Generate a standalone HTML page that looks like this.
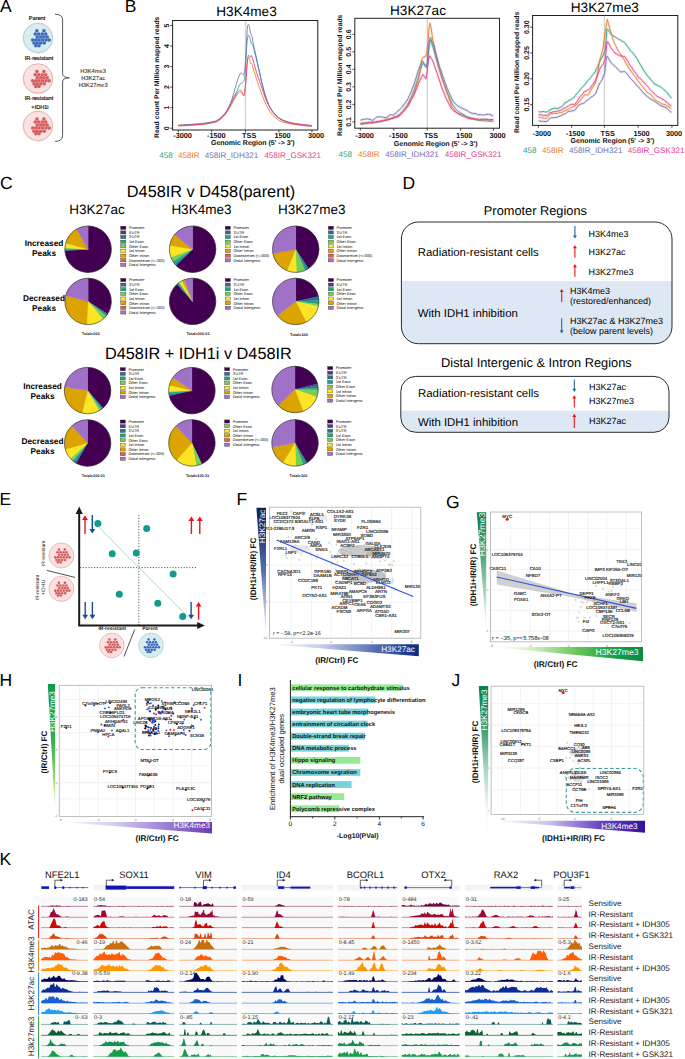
<!DOCTYPE html>
<html><head><meta charset="utf-8"><title>Figure</title>
<style>
html,body{margin:0;padding:0;background:#fff;}
body{width:685px;height:1059px;overflow:hidden;}
svg{display:block;font-family:"Liberation Sans", sans-serif;text-rendering:geometricPrecision;}
</style></head><body>
<svg width="685" height="1059" viewBox="0 0 685 1059">
<rect width="685" height="1059" fill="#fff"/>
<text x="37.00" y="20.00" font-size="5.60" text-anchor="middle" stroke="#000" stroke-width="0.15">Parent</text>
<circle cx="38.00" cy="38.40" r="14.90" fill="none" stroke="#e8e8e8" stroke-width="1" />
<circle cx="38.00" cy="37.80" r="14.70" fill="#d9edf1" stroke="#a9c5cb" stroke-width="0.8" />
<circle cx="36.90" cy="30.80" r="1.75" fill="#3b69bd" />
<circle cx="43.90" cy="30.80" r="1.75" fill="#3b69bd" />
<circle cx="35.20" cy="34.00" r="1.75" fill="#3b69bd" />
<circle cx="38.70" cy="34.00" r="1.75" fill="#3b69bd" />
<circle cx="42.20" cy="34.00" r="1.75" fill="#3b69bd" />
<circle cx="45.70" cy="34.00" r="1.75" fill="#3b69bd" />
<circle cx="37.20" cy="37.00" r="1.75" fill="#3b69bd" />
<circle cx="40.70" cy="37.00" r="1.75" fill="#3b69bd" />
<circle cx="43.90" cy="37.00" r="1.75" fill="#3b69bd" />
<circle cx="47.20" cy="37.00" r="1.75" fill="#3b69bd" />
<circle cx="32.60" cy="40.00" r="1.75" fill="#3b69bd" />
<circle cx="35.80" cy="40.00" r="1.75" fill="#3b69bd" />
<circle cx="39.00" cy="40.00" r="1.75" fill="#3b69bd" />
<circle cx="42.50" cy="40.00" r="1.75" fill="#3b69bd" />
<circle cx="46.00" cy="40.00" r="1.75" fill="#3b69bd" />
<circle cx="49.20" cy="40.00" r="1.75" fill="#3b69bd" />
<circle cx="34.00" cy="43.10" r="1.75" fill="#3b69bd" />
<circle cx="37.20" cy="43.10" r="1.75" fill="#3b69bd" />
<circle cx="40.70" cy="43.10" r="1.75" fill="#3b69bd" />
<circle cx="44.20" cy="43.10" r="1.75" fill="#3b69bd" />
<circle cx="35.80" cy="45.70" r="1.75" fill="#3b69bd" />
<circle cx="39.00" cy="45.70" r="1.75" fill="#3b69bd" />
<text x="39.00" y="59.90" font-size="5.60" text-anchor="middle" stroke="#000" stroke-width="0.15">IR-resistant</text>
<circle cx="38.00" cy="79.10" r="14.90" fill="none" stroke="#e8e8e8" stroke-width="1" />
<circle cx="38.00" cy="78.50" r="14.70" fill="#fbe1e1" stroke="#e5a3a3" stroke-width="0.8" />
<circle cx="36.90" cy="71.50" r="1.75" fill="#d55b5d" />
<circle cx="43.90" cy="71.50" r="1.75" fill="#d55b5d" />
<circle cx="35.20" cy="74.70" r="1.75" fill="#d55b5d" />
<circle cx="38.70" cy="74.70" r="1.75" fill="#d55b5d" />
<circle cx="42.20" cy="74.70" r="1.75" fill="#d55b5d" />
<circle cx="45.70" cy="74.70" r="1.75" fill="#d55b5d" />
<circle cx="37.20" cy="77.70" r="1.75" fill="#d55b5d" />
<circle cx="40.70" cy="77.70" r="1.75" fill="#d55b5d" />
<circle cx="43.90" cy="77.70" r="1.75" fill="#d55b5d" />
<circle cx="47.20" cy="77.70" r="1.75" fill="#d55b5d" />
<circle cx="32.60" cy="80.70" r="1.75" fill="#d55b5d" />
<circle cx="35.80" cy="80.70" r="1.75" fill="#d55b5d" />
<circle cx="39.00" cy="80.70" r="1.75" fill="#d55b5d" />
<circle cx="42.50" cy="80.70" r="1.75" fill="#d55b5d" />
<circle cx="46.00" cy="80.70" r="1.75" fill="#d55b5d" />
<circle cx="49.20" cy="80.70" r="1.75" fill="#d55b5d" />
<circle cx="34.00" cy="83.80" r="1.75" fill="#d55b5d" />
<circle cx="37.20" cy="83.80" r="1.75" fill="#d55b5d" />
<circle cx="40.70" cy="83.80" r="1.75" fill="#d55b5d" />
<circle cx="44.20" cy="83.80" r="1.75" fill="#d55b5d" />
<circle cx="35.80" cy="86.40" r="1.75" fill="#d55b5d" />
<circle cx="39.00" cy="86.40" r="1.75" fill="#d55b5d" />
<text x="39.00" y="100.30" font-size="5.60" text-anchor="middle" stroke="#000" stroke-width="0.15">IR-resistant</text>
<text x="40.00" y="108.60" font-size="5.60" text-anchor="middle" stroke="#000" stroke-width="0.15">+IDH1i</text>
<circle cx="38.00" cy="126.50" r="14.90" fill="none" stroke="#e8e8e8" stroke-width="1" />
<circle cx="38.00" cy="125.90" r="14.70" fill="#fbe1e1" stroke="#e5a3a3" stroke-width="0.8" />
<circle cx="36.90" cy="118.90" r="1.75" fill="#d55b5d" />
<circle cx="43.90" cy="118.90" r="1.75" fill="#d55b5d" />
<circle cx="35.20" cy="122.10" r="1.75" fill="#d55b5d" />
<circle cx="38.70" cy="122.10" r="1.75" fill="#d55b5d" />
<circle cx="42.20" cy="122.10" r="1.75" fill="#d55b5d" />
<circle cx="45.70" cy="122.10" r="1.75" fill="#d55b5d" />
<circle cx="37.20" cy="125.10" r="1.75" fill="#d55b5d" />
<circle cx="40.70" cy="125.10" r="1.75" fill="#d55b5d" />
<circle cx="43.90" cy="125.10" r="1.75" fill="#d55b5d" />
<circle cx="47.20" cy="125.10" r="1.75" fill="#d55b5d" />
<circle cx="32.60" cy="128.10" r="1.75" fill="#d55b5d" />
<circle cx="35.80" cy="128.10" r="1.75" fill="#d55b5d" />
<circle cx="39.00" cy="128.10" r="1.75" fill="#d55b5d" />
<circle cx="42.50" cy="128.10" r="1.75" fill="#d55b5d" />
<circle cx="46.00" cy="128.10" r="1.75" fill="#d55b5d" />
<circle cx="49.20" cy="128.10" r="1.75" fill="#d55b5d" />
<circle cx="34.00" cy="131.20" r="1.75" fill="#d55b5d" />
<circle cx="37.20" cy="131.20" r="1.75" fill="#d55b5d" />
<circle cx="40.70" cy="131.20" r="1.75" fill="#d55b5d" />
<circle cx="44.20" cy="131.20" r="1.75" fill="#d55b5d" />
<circle cx="35.80" cy="133.80" r="1.75" fill="#d55b5d" />
<circle cx="39.00" cy="133.80" r="1.75" fill="#d55b5d" />
<path d="M55,14.2 Q62.6,14.2 62.6,20 L62.6,73.5 Q62.6,77.8 69.3,77.8 Q62.6,77.8 62.6,82 L62.6,135.5 Q62.6,141.4 55,141.4" fill="none" stroke="#444" stroke-width="0.9" />
<text x="93.20" y="73.28" font-size="5.80" text-anchor="middle" >H3K4me3</text>
<text x="93.20" y="80.08" font-size="5.80" text-anchor="middle" >H3K27ac</text>
<text x="93.20" y="86.88" font-size="5.80" text-anchor="middle" >H3K27me3</text>
<text x="246.50" y="16.07" font-size="13.60" text-anchor="middle" >H3K4me3</text>
<line x1="245.50" y1="20.50" x2="245.50" y2="130.00" stroke="#d2d2d2" stroke-width="1.3" />
<path d="M178.32,125.58C180.6,125.4 187.6,125.0 191.9,124.7C196.2,124.4 200.8,124.0 204.4,123.6C207.9,123.2 210.9,122.6 213.1,122.1C215.3,121.6 215.6,121.9 217.5,120.5C219.4,119.2 222.5,116.5 224.5,114.0C226.6,111.5 228.3,108.0 229.8,105.4C231.2,102.8 232.1,100.8 233.3,98.4C234.4,96.1 235.7,93.8 236.8,91.4C237.9,89.1 238.8,85.9 239.8,84.4C240.9,82.9 242.1,83.4 242.9,82.2C243.7,81.1 244.2,81.3 244.7,77.4C245.2,73.5 245.6,64.8 246.0,58.8C246.4,52.8 246.7,45.1 247.1,41.3C247.5,37.4 248.0,36.4 248.4,35.6C248.8,34.8 249.2,35.7 249.5,36.5C249.8,37.2 250.1,39.0 250.4,40.2C250.7,41.3 250.9,42.5 251.2,43.2C251.5,44.0 251.8,44.2 252.1,44.6C252.4,45.0 252.5,44.0 253.0,45.7C253.5,47.3 254.4,51.4 255.2,54.4C255.9,57.4 256.6,60.5 257.4,63.6C258.1,66.7 258.8,69.9 259.6,73.0C260.3,76.2 261.0,79.4 261.7,82.4C262.5,85.4 263.2,88.4 263.9,91.0C264.7,93.6 265.3,95.8 266.1,98.2C266.9,100.6 267.8,103.2 268.8,105.2C269.7,107.2 270.6,108.8 271.6,110.2C272.5,111.7 273.5,112.8 274.4,114.0C275.4,115.1 275.9,115.9 277.3,117.0C278.7,118.1 280.9,119.6 282.8,120.5C284.6,121.5 286.6,122.0 288.5,122.5C290.3,123.1 292.1,123.5 293.9,123.8C295.8,124.2 297.4,124.4 299.4,124.7C301.4,125.0 303.7,125.3 305.8,125.6C307.8,125.8 310.7,126.1 311.7,126.2" fill="none" stroke="#2ea586" stroke-width="0.9" stroke-linejoin="round"/>
<path d="M178.32,126.01C180.6,125.9 187.6,125.6 191.9,125.4C196.2,125.1 200.8,124.7 204.4,124.3C207.9,123.8 210.9,123.2 213.1,122.7C215.3,122.3 215.6,122.6 217.5,121.4C219.4,120.2 222.5,118.0 224.5,115.7C226.6,113.4 228.3,110.0 229.8,107.6C231.2,105.2 232.1,103.4 233.3,101.3C234.4,99.2 235.7,96.7 236.8,95.1C237.9,93.6 239.0,92.4 239.8,92.1C240.7,91.7 241.0,92.6 241.6,93.2C242.2,93.8 242.8,95.4 243.4,95.6C243.9,95.8 244.2,97.1 244.7,94.3C245.1,91.4 245.6,83.7 246.0,78.5C246.4,73.3 246.8,66.5 247.1,63.2C247.4,59.9 247.4,59.7 247.7,58.8C248.0,57.9 248.5,57.5 248.8,57.9C249.2,58.4 249.6,60.4 249.9,61.4C250.2,62.4 250.5,63.5 250.8,63.8C251.1,64.2 251.5,62.8 251.9,63.6C252.3,64.4 252.7,66.8 253.2,68.6C253.8,70.5 254.4,72.2 255.2,74.6C255.9,76.9 256.9,80.1 257.8,82.9C258.7,85.7 259.7,88.6 260.7,91.2C261.6,93.8 262.4,95.9 263.3,98.2C264.2,100.5 265.1,102.7 266.1,104.8C267.1,106.9 268.3,108.9 269.4,110.7C270.5,112.4 271.4,113.9 272.7,115.3C274.0,116.7 275.6,118.1 277.3,119.2C279.0,120.4 280.2,121.2 282.8,122.1C285.3,122.9 289.5,123.7 292.6,124.3C295.7,124.8 298.2,125.0 301.4,125.4C304.6,125.7 310.0,126.1 311.7,126.2" fill="none" stroke="#e8802c" stroke-width="0.9" stroke-linejoin="round"/>
<path d="M178.32,125.14C180.6,125.0 187.6,124.6 191.9,124.3C196.2,123.9 200.8,123.6 204.4,123.2C207.9,122.7 210.9,122.2 213.1,121.6C215.3,121.1 216.1,120.7 217.5,119.9C219.0,119.1 220.4,118.2 221.9,116.8C223.4,115.5 224.8,114.1 226.3,111.8C227.7,109.4 229.5,105.6 230.7,102.8C231.8,100.0 232.4,97.8 233.3,94.9C234.2,92.0 235.0,88.4 235.9,85.5C236.8,82.6 237.7,79.5 238.5,77.4C239.3,75.3 240.1,73.6 240.7,73.0C241.3,72.4 241.8,73.4 242.3,73.7C242.7,74.0 243.1,75.5 243.6,74.8C244.0,74.0 244.4,73.4 244.9,69.3C245.3,65.2 245.8,56.9 246.2,50.0C246.6,43.2 246.9,32.4 247.3,28.1C247.7,23.9 248.0,24.6 248.4,24.4C248.8,24.2 249.2,25.7 249.5,27.0C249.8,28.4 250.1,31.3 250.4,32.5C250.7,33.8 250.9,33.8 251.2,34.5C251.5,35.2 251.8,35.6 252.1,36.9C252.4,38.2 252.5,39.6 253.0,42.2C253.5,44.7 254.4,48.9 255.2,52.2C255.9,55.6 256.6,58.9 257.4,62.3C258.1,65.7 258.8,69.1 259.6,72.4C260.3,75.7 261.0,79.0 261.7,82.0C262.5,85.0 263.2,87.9 263.9,90.5C264.7,93.2 265.3,95.4 266.1,97.8C266.9,100.1 267.8,102.8 268.8,104.8C269.7,106.8 270.6,108.4 271.6,109.8C272.5,111.3 273.5,112.4 274.4,113.5C275.4,114.7 275.9,115.5 277.3,116.6C278.7,117.7 280.9,119.2 282.8,120.1C284.6,121.0 286.6,121.5 288.5,122.1C290.3,122.6 292.1,123.0 293.9,123.4C295.8,123.8 297.4,124.0 299.4,124.3C301.4,124.6 303.7,124.8 305.8,125.1C307.8,125.4 310.7,125.9 311.7,126.0" fill="none" stroke="#7571b5" stroke-width="0.9" stroke-linejoin="round"/>
<path d="M178.32,125.58C180.6,125.5 187.6,125.2 191.9,124.9C196.2,124.6 200.8,124.3 204.4,123.8C207.9,123.4 210.9,122.8 213.1,122.3C215.3,121.8 215.6,122.0 217.5,120.8C219.4,119.5 222.5,117.0 224.5,114.6C226.6,112.2 228.3,108.9 229.8,106.3C231.2,103.8 232.1,101.5 233.3,99.3C234.4,97.1 235.7,94.9 236.8,93.4C237.9,91.9 239.0,90.4 239.8,90.1C240.7,89.8 241.1,90.9 241.6,91.6C242.1,92.4 242.5,94.3 242.9,94.7C243.4,95.1 243.8,95.4 244.2,93.8C244.7,92.2 245.1,89.4 245.5,85.1C246.0,80.7 246.5,72.3 246.9,67.6C247.3,62.8 247.6,58.6 248.0,56.6C248.3,54.6 248.7,55.4 249.0,55.5C249.4,55.6 249.8,57.3 250.1,57.3C250.5,57.3 250.9,55.4 251.2,55.5C251.6,55.6 251.7,55.7 252.3,57.7C253.0,59.7 254.3,64.7 255.2,67.8C256.1,70.9 256.9,73.5 257.8,76.3C258.7,79.1 259.7,81.7 260.7,84.4C261.6,87.1 262.4,89.7 263.3,92.3C264.2,94.9 265.1,97.6 266.1,100.0C267.1,102.3 268.3,104.5 269.4,106.5C270.5,108.5 271.4,110.3 272.7,112.0C274.0,113.7 275.6,115.4 277.3,116.8C279.0,118.2 280.2,119.3 282.8,120.3C285.3,121.4 289.5,122.5 292.6,123.2C295.7,123.9 298.2,124.1 301.4,124.5C304.6,124.8 310.0,125.2 311.7,125.4" fill="none" stroke="#e83e96" stroke-width="0.9" stroke-linejoin="round"/>
<rect x="172.60" y="20.50" width="145.20" height="109.50" fill="none" stroke="#222" stroke-width="1.0" />
<line x1="170.20" y1="128.20" x2="172.60" y2="128.20" stroke="#222" stroke-width="0.8" />
<text x="0" y="2.51" font-size="7.00" text-anchor="middle" font-weight="bold" fill="#111" transform="translate(166.30 128.20) rotate(-90)">0</text>
<line x1="170.20" y1="107.66" x2="172.60" y2="107.66" stroke="#222" stroke-width="0.8" />
<text x="0" y="2.51" font-size="7.00" text-anchor="middle" font-weight="bold" fill="#111" transform="translate(166.30 107.66) rotate(-90)">1</text>
<line x1="170.20" y1="87.12" x2="172.60" y2="87.12" stroke="#222" stroke-width="0.8" />
<text x="0" y="2.51" font-size="7.00" text-anchor="middle" font-weight="bold" fill="#111" transform="translate(166.30 87.12) rotate(-90)">2</text>
<line x1="170.20" y1="66.58" x2="172.60" y2="66.58" stroke="#222" stroke-width="0.8" />
<text x="0" y="2.51" font-size="7.00" text-anchor="middle" font-weight="bold" fill="#111" transform="translate(166.30 66.58) rotate(-90)">3</text>
<line x1="170.20" y1="46.04" x2="172.60" y2="46.04" stroke="#222" stroke-width="0.8" />
<text x="0" y="2.51" font-size="7.00" text-anchor="middle" font-weight="bold" fill="#111" transform="translate(166.30 46.04) rotate(-90)">4</text>
<line x1="170.20" y1="25.50" x2="172.60" y2="25.50" stroke="#222" stroke-width="0.8" />
<text x="0" y="2.51" font-size="7.00" text-anchor="middle" font-weight="bold" fill="#111" transform="translate(166.30 25.50) rotate(-90)">5</text>
<line x1="178.30" y1="130.00" x2="178.30" y2="132.40" stroke="#222" stroke-width="0.8" />
<text x="182.60" y="138.11" font-size="7.30" text-anchor="middle" font-weight="bold" fill="#111" >-3000</text>
<line x1="211.70" y1="130.00" x2="211.70" y2="132.40" stroke="#222" stroke-width="0.8" />
<text x="216.30" y="138.11" font-size="7.30" text-anchor="middle" font-weight="bold" fill="#111" >-1500</text>
<line x1="245.50" y1="130.00" x2="245.50" y2="132.40" stroke="#222" stroke-width="0.8" />
<text x="249.20" y="138.11" font-size="7.30" text-anchor="middle" font-weight="bold" fill="#111" >TSS</text>
<line x1="278.90" y1="130.00" x2="278.90" y2="132.40" stroke="#222" stroke-width="0.8" />
<text x="282.50" y="138.11" font-size="7.30" text-anchor="middle" font-weight="bold" fill="#111" >1500</text>
<line x1="311.90" y1="130.00" x2="311.90" y2="132.40" stroke="#222" stroke-width="0.8" />
<text x="316.00" y="138.11" font-size="7.30" text-anchor="middle" font-weight="bold" fill="#111" >3000</text>
<text x="252.80" y="144.51" font-size="7.00" text-anchor="middle" font-weight="bold" fill="#111" >Genomic Region (5' -&gt; 3')</text>
<text x="0" y="2.43" font-size="6.80" text-anchor="middle" font-weight="bold" fill="#111" transform="translate(156.60 77.25) rotate(-90)">Read count Per Million mapped reads</text>
<text x="159.20" y="157.60" font-size="8.10" fill="#2ea586" >458</text>
<text x="178.10" y="157.60" font-size="8.10" fill="#e8802c" >458IR</text>
<text x="204.70" y="157.60" font-size="8.10" fill="#7571b5" >458IR_IDH321</text>
<text x="264.30" y="157.60" font-size="8.10" fill="#e83e96" >458IR_GSK321</text>
<text x="418.00" y="15.37" font-size="13.60" text-anchor="middle" >H3K27ac</text>
<line x1="427.30" y1="18.30" x2="427.30" y2="128.20" stroke="#d2d2d2" stroke-width="1.3" />
<path d="M360.5,124.3L361.9,124.3L363.2,124.0L364.6,123.2L366.0,122.9L367.2,123.2L368.4,123.1L369.6,122.9L370.9,122.6L372.1,122.6L373.3,122.5L374.5,122.4L375.7,122.0L376.9,122.0L378.1,121.8L379.4,121.7L380.6,121.6L381.8,121.4L383.0,120.9L384.2,120.6L385.4,120.2L386.7,119.8L387.9,119.6L389.1,119.4L390.4,118.8L391.6,118.4L392.9,118.2L394.1,117.6L395.4,117.1L396.6,116.4L398.0,115.2L399.4,114.3L400.7,113.1L402.1,112.2L403.5,110.6L404.9,108.5L406.2,106.3L407.6,104.8L409.0,101.8L410.5,98.9L412.0,96.0L413.4,91.9L414.9,87.9L416.3,83.7L418.0,78.6L419.6,73.1L420.9,68.2L422.3,64.2L423.4,63.5L424.9,65.8L426.2,67.4L427.3,64.3L428.4,52.5L429.5,42.4L430.4,40.2L431.7,43.4L433.9,50.0L435.2,55.2L436.6,60.0L438.0,65.2L439.5,70.1L440.9,74.8L442.4,79.4L443.9,83.6L445.5,88.0L447.0,92.6L448.4,95.3L449.7,98.8L451.1,101.4L452.5,104.8L453.8,106.1L455.1,108.1L456.4,109.6L457.7,111.1L459.0,111.9L460.3,112.8L461.6,113.5L462.9,114.1L464.1,114.9L465.4,115.8L466.7,116.9L467.9,117.1L469.1,117.2L470.4,118.0L471.6,118.4L472.8,118.9L474.0,118.9L475.2,119.6L476.4,119.6L477.7,120.4L478.9,120.3L480.1,120.3L481.3,120.8L482.5,120.4L483.7,120.8L484.9,121.0L486.1,120.8L487.4,120.8L488.6,121.3L489.8,121.1L491.0,121.4L492.2,121.1L493.4,121.4" fill="none" stroke="#2ea586" stroke-width="2.6" stroke-opacity="0.18" stroke-linejoin="round"/>
<path d="M360.5,124.3L361.9,124.3L363.2,124.0L364.6,123.2L366.0,122.9L367.2,123.2L368.4,123.1L369.6,122.9L370.9,122.6L372.1,122.6L373.3,122.5L374.5,122.4L375.7,122.0L376.9,122.0L378.1,121.8L379.4,121.7L380.6,121.6L381.8,121.4L383.0,120.9L384.2,120.6L385.4,120.2L386.7,119.8L387.9,119.6L389.1,119.4L390.4,118.8L391.6,118.4L392.9,118.2L394.1,117.6L395.4,117.1L396.6,116.4L398.0,115.2L399.4,114.3L400.7,113.1L402.1,112.2L403.5,110.6L404.9,108.5L406.2,106.3L407.6,104.8L409.0,101.8L410.5,98.9L412.0,96.0L413.4,91.9L414.9,87.9L416.3,83.7L418.0,78.6L419.6,73.1L420.9,68.2L422.3,64.2L423.4,63.5L424.9,65.8L426.2,67.4L427.3,64.3L428.4,52.5L429.5,42.4L430.4,40.2L431.7,43.4L433.9,50.0L435.2,55.2L436.6,60.0L438.0,65.2L439.5,70.1L440.9,74.8L442.4,79.4L443.9,83.6L445.5,88.0L447.0,92.6L448.4,95.3L449.7,98.8L451.1,101.4L452.5,104.8L453.8,106.1L455.1,108.1L456.4,109.6L457.7,111.1L459.0,111.9L460.3,112.8L461.6,113.5L462.9,114.1L464.1,114.9L465.4,115.8L466.7,116.9L467.9,117.1L469.1,117.2L470.4,118.0L471.6,118.4L472.8,118.9L474.0,118.9L475.2,119.6L476.4,119.6L477.7,120.4L478.9,120.3L480.1,120.3L481.3,120.8L482.5,120.4L483.7,120.8L484.9,121.0L486.1,120.8L487.4,120.8L488.6,121.3L489.8,121.1L491.0,121.4L492.2,121.1L493.4,121.4" fill="none" stroke="#2ea586" stroke-width="0.9" stroke-linejoin="round"/>
<path d="M360.5,123.2L361.7,122.9L362.9,123.0L364.2,122.8L365.4,122.8L366.6,122.8L367.8,122.3L369.0,122.2L370.2,122.6L371.5,122.1L372.8,122.0L374.2,122.3L375.6,121.8L376.9,121.8L378.3,121.3L379.7,121.2L381.0,120.6L382.4,120.6L383.8,120.4L385.1,119.9L386.5,119.7L387.9,119.3L389.1,118.6L390.3,118.6L391.5,118.0L392.7,117.5L394.0,116.9L395.2,117.0L396.4,116.3L397.6,116.0L398.8,115.7L400.1,114.2L401.3,112.9L402.6,111.2L403.8,110.1L405.1,108.4L406.3,107.3L407.6,105.9L408.9,102.8L410.2,100.2L411.5,97.6L412.8,95.4L414.2,92.5L415.6,88.2L417.1,83.6L418.5,79.4L420.5,68.6L421.8,59.6L423.4,56.9L425.1,56.9L426.6,53.3L428.0,41.4L429.0,28.4L429.9,23.1L431.0,27.3L432.8,40.1L434.3,46.9L435.8,54.4L437.5,61.0L439.1,67.6L440.8,73.4L442.4,79.5L443.9,83.6L445.5,88.3L447.0,92.6L448.5,96.8L449.9,101.0L451.4,105.9L452.8,108.1L454.3,109.8L455.8,112.4L457.0,112.9L458.2,113.5L459.5,114.3L460.7,115.3L462.0,116.1L463.2,116.3L464.5,117.0L465.8,117.1L467.1,117.8L468.5,118.0L469.8,118.7L471.1,119.1L472.3,119.0L473.5,119.5L474.7,119.3L476.0,119.4L477.2,119.9L478.4,119.8L479.6,120.1L480.9,120.0L482.3,119.9L483.6,119.5L484.9,119.2L486.2,119.4L487.4,119.2L488.6,119.7L489.8,119.8L491.0,119.6L492.2,119.7L493.4,119.9" fill="none" stroke="#e8802c" stroke-width="2.6" stroke-opacity="0.18" stroke-linejoin="round"/>
<path d="M360.5,123.2L361.7,122.9L362.9,123.0L364.2,122.8L365.4,122.8L366.6,122.8L367.8,122.3L369.0,122.2L370.2,122.6L371.5,122.1L372.8,122.0L374.2,122.3L375.6,121.8L376.9,121.8L378.3,121.3L379.7,121.2L381.0,120.6L382.4,120.6L383.8,120.4L385.1,119.9L386.5,119.7L387.9,119.3L389.1,118.6L390.3,118.6L391.5,118.0L392.7,117.5L394.0,116.9L395.2,117.0L396.4,116.3L397.6,116.0L398.8,115.7L400.1,114.2L401.3,112.9L402.6,111.2L403.8,110.1L405.1,108.4L406.3,107.3L407.6,105.9L408.9,102.8L410.2,100.2L411.5,97.6L412.8,95.4L414.2,92.5L415.6,88.2L417.1,83.6L418.5,79.4L420.5,68.6L421.8,59.6L423.4,56.9L425.1,56.9L426.6,53.3L428.0,41.4L429.0,28.4L429.9,23.1L431.0,27.3L432.8,40.1L434.3,46.9L435.8,54.4L437.5,61.0L439.1,67.6L440.8,73.4L442.4,79.5L443.9,83.6L445.5,88.3L447.0,92.6L448.5,96.8L449.9,101.0L451.4,105.9L452.8,108.1L454.3,109.8L455.8,112.4L457.0,112.9L458.2,113.5L459.5,114.3L460.7,115.3L462.0,116.1L463.2,116.3L464.5,117.0L465.8,117.1L467.1,117.8L468.5,118.0L469.8,118.7L471.1,119.1L472.3,119.0L473.5,119.5L474.7,119.3L476.0,119.4L477.2,119.9L478.4,119.8L479.6,120.1L480.9,120.0L482.3,119.9L483.6,119.5L484.9,119.2L486.2,119.4L487.4,119.2L488.6,119.7L489.8,119.8L491.0,119.6L492.2,119.7L493.4,119.9" fill="none" stroke="#e8802c" stroke-width="0.9" stroke-linejoin="round"/>
<path d="M360.5,120.3L362.0,119.8L363.4,119.3L364.9,119.2L366.3,119.0L367.6,118.9L369.0,119.2L370.4,119.5L371.7,120.0L373.0,120.5L374.3,119.0L375.6,118.2L376.9,116.9L378.2,116.8L379.6,116.8L380.9,116.8L382.2,117.3L383.5,117.3L385.1,117.6L386.8,117.9L388.4,116.1L390.1,114.7L391.7,114.9L393.4,115.0L395.0,113.8L396.6,112.5L398.0,110.7L399.4,109.8L400.7,108.6L402.1,107.2L403.6,105.0L405.0,103.2L406.5,101.0L408.0,98.7L409.4,95.7L410.9,92.5L412.3,88.4L413.8,84.8L415.3,80.5L416.9,75.3L418.5,69.8L420.2,65.7L421.8,61.8L422.9,61.3L424.4,64.2L426.2,66.0L427.3,63.9L428.4,50.3L429.5,39.9L430.4,37.5L431.7,40.9L433.9,45.3L435.2,50.9L436.6,56.4L438.0,61.7L439.5,66.6L440.9,70.4L442.4,74.9L443.9,79.2L445.5,83.8L447.0,88.0L448.4,91.0L449.7,94.3L451.1,97.0L452.5,100.2L453.9,102.3L455.4,103.5L456.9,105.3L458.1,106.1L459.4,107.1L460.7,107.7L461.9,108.1L463.2,108.8L464.5,109.3L465.8,110.1L467.1,110.5L468.5,111.6L469.8,112.3L471.1,113.0L472.4,113.2L473.7,113.7L475.0,113.4L476.3,113.9L477.7,114.7L479.0,114.7L480.3,114.6L481.6,115.0L482.9,114.9L484.3,115.0L485.6,114.5L487.0,114.4L488.3,114.5L489.7,114.2L490.9,114.8L492.2,115.8L493.4,115.9" fill="none" stroke="#7571b5" stroke-width="2.6" stroke-opacity="0.18" stroke-linejoin="round"/>
<path d="M360.5,120.3L362.0,119.8L363.4,119.3L364.9,119.2L366.3,119.0L367.6,118.9L369.0,119.2L370.4,119.5L371.7,120.0L373.0,120.5L374.3,119.0L375.6,118.2L376.9,116.9L378.2,116.8L379.6,116.8L380.9,116.8L382.2,117.3L383.5,117.3L385.1,117.6L386.8,117.9L388.4,116.1L390.1,114.7L391.7,114.9L393.4,115.0L395.0,113.8L396.6,112.5L398.0,110.7L399.4,109.8L400.7,108.6L402.1,107.2L403.6,105.0L405.0,103.2L406.5,101.0L408.0,98.7L409.4,95.7L410.9,92.5L412.3,88.4L413.8,84.8L415.3,80.5L416.9,75.3L418.5,69.8L420.2,65.7L421.8,61.8L422.9,61.3L424.4,64.2L426.2,66.0L427.3,63.9L428.4,50.3L429.5,39.9L430.4,37.5L431.7,40.9L433.9,45.3L435.2,50.9L436.6,56.4L438.0,61.7L439.5,66.6L440.9,70.4L442.4,74.9L443.9,79.2L445.5,83.8L447.0,88.0L448.4,91.0L449.7,94.3L451.1,97.0L452.5,100.2L453.9,102.3L455.4,103.5L456.9,105.3L458.1,106.1L459.4,107.1L460.7,107.7L461.9,108.1L463.2,108.8L464.5,109.3L465.8,110.1L467.1,110.5L468.5,111.6L469.8,112.3L471.1,113.0L472.4,113.2L473.7,113.7L475.0,113.4L476.3,113.9L477.7,114.7L479.0,114.7L480.3,114.6L481.6,115.0L482.9,114.9L484.3,115.0L485.6,114.5L487.0,114.4L488.3,114.5L489.7,114.2L490.9,114.8L492.2,115.8L493.4,115.9" fill="none" stroke="#7571b5" stroke-width="0.9" stroke-linejoin="round"/>
<path d="M360.5,123.6L361.7,123.6L362.9,123.6L364.2,123.5L365.4,123.5L366.6,123.3L367.8,123.3L369.0,122.6L370.2,122.8L371.5,123.0L372.8,122.7L374.2,122.6L375.6,122.0L376.9,122.1L378.3,121.6L379.7,121.6L381.0,121.3L382.4,120.7L383.8,120.5L385.1,120.3L386.5,120.4L387.9,120.0L389.1,119.3L390.3,119.3L391.5,118.6L392.7,118.5L394.0,117.8L395.2,117.4L396.4,117.6L397.6,116.8L398.8,116.4L400.1,115.5L401.3,114.0L402.6,112.2L403.8,111.2L405.1,109.6L406.3,108.3L407.6,106.6L408.9,104.6L410.2,102.0L411.5,99.8L412.8,97.3L414.2,94.6L415.6,91.0L417.1,87.2L418.5,83.5L420.0,80.4L421.5,77.4L422.9,74.4L424.4,76.4L426.0,78.8L427.1,71.8L428.4,59.8L429.9,55.9L431.5,58.8L433.2,61.7L434.4,65.5L435.7,69.3L436.9,72.5L438.4,77.5L439.8,81.3L441.3,86.1L442.8,90.2L444.4,93.7L445.9,98.2L447.3,100.6L448.6,103.5L450.0,105.9L451.4,108.7L452.6,109.6L453.9,111.0L455.2,111.4L456.5,112.6L457.7,113.6L459.0,114.1L460.2,114.3L461.5,114.8L462.7,115.5L463.9,116.2L465.2,116.3L466.4,117.2L467.7,117.8L468.9,118.3L470.2,118.0L471.6,118.7L472.9,118.3L474.3,118.6L475.6,118.9L476.9,119.2L478.3,119.0L479.6,119.5L480.9,119.3L482.1,119.2L483.4,119.3L484.6,119.3L485.9,119.3L487.1,119.4L488.4,119.8L489.7,120.0L490.9,119.6L492.2,119.6L493.4,119.9" fill="none" stroke="#e83e96" stroke-width="2.6" stroke-opacity="0.18" stroke-linejoin="round"/>
<path d="M360.5,123.6L361.7,123.6L362.9,123.6L364.2,123.5L365.4,123.5L366.6,123.3L367.8,123.3L369.0,122.6L370.2,122.8L371.5,123.0L372.8,122.7L374.2,122.6L375.6,122.0L376.9,122.1L378.3,121.6L379.7,121.6L381.0,121.3L382.4,120.7L383.8,120.5L385.1,120.3L386.5,120.4L387.9,120.0L389.1,119.3L390.3,119.3L391.5,118.6L392.7,118.5L394.0,117.8L395.2,117.4L396.4,117.6L397.6,116.8L398.8,116.4L400.1,115.5L401.3,114.0L402.6,112.2L403.8,111.2L405.1,109.6L406.3,108.3L407.6,106.6L408.9,104.6L410.2,102.0L411.5,99.8L412.8,97.3L414.2,94.6L415.6,91.0L417.1,87.2L418.5,83.5L420.0,80.4L421.5,77.4L422.9,74.4L424.4,76.4L426.0,78.8L427.1,71.8L428.4,59.8L429.9,55.9L431.5,58.8L433.2,61.7L434.4,65.5L435.7,69.3L436.9,72.5L438.4,77.5L439.8,81.3L441.3,86.1L442.8,90.2L444.4,93.7L445.9,98.2L447.3,100.6L448.6,103.5L450.0,105.9L451.4,108.7L452.6,109.6L453.9,111.0L455.2,111.4L456.5,112.6L457.7,113.6L459.0,114.1L460.2,114.3L461.5,114.8L462.7,115.5L463.9,116.2L465.2,116.3L466.4,117.2L467.7,117.8L468.9,118.3L470.2,118.0L471.6,118.7L472.9,118.3L474.3,118.6L475.6,118.9L476.9,119.2L478.3,119.0L479.6,119.5L480.9,119.3L482.1,119.2L483.4,119.3L484.6,119.3L485.9,119.3L487.1,119.4L488.4,119.8L489.7,120.0L490.9,119.6L492.2,119.6L493.4,119.9" fill="none" stroke="#e83e96" stroke-width="0.9" stroke-linejoin="round"/>
<rect x="354.80" y="18.30" width="144.70" height="109.90" fill="none" stroke="#222" stroke-width="1.0" />
<line x1="352.40" y1="121.90" x2="354.80" y2="121.90" stroke="#222" stroke-width="0.8" />
<text x="0" y="2.51" font-size="7.00" text-anchor="middle" font-weight="bold" fill="#111" transform="translate(348.40 121.90) rotate(-90)">0.1</text>
<line x1="352.40" y1="104.38" x2="354.80" y2="104.38" stroke="#222" stroke-width="0.8" />
<text x="0" y="2.51" font-size="7.00" text-anchor="middle" font-weight="bold" fill="#111" transform="translate(348.40 104.38) rotate(-90)">0.2</text>
<line x1="352.40" y1="86.86" x2="354.80" y2="86.86" stroke="#222" stroke-width="0.8" />
<text x="0" y="2.51" font-size="7.00" text-anchor="middle" font-weight="bold" fill="#111" transform="translate(348.40 86.86) rotate(-90)">0.3</text>
<line x1="352.40" y1="69.34" x2="354.80" y2="69.34" stroke="#222" stroke-width="0.8" />
<text x="0" y="2.51" font-size="7.00" text-anchor="middle" font-weight="bold" fill="#111" transform="translate(348.40 69.34) rotate(-90)">0.4</text>
<line x1="352.40" y1="51.82" x2="354.80" y2="51.82" stroke="#222" stroke-width="0.8" />
<text x="0" y="2.51" font-size="7.00" text-anchor="middle" font-weight="bold" fill="#111" transform="translate(348.40 51.82) rotate(-90)">0.5</text>
<line x1="352.40" y1="34.30" x2="354.80" y2="34.30" stroke="#222" stroke-width="0.8" />
<text x="0" y="2.51" font-size="7.00" text-anchor="middle" font-weight="bold" fill="#111" transform="translate(348.40 34.30) rotate(-90)">0.6</text>
<line x1="360.30" y1="128.20" x2="360.30" y2="130.60" stroke="#222" stroke-width="0.8" />
<text x="364.60" y="138.41" font-size="7.30" text-anchor="middle" font-weight="bold" fill="#111" >-3000</text>
<line x1="393.80" y1="128.20" x2="393.80" y2="130.60" stroke="#222" stroke-width="0.8" />
<text x="398.40" y="138.41" font-size="7.30" text-anchor="middle" font-weight="bold" fill="#111" >-1500</text>
<line x1="427.30" y1="128.20" x2="427.30" y2="130.60" stroke="#222" stroke-width="0.8" />
<text x="431.00" y="138.41" font-size="7.30" text-anchor="middle" font-weight="bold" fill="#111" >TSS</text>
<line x1="460.60" y1="128.20" x2="460.60" y2="130.60" stroke="#222" stroke-width="0.8" />
<text x="464.20" y="138.41" font-size="7.30" text-anchor="middle" font-weight="bold" fill="#111" >1500</text>
<line x1="493.40" y1="128.20" x2="493.40" y2="130.60" stroke="#222" stroke-width="0.8" />
<text x="497.50" y="138.41" font-size="7.30" text-anchor="middle" font-weight="bold" fill="#111" >3000</text>
<text x="435.70" y="145.71" font-size="7.00" text-anchor="middle" font-weight="bold" fill="#111" >Genomic Region (5' -&gt; 3')</text>
<text x="0" y="2.43" font-size="6.80" text-anchor="middle" font-weight="bold" fill="#111" transform="translate(339.20 75.25) rotate(-90)">Read count Per Million mapped reads</text>
<text x="338.40" y="156.60" font-size="8.10" fill="#2ea586" >458</text>
<text x="358.10" y="156.60" font-size="8.10" fill="#e8802c" >458IR</text>
<text x="385.20" y="156.60" font-size="8.10" fill="#7571b5" >458IR_IDH321</text>
<text x="444.80" y="156.60" font-size="8.10" fill="#e83e96" >458IR_GSK321</text>
<text x="604.80" y="12.17" font-size="13.60" text-anchor="middle" >H3K27me3</text>
<line x1="604.40" y1="15.50" x2="604.40" y2="125.40" stroke="#d2d2d2" stroke-width="1.3" />
<path d="M538.5,111.8L540.0,111.9L541.5,111.8L542.9,111.4L544.6,111.8L546.2,112.1L547.8,111.5L549.5,110.3L550.9,109.7L552.4,108.7L553.9,108.3L555.5,108.2L557.2,108.7L558.6,108.2L560.1,107.5L561.5,107.0L563.2,105.2L564.8,102.8L566.3,102.2L567.7,101.5L569.2,100.3L570.7,99.8L572.1,98.8L573.6,98.0L575.2,95.7L576.9,93.6L578.5,91.9L580.1,89.7L581.6,88.0L583.1,86.3L584.5,84.9L586.2,83.0L587.8,80.6L590.0,78.4L591.5,76.5L592.9,74.5L594.4,73.2L596.0,69.7L597.7,66.8L599.8,61.3L601.5,58.3L603.1,55.6L605.3,50.2L606.9,29.5L607.3,28.9L609.0,31.1L610.8,34.2L612.2,35.3L613.6,35.9L615.0,37.0L616.4,37.5L617.9,39.0L619.3,39.6L620.7,40.1L622.1,41.3L623.4,41.9L624.8,42.6L626.3,44.9L627.7,46.7L629.2,48.8L630.6,50.9L632.0,52.4L633.5,53.6L634.9,55.7L636.3,57.4L637.7,59.8L639.0,62.4L640.4,64.7L641.8,66.9L643.1,69.4L644.5,71.9L646.0,73.5L647.4,76.0L648.9,77.1L650.3,79.0L651.7,80.9L653.2,82.3L654.6,84.3L656.0,84.4L657.3,85.4L658.7,85.9L660.1,86.3L661.3,87.6L662.6,88.4L663.9,89.7L665.1,90.8L666.4,91.7L667.7,93.3L668.9,95.1L670.2,96.5L671.4,98.2" fill="none" stroke="#2ea586" stroke-width="2.6" stroke-opacity="0.18" stroke-linejoin="round"/>
<path d="M538.5,111.8L540.0,111.9L541.5,111.8L542.9,111.4L544.6,111.8L546.2,112.1L547.8,111.5L549.5,110.3L550.9,109.7L552.4,108.7L553.9,108.3L555.5,108.2L557.2,108.7L558.6,108.2L560.1,107.5L561.5,107.0L563.2,105.2L564.8,102.8L566.3,102.2L567.7,101.5L569.2,100.3L570.7,99.8L572.1,98.8L573.6,98.0L575.2,95.7L576.9,93.6L578.5,91.9L580.1,89.7L581.6,88.0L583.1,86.3L584.5,84.9L586.2,83.0L587.8,80.6L590.0,78.4L591.5,76.5L592.9,74.5L594.4,73.2L596.0,69.7L597.7,66.8L599.8,61.3L601.5,58.3L603.1,55.6L605.3,50.2L606.9,29.5L607.3,28.9L609.0,31.1L610.8,34.2L612.2,35.3L613.6,35.9L615.0,37.0L616.4,37.5L617.9,39.0L619.3,39.6L620.7,40.1L622.1,41.3L623.4,41.9L624.8,42.6L626.3,44.9L627.7,46.7L629.2,48.8L630.6,50.9L632.0,52.4L633.5,53.6L634.9,55.7L636.3,57.4L637.7,59.8L639.0,62.4L640.4,64.7L641.8,66.9L643.1,69.4L644.5,71.9L646.0,73.5L647.4,76.0L648.9,77.1L650.3,79.0L651.7,80.9L653.2,82.3L654.6,84.3L656.0,84.4L657.3,85.4L658.7,85.9L660.1,86.3L661.3,87.6L662.6,88.4L663.9,89.7L665.1,90.8L666.4,91.7L667.7,93.3L668.9,95.1L670.2,96.5L671.4,98.2" fill="none" stroke="#2ea586" stroke-width="0.9" stroke-linejoin="round"/>
<path d="M538.5,117.3L539.8,117.4L541.1,117.5L542.4,118.1L543.6,117.9L544.9,118.4L546.2,118.5L547.7,116.8L549.1,115.5L550.6,113.7L552.0,113.9L553.3,113.5L554.7,113.4L556.1,113.5L557.4,113.5L558.8,112.8L560.2,112.6L561.5,112.6L562.8,112.1L564.2,111.2L565.5,110.4L566.8,110.2L568.1,108.9L569.4,108.9L570.7,107.9L572.0,107.2L573.4,106.6L574.7,106.2L576.1,105.1L577.6,103.2L579.0,102.0L580.4,100.3L581.8,98.4L583.2,96.7L584.5,94.7L586.2,94.9L587.8,95.2L589.3,93.2L590.7,90.7L592.2,88.3L593.8,85.7L595.5,82.9L597.7,71.8L599.8,60.1L601.5,54.0L603.1,47.7L605.3,31.5L607.3,19.4L608.5,24.1L609.7,28.3L611.9,35.7L614.1,42.7L615.6,45.4L617.1,48.9L618.8,51.9L620.4,54.2L621.9,56.6L623.4,58.5L624.8,61.1L626.3,63.8L627.7,66.2L629.2,68.9L630.5,70.3L631.8,72.3L633.1,74.0L634.4,75.7L635.8,77.4L637.1,79.6L638.5,81.6L639.9,83.2L641.2,85.2L642.6,86.4L644.0,88.5L645.3,90.1L646.7,92.0L648.2,93.0L649.8,93.7L651.3,94.9L652.8,96.9L654.2,98.3L655.7,100.4L657.0,100.9L658.2,101.7L659.5,102.4L660.8,103.6L662.0,103.9L663.7,104.3L665.3,104.7L666.5,105.8L667.8,106.0L669.0,107.0L670.2,107.8L671.4,108.5" fill="none" stroke="#e8802c" stroke-width="2.6" stroke-opacity="0.18" stroke-linejoin="round"/>
<path d="M538.5,117.3L539.8,117.4L541.1,117.5L542.4,118.1L543.6,117.9L544.9,118.4L546.2,118.5L547.7,116.8L549.1,115.5L550.6,113.7L552.0,113.9L553.3,113.5L554.7,113.4L556.1,113.5L557.4,113.5L558.8,112.8L560.2,112.6L561.5,112.6L562.8,112.1L564.2,111.2L565.5,110.4L566.8,110.2L568.1,108.9L569.4,108.9L570.7,107.9L572.0,107.2L573.4,106.6L574.7,106.2L576.1,105.1L577.6,103.2L579.0,102.0L580.4,100.3L581.8,98.4L583.2,96.7L584.5,94.7L586.2,94.9L587.8,95.2L589.3,93.2L590.7,90.7L592.2,88.3L593.8,85.7L595.5,82.9L597.7,71.8L599.8,60.1L601.5,54.0L603.1,47.7L605.3,31.5L607.3,19.4L608.5,24.1L609.7,28.3L611.9,35.7L614.1,42.7L615.6,45.4L617.1,48.9L618.8,51.9L620.4,54.2L621.9,56.6L623.4,58.5L624.8,61.1L626.3,63.8L627.7,66.2L629.2,68.9L630.5,70.3L631.8,72.3L633.1,74.0L634.4,75.7L635.8,77.4L637.1,79.6L638.5,81.6L639.9,83.2L641.2,85.2L642.6,86.4L644.0,88.5L645.3,90.1L646.7,92.0L648.2,93.0L649.8,93.7L651.3,94.9L652.8,96.9L654.2,98.3L655.7,100.4L657.0,100.9L658.2,101.7L659.5,102.4L660.8,103.6L662.0,103.9L663.7,104.3L665.3,104.7L666.5,105.8L667.8,106.0L669.0,107.0L670.2,107.8L671.4,108.5" fill="none" stroke="#e8802c" stroke-width="0.9" stroke-linejoin="round"/>
<path d="M538.5,120.8L539.8,120.8L541.1,121.5L542.4,121.1L543.6,121.7L544.9,121.4L546.2,121.7L547.7,120.9L549.1,119.1L550.6,118.0L552.0,117.8L553.3,117.7L554.7,117.6L556.1,117.3L557.4,117.3L558.8,116.3L560.2,116.0L561.5,115.4L562.8,114.8L564.2,114.1L565.5,113.7L566.8,112.5L568.1,111.5L569.4,111.3L570.7,111.5L572.0,110.6L573.4,110.7L574.7,110.2L576.1,108.6L577.6,106.5L579.0,104.9L580.4,104.3L581.8,103.8L583.2,103.4L584.5,102.7L585.9,101.3L587.3,100.1L588.6,99.6L590.0,98.2L591.4,96.9L592.7,96.4L594.1,95.0L595.5,94.0L597.1,89.7L598.8,85.0L600.4,82.3L602.0,79.9L603.4,76.1L604.7,73.2L606.4,58.5L607.3,56.3L609.0,59.3L610.8,62.4L612.2,63.8L613.6,65.0L615.0,66.3L616.3,67.6L617.7,69.2L619.1,70.6L620.4,71.7L621.9,72.0L623.4,71.5L624.8,71.5L626.2,72.9L627.7,74.7L629.1,76.4L630.5,78.4L631.8,79.7L633.1,81.2L634.4,82.6L635.8,84.2L637.1,85.8L638.4,86.8L639.7,88.5L641.0,89.9L642.3,91.8L643.7,93.4L645.1,94.2L646.4,96.0L647.8,97.0L649.2,97.7L650.5,99.1L651.9,99.7L653.2,100.4L654.6,101.5L655.9,102.2L657.1,103.2L658.4,104.1L659.7,105.0L660.9,106.0L662.3,106.3L663.7,106.7L665.0,107.3L666.4,107.8L667.7,109.2L668.9,110.2L670.2,111.6L671.4,112.5" fill="none" stroke="#7571b5" stroke-width="2.6" stroke-opacity="0.18" stroke-linejoin="round"/>
<path d="M538.5,120.8L539.8,120.8L541.1,121.5L542.4,121.1L543.6,121.7L544.9,121.4L546.2,121.7L547.7,120.9L549.1,119.1L550.6,118.0L552.0,117.8L553.3,117.7L554.7,117.6L556.1,117.3L557.4,117.3L558.8,116.3L560.2,116.0L561.5,115.4L562.8,114.8L564.2,114.1L565.5,113.7L566.8,112.5L568.1,111.5L569.4,111.3L570.7,111.5L572.0,110.6L573.4,110.7L574.7,110.2L576.1,108.6L577.6,106.5L579.0,104.9L580.4,104.3L581.8,103.8L583.2,103.4L584.5,102.7L585.9,101.3L587.3,100.1L588.6,99.6L590.0,98.2L591.4,96.9L592.7,96.4L594.1,95.0L595.5,94.0L597.1,89.7L598.8,85.0L600.4,82.3L602.0,79.9L603.4,76.1L604.7,73.2L606.4,58.5L607.3,56.3L609.0,59.3L610.8,62.4L612.2,63.8L613.6,65.0L615.0,66.3L616.3,67.6L617.7,69.2L619.1,70.6L620.4,71.7L621.9,72.0L623.4,71.5L624.8,71.5L626.2,72.9L627.7,74.7L629.1,76.4L630.5,78.4L631.8,79.7L633.1,81.2L634.4,82.6L635.8,84.2L637.1,85.8L638.4,86.8L639.7,88.5L641.0,89.9L642.3,91.8L643.7,93.4L645.1,94.2L646.4,96.0L647.8,97.0L649.2,97.7L650.5,99.1L651.9,99.7L653.2,100.4L654.6,101.5L655.9,102.2L657.1,103.2L658.4,104.1L659.7,105.0L660.9,106.0L662.3,106.3L663.7,106.7L665.0,107.3L666.4,107.8L667.7,109.2L668.9,110.2L670.2,111.6L671.4,112.5" fill="none" stroke="#7571b5" stroke-width="0.9" stroke-linejoin="round"/>
<path d="M538.5,114.7L539.8,114.8L541.1,114.9L542.4,115.0L543.6,115.7L544.9,115.2L546.2,115.8L547.7,114.9L549.1,113.3L550.6,112.5L552.0,112.3L553.3,111.6L554.7,111.6L556.1,111.5L557.4,111.1L558.8,111.0L560.2,110.3L561.5,110.1L562.9,109.1L564.3,108.4L565.7,107.7L567.1,106.7L568.5,106.0L570.0,104.9L571.4,104.3L573.0,104.2L574.7,104.7L576.1,102.7L577.6,100.6L579.0,98.2L580.4,96.3L581.8,94.8L583.2,93.1L584.5,91.5L586.0,91.2L587.4,90.0L588.9,89.8L590.4,87.9L591.8,85.5L593.3,83.9L594.9,81.3L596.6,78.2L598.2,73.6L599.8,69.0L601.5,66.2L603.1,64.4L605.3,58.6L606.6,45.1L607.5,41.6L609.2,44.4L610.8,47.5L612.2,49.4L613.6,51.6L615.0,53.0L616.4,53.8L617.9,54.8L619.3,55.8L620.7,55.8L622.1,56.0L623.4,56.5L624.8,56.4L626.2,58.9L627.5,60.8L628.9,63.3L630.2,65.7L631.6,67.3L632.9,69.4L634.1,71.2L635.4,72.6L636.7,74.4L637.9,76.7L639.3,78.0L640.6,78.7L641.9,80.4L643.2,81.9L644.5,82.7L645.9,84.6L647.3,85.9L648.6,87.7L650.0,89.6L651.3,90.9L652.7,92.3L654.1,93.1L655.4,94.6L656.8,96.3L658.0,96.8L659.3,97.3L660.6,98.0L661.9,99.0L663.1,99.4L664.5,100.2L665.9,101.9L667.3,102.7L668.7,104.0L670.1,105.0L671.4,106.3" fill="none" stroke="#e83e96" stroke-width="2.6" stroke-opacity="0.18" stroke-linejoin="round"/>
<path d="M538.5,114.7L539.8,114.8L541.1,114.9L542.4,115.0L543.6,115.7L544.9,115.2L546.2,115.8L547.7,114.9L549.1,113.3L550.6,112.5L552.0,112.3L553.3,111.6L554.7,111.6L556.1,111.5L557.4,111.1L558.8,111.0L560.2,110.3L561.5,110.1L562.9,109.1L564.3,108.4L565.7,107.7L567.1,106.7L568.5,106.0L570.0,104.9L571.4,104.3L573.0,104.2L574.7,104.7L576.1,102.7L577.6,100.6L579.0,98.2L580.4,96.3L581.8,94.8L583.2,93.1L584.5,91.5L586.0,91.2L587.4,90.0L588.9,89.8L590.4,87.9L591.8,85.5L593.3,83.9L594.9,81.3L596.6,78.2L598.2,73.6L599.8,69.0L601.5,66.2L603.1,64.4L605.3,58.6L606.6,45.1L607.5,41.6L609.2,44.4L610.8,47.5L612.2,49.4L613.6,51.6L615.0,53.0L616.4,53.8L617.9,54.8L619.3,55.8L620.7,55.8L622.1,56.0L623.4,56.5L624.8,56.4L626.2,58.9L627.5,60.8L628.9,63.3L630.2,65.7L631.6,67.3L632.9,69.4L634.1,71.2L635.4,72.6L636.7,74.4L637.9,76.7L639.3,78.0L640.6,78.7L641.9,80.4L643.2,81.9L644.5,82.7L645.9,84.6L647.3,85.9L648.6,87.7L650.0,89.6L651.3,90.9L652.7,92.3L654.1,93.1L655.4,94.6L656.8,96.3L658.0,96.8L659.3,97.3L660.6,98.0L661.9,99.0L663.1,99.4L664.5,100.2L665.9,101.9L667.3,102.7L668.7,104.0L670.1,105.0L671.4,106.3" fill="none" stroke="#e83e96" stroke-width="0.9" stroke-linejoin="round"/>
<rect x="532.60" y="15.50" width="145.20" height="109.90" fill="none" stroke="#222" stroke-width="1.0" />
<line x1="530.20" y1="104.60" x2="532.60" y2="104.60" stroke="#222" stroke-width="0.8" />
<text x="0" y="2.51" font-size="7.00" text-anchor="middle" font-weight="bold" fill="#111" transform="translate(526.20 104.60) rotate(-90)">0.15</text>
<line x1="530.20" y1="78.80" x2="532.60" y2="78.80" stroke="#222" stroke-width="0.8" />
<text x="0" y="2.51" font-size="7.00" text-anchor="middle" font-weight="bold" fill="#111" transform="translate(526.20 78.80) rotate(-90)">0.20</text>
<line x1="530.20" y1="53.00" x2="532.60" y2="53.00" stroke="#222" stroke-width="0.8" />
<text x="0" y="2.51" font-size="7.00" text-anchor="middle" font-weight="bold" fill="#111" transform="translate(526.20 53.00) rotate(-90)">0.25</text>
<line x1="530.20" y1="27.20" x2="532.60" y2="27.20" stroke="#222" stroke-width="0.8" />
<text x="0" y="2.51" font-size="7.00" text-anchor="middle" font-weight="bold" fill="#111" transform="translate(526.20 27.20) rotate(-90)">0.30</text>
<line x1="538.30" y1="125.40" x2="538.30" y2="127.80" stroke="#222" stroke-width="0.8" />
<text x="541.80" y="135.51" font-size="7.30" text-anchor="middle" font-weight="bold" fill="#111" >-3000</text>
<line x1="571.70" y1="125.40" x2="571.70" y2="127.80" stroke="#222" stroke-width="0.8" />
<text x="575.40" y="135.51" font-size="7.30" text-anchor="middle" font-weight="bold" fill="#111" >-1500</text>
<line x1="604.40" y1="125.40" x2="604.40" y2="127.80" stroke="#222" stroke-width="0.8" />
<text x="607.70" y="135.51" font-size="7.30" text-anchor="middle" font-weight="bold" fill="#111" >TSS</text>
<line x1="638.10" y1="125.40" x2="638.10" y2="127.80" stroke="#222" stroke-width="0.8" />
<text x="641.50" y="135.51" font-size="7.30" text-anchor="middle" font-weight="bold" fill="#111" >1500</text>
<line x1="671.90" y1="125.40" x2="671.90" y2="127.80" stroke="#222" stroke-width="0.8" />
<text x="674.00" y="135.51" font-size="7.30" text-anchor="middle" font-weight="bold" fill="#111" >3000</text>
<text x="612.40" y="142.91" font-size="7.00" text-anchor="middle" font-weight="bold" fill="#111" >Genomic Region (5' -&gt; 3')</text>
<text x="0" y="2.43" font-size="6.80" text-anchor="middle" font-weight="bold" fill="#111" transform="translate(516.70 72.45) rotate(-90)">Read count Per Million mapped reads</text>
<text x="523.00" y="153.30" font-size="8.10" fill="#2ea586" >458</text>
<text x="541.90" y="153.30" font-size="8.10" fill="#e8802c" >458IR</text>
<text x="568.90" y="153.30" font-size="8.10" fill="#7571b5" >458IR_IDH321</text>
<text x="627.70" y="153.30" font-size="8.10" fill="#e83e96" >458IR_GSK321</text>
<text x="211.00" y="196.94" font-size="16.30" text-anchor="middle" >D458IR v D458(parent)</text>
<text x="97.00" y="214.13" font-size="13.50" text-anchor="middle" >H3K27ac</text>
<text x="201.40" y="214.13" font-size="13.50" text-anchor="middle" >H3K4me3</text>
<text x="311.70" y="214.13" font-size="13.50" text-anchor="middle" >H3K27me3</text>
<text x="44.00" y="245.87" font-size="8.30" text-anchor="middle" font-weight="bold" >Increased</text>
<text x="44.00" y="255.57" font-size="8.30" text-anchor="middle" font-weight="bold" >Peaks</text>
<text x="44.00" y="300.77" font-size="8.30" text-anchor="middle" font-weight="bold" >Decreased</text>
<text x="44.00" y="310.77" font-size="8.30" text-anchor="middle" font-weight="bold" >Peaks</text>
<text x="198.40" y="359.44" font-size="16.30" text-anchor="middle" >D458IR + IDH1i v D458IR</text>
<text x="42.50" y="388.97" font-size="8.30" text-anchor="middle" font-weight="bold" >Increased</text>
<text x="42.50" y="398.97" font-size="8.30" text-anchor="middle" font-weight="bold" >Peaks</text>
<text x="42.50" y="444.17" font-size="8.30" text-anchor="middle" font-weight="bold" >Decreased</text>
<text x="42.50" y="453.87" font-size="8.30" text-anchor="middle" font-weight="bold" >Peaks</text>
<path d="M88.10,249.20 L88.10,226.00 A23.2,23.2 0 1 1 64.96,250.82 Z" fill="#430052" stroke="#430052" stroke-width="0.3" />
<path d="M88.10,249.20 L64.96,250.82 A23.2,23.2 0 0 1 64.93,250.41 Z" fill="#404485" stroke="#404485" stroke-width="0.3" />
<path d="M88.10,249.20 L64.93,250.41 A23.2,23.2 0 0 1 64.91,249.81 Z" fill="#2a7390" stroke="#2a7390" stroke-width="0.3" />
<path d="M88.10,249.20 L64.91,249.81 A23.2,23.2 0 0 1 64.90,249.00 Z" fill="#21a486" stroke="#21a486" stroke-width="0.3" />
<path d="M88.10,249.20 L64.90,249.00 A23.2,23.2 0 0 1 64.94,247.78 Z" fill="#76cf52" stroke="#76cf52" stroke-width="0.3" />
<path d="M88.10,249.20 L64.94,247.78 A23.2,23.2 0 0 1 65.69,243.20 Z" fill="#fde526" stroke="#fde526" stroke-width="0.3" />
<path d="M88.10,249.20 L65.69,243.20 A23.2,23.2 0 0 1 76.50,229.11 Z" fill="#dba400" stroke="#dba400" stroke-width="0.3" />
<path d="M88.10,249.20 L76.50,229.11 A23.2,23.2 0 0 1 76.68,229.01 Z" fill="#e65f4b" stroke="#e65f4b" stroke-width="0.3" />
<path d="M88.10,249.20 L76.68,229.01 A23.2,23.2 0 0 1 88.10,226.00 Z" fill="#9f72c7" stroke="#9f72c7" stroke-width="0.3" />
<circle cx="88.10" cy="249.20" r="23.20" fill="none" stroke="#2a2a2a" stroke-width="0.6" />
<rect x="120.70" y="226.20" width="5.20" height="3.20" fill="#430052" stroke="#333" stroke-width="0.35" />
<text x="128.90" y="229.16" font-size="3.80" >Promoter</text>
<rect x="120.70" y="230.84" width="5.20" height="3.20" fill="#404485" stroke="#333" stroke-width="0.35" />
<text x="128.90" y="233.80" font-size="3.80" >5'UTR</text>
<rect x="120.70" y="235.48" width="5.20" height="3.20" fill="#2a7390" stroke="#333" stroke-width="0.35" />
<text x="128.90" y="238.44" font-size="3.80" >3'UTR</text>
<rect x="120.70" y="240.12" width="5.20" height="3.20" fill="#21a486" stroke="#333" stroke-width="0.35" />
<text x="128.90" y="243.08" font-size="3.80" >1st Exon</text>
<rect x="120.70" y="244.76" width="5.20" height="3.20" fill="#76cf52" stroke="#333" stroke-width="0.35" />
<text x="128.90" y="247.72" font-size="3.80" >Other Exon</text>
<rect x="120.70" y="249.40" width="5.20" height="3.20" fill="#fde526" stroke="#333" stroke-width="0.35" />
<text x="128.90" y="252.36" font-size="3.80" >1st Intron</text>
<rect x="120.70" y="254.04" width="5.20" height="3.20" fill="#dba400" stroke="#333" stroke-width="0.35" />
<text x="128.90" y="257.00" font-size="3.80" >Other Intron</text>
<rect x="120.70" y="258.68" width="5.20" height="3.20" fill="#e65f4b" stroke="#333" stroke-width="0.35" />
<text x="128.90" y="261.64" font-size="3.80" >Downstream (&lt;=300)</text>
<rect x="120.70" y="263.32" width="5.20" height="3.20" fill="#9f72c7" stroke="#333" stroke-width="0.35" />
<text x="128.90" y="266.28" font-size="3.80" >Distal Intergenic</text>
<path d="M88.10,301.40 L88.10,278.20 A23.2,23.2 0 0 1 107.56,314.04 Z" fill="#430052" stroke="#430052" stroke-width="0.3" />
<path d="M88.10,301.40 L107.56,314.04 A23.2,23.2 0 0 1 106.63,315.36 Z" fill="#2a7390" stroke="#2a7390" stroke-width="0.3" />
<path d="M88.10,301.40 L106.63,315.36 A23.2,23.2 0 0 1 105.87,316.31 Z" fill="#21a486" stroke="#21a486" stroke-width="0.3" />
<path d="M88.10,301.40 L105.87,316.31 A23.2,23.2 0 0 1 103.01,319.17 Z" fill="#76cf52" stroke="#76cf52" stroke-width="0.3" />
<path d="M88.10,301.40 L103.01,319.17 A23.2,23.2 0 0 1 86.89,324.57 Z" fill="#fde526" stroke="#fde526" stroke-width="0.3" />
<path d="M88.10,301.40 L86.89,324.57 A23.2,23.2 0 0 1 65.69,295.40 Z" fill="#dba400" stroke="#dba400" stroke-width="0.3" />
<path d="M88.10,301.40 L65.69,295.40 A23.2,23.2 0 0 1 65.74,295.20 Z" fill="#e65f4b" stroke="#e65f4b" stroke-width="0.3" />
<path d="M88.10,301.40 L65.74,295.20 A23.2,23.2 0 0 1 88.10,278.20 Z" fill="#9f72c7" stroke="#9f72c7" stroke-width="0.3" />
<circle cx="88.10" cy="301.40" r="23.20" fill="none" stroke="#2a2a2a" stroke-width="0.6" />
<rect x="120.70" y="278.40" width="5.20" height="3.20" fill="#430052" stroke="#333" stroke-width="0.35" />
<text x="128.90" y="281.36" font-size="3.80" >Promoter</text>
<rect x="120.70" y="283.04" width="5.20" height="3.20" fill="#2a7390" stroke="#333" stroke-width="0.35" />
<text x="128.90" y="286.00" font-size="3.80" >3'UTR</text>
<rect x="120.70" y="287.68" width="5.20" height="3.20" fill="#21a486" stroke="#333" stroke-width="0.35" />
<text x="128.90" y="290.64" font-size="3.80" >1st Exon</text>
<rect x="120.70" y="292.32" width="5.20" height="3.20" fill="#76cf52" stroke="#333" stroke-width="0.35" />
<text x="128.90" y="295.28" font-size="3.80" >Other Exon</text>
<rect x="120.70" y="296.96" width="5.20" height="3.20" fill="#fde526" stroke="#333" stroke-width="0.35" />
<text x="128.90" y="299.92" font-size="3.80" >1st Intron</text>
<rect x="120.70" y="301.60" width="5.20" height="3.20" fill="#dba400" stroke="#333" stroke-width="0.35" />
<text x="128.90" y="304.56" font-size="3.80" >Other Intron</text>
<rect x="120.70" y="306.24" width="5.20" height="3.20" fill="#e65f4b" stroke="#333" stroke-width="0.35" />
<text x="128.90" y="309.20" font-size="3.80" >Downstream (&lt;=300)</text>
<rect x="120.70" y="310.88" width="5.20" height="3.20" fill="#9f72c7" stroke="#333" stroke-width="0.35" />
<text x="128.90" y="313.84" font-size="3.80" >Distal Intergenic</text>
<path d="M192.60,249.20 L192.60,226.00 A23.2,23.2 0 1 1 176.02,265.43 Z" fill="#430052" stroke="#430052" stroke-width="0.3" />
<path d="M192.60,249.20 L176.02,265.43 A23.2,23.2 0 0 1 174.83,264.11 Z" fill="#2a7390" stroke="#2a7390" stroke-width="0.3" />
<path d="M192.60,249.20 L174.83,264.11 A23.2,23.2 0 0 1 172.93,261.49 Z" fill="#21a486" stroke="#21a486" stroke-width="0.3" />
<path d="M192.60,249.20 L172.93,261.49 A23.2,23.2 0 0 1 170.80,257.13 Z" fill="#76cf52" stroke="#76cf52" stroke-width="0.3" />
<path d="M192.60,249.20 L170.80,257.13 A23.2,23.2 0 0 1 169.69,245.57 Z" fill="#fde526" stroke="#fde526" stroke-width="0.3" />
<path d="M192.60,249.20 L169.69,245.57 A23.2,23.2 0 0 1 174.57,234.60 Z" fill="#dba400" stroke="#dba400" stroke-width="0.3" />
<path d="M192.60,249.20 L174.57,234.60 A23.2,23.2 0 0 1 174.70,234.44 Z" fill="#e65f4b" stroke="#e65f4b" stroke-width="0.3" />
<path d="M192.60,249.20 L174.70,234.44 A23.2,23.2 0 0 1 192.60,226.00 Z" fill="#9f72c7" stroke="#9f72c7" stroke-width="0.3" />
<circle cx="192.60" cy="249.20" r="23.20" fill="none" stroke="#2a2a2a" stroke-width="0.6" />
<rect x="225.20" y="226.20" width="5.20" height="3.20" fill="#430052" stroke="#333" stroke-width="0.35" />
<text x="233.40" y="229.16" font-size="3.80" >Promoter</text>
<rect x="225.20" y="230.84" width="5.20" height="3.20" fill="#2a7390" stroke="#333" stroke-width="0.35" />
<text x="233.40" y="233.80" font-size="3.80" >3'UTR</text>
<rect x="225.20" y="235.48" width="5.20" height="3.20" fill="#21a486" stroke="#333" stroke-width="0.35" />
<text x="233.40" y="238.44" font-size="3.80" >1st Exon</text>
<rect x="225.20" y="240.12" width="5.20" height="3.20" fill="#76cf52" stroke="#333" stroke-width="0.35" />
<text x="233.40" y="243.08" font-size="3.80" >Other Exon</text>
<rect x="225.20" y="244.76" width="5.20" height="3.20" fill="#fde526" stroke="#333" stroke-width="0.35" />
<text x="233.40" y="247.72" font-size="3.80" >1st Intron</text>
<rect x="225.20" y="249.40" width="5.20" height="3.20" fill="#dba400" stroke="#333" stroke-width="0.35" />
<text x="233.40" y="252.36" font-size="3.80" >Other Intron</text>
<rect x="225.20" y="254.04" width="5.20" height="3.20" fill="#e65f4b" stroke="#333" stroke-width="0.35" />
<text x="233.40" y="257.00" font-size="3.80" >Downstream (&lt;=300)</text>
<rect x="225.20" y="258.68" width="5.20" height="3.20" fill="#9f72c7" stroke="#333" stroke-width="0.35" />
<text x="233.40" y="261.64" font-size="3.80" >Distal Intergenic</text>
<path d="M192.60,301.40 L192.60,278.20 A23.2,23.2 0 1 1 177.08,284.16 Z" fill="#430052" stroke="#430052" stroke-width="0.3" />
<path d="M192.60,301.40 L177.08,284.16 A23.2,23.2 0 0 1 177.69,283.63 Z" fill="#2a7390" stroke="#2a7390" stroke-width="0.3" />
<path d="M192.60,301.40 L177.69,283.63 A23.2,23.2 0 0 1 178.64,282.87 Z" fill="#21a486" stroke="#21a486" stroke-width="0.3" />
<path d="M192.60,301.40 L178.64,282.87 A23.2,23.2 0 0 1 179.63,282.17 Z" fill="#76cf52" stroke="#76cf52" stroke-width="0.3" />
<path d="M192.60,301.40 L179.63,282.17 A23.2,23.2 0 0 1 182.07,280.73 Z" fill="#fde526" stroke="#fde526" stroke-width="0.3" />
<path d="M192.60,301.40 L182.07,280.73 A23.2,23.2 0 0 1 184.29,279.74 Z" fill="#dba400" stroke="#dba400" stroke-width="0.3" />
<path d="M192.60,301.40 L184.29,279.74 A23.2,23.2 0 0 1 192.60,278.20 Z" fill="#9f72c7" stroke="#9f72c7" stroke-width="0.3" />
<circle cx="192.60" cy="301.40" r="23.20" fill="none" stroke="#2a2a2a" stroke-width="0.6" />
<rect x="225.20" y="278.40" width="5.20" height="3.20" fill="#430052" stroke="#333" stroke-width="0.35" />
<text x="233.40" y="281.36" font-size="3.80" >Promoter</text>
<rect x="225.20" y="283.04" width="5.20" height="3.20" fill="#2a7390" stroke="#333" stroke-width="0.35" />
<text x="233.40" y="286.00" font-size="3.80" >3'UTR</text>
<rect x="225.20" y="287.68" width="5.20" height="3.20" fill="#21a486" stroke="#333" stroke-width="0.35" />
<text x="233.40" y="290.64" font-size="3.80" >1st Exon</text>
<rect x="225.20" y="292.32" width="5.20" height="3.20" fill="#76cf52" stroke="#333" stroke-width="0.35" />
<text x="233.40" y="295.28" font-size="3.80" >Other Exon</text>
<rect x="225.20" y="296.96" width="5.20" height="3.20" fill="#fde526" stroke="#333" stroke-width="0.35" />
<text x="233.40" y="299.92" font-size="3.80" >1st Intron</text>
<rect x="225.20" y="301.60" width="5.20" height="3.20" fill="#dba400" stroke="#333" stroke-width="0.35" />
<text x="233.40" y="304.56" font-size="3.80" >Other Intron</text>
<rect x="225.20" y="306.24" width="5.20" height="3.20" fill="#9f72c7" stroke="#333" stroke-width="0.35" />
<text x="233.40" y="309.20" font-size="3.80" >Distal Intergenic</text>
<path d="M295.70,249.20 L295.70,226.00 A23.2,23.2 0 0 1 308.47,268.57 Z" fill="#430052" stroke="#430052" stroke-width="0.3" />
<path d="M295.70,249.20 L308.47,268.57 A23.2,23.2 0 0 1 306.59,269.68 Z" fill="#2a7390" stroke="#2a7390" stroke-width="0.3" />
<path d="M295.70,249.20 L306.59,269.68 A23.2,23.2 0 0 1 304.76,270.56 Z" fill="#21a486" stroke="#21a486" stroke-width="0.3" />
<path d="M295.70,249.20 L304.76,270.56 A23.2,23.2 0 0 1 296.31,272.39 Z" fill="#76cf52" stroke="#76cf52" stroke-width="0.3" />
<path d="M295.70,249.20 L296.31,272.39 A23.2,23.2 0 0 1 287.01,270.71 Z" fill="#fde526" stroke="#fde526" stroke-width="0.3" />
<path d="M295.70,249.20 L287.01,270.71 A23.2,23.2 0 0 1 272.93,253.63 Z" fill="#dba400" stroke="#dba400" stroke-width="0.3" />
<path d="M295.70,249.20 L272.93,253.63 A23.2,23.2 0 0 1 272.89,253.43 Z" fill="#e65f4b" stroke="#e65f4b" stroke-width="0.3" />
<path d="M295.70,249.20 L272.89,253.43 A23.2,23.2 0 0 1 295.70,226.00 Z" fill="#9f72c7" stroke="#9f72c7" stroke-width="0.3" />
<circle cx="295.70" cy="249.20" r="23.20" fill="none" stroke="#2a2a2a" stroke-width="0.6" />
<rect x="328.30" y="226.20" width="5.20" height="3.20" fill="#430052" stroke="#333" stroke-width="0.35" />
<text x="336.50" y="229.16" font-size="3.80" >Promoter</text>
<rect x="328.30" y="230.84" width="5.20" height="3.20" fill="#2a7390" stroke="#333" stroke-width="0.35" />
<text x="336.50" y="233.80" font-size="3.80" >3'UTR</text>
<rect x="328.30" y="235.48" width="5.20" height="3.20" fill="#21a486" stroke="#333" stroke-width="0.35" />
<text x="336.50" y="238.44" font-size="3.80" >1st Exon</text>
<rect x="328.30" y="240.12" width="5.20" height="3.20" fill="#76cf52" stroke="#333" stroke-width="0.35" />
<text x="336.50" y="243.08" font-size="3.80" >Other Exon</text>
<rect x="328.30" y="244.76" width="5.20" height="3.20" fill="#fde526" stroke="#333" stroke-width="0.35" />
<text x="336.50" y="247.72" font-size="3.80" >1st Intron</text>
<rect x="328.30" y="249.40" width="5.20" height="3.20" fill="#dba400" stroke="#333" stroke-width="0.35" />
<text x="336.50" y="252.36" font-size="3.80" >Other Intron</text>
<rect x="328.30" y="254.04" width="5.20" height="3.20" fill="#e65f4b" stroke="#333" stroke-width="0.35" />
<text x="336.50" y="257.00" font-size="3.80" >Downstream (&lt;=300)</text>
<rect x="328.30" y="258.68" width="5.20" height="3.20" fill="#9f72c7" stroke="#333" stroke-width="0.35" />
<text x="336.50" y="261.64" font-size="3.80" >Distal Intergenic</text>
<path d="M295.70,301.40 L295.70,278.20 A23.2,23.2 0 0 1 318.37,296.46 Z" fill="#430052" stroke="#430052" stroke-width="0.3" />
<path d="M295.70,301.40 L318.37,296.46 A23.2,23.2 0 0 1 318.89,300.59 Z" fill="#2a7390" stroke="#2a7390" stroke-width="0.3" />
<path d="M295.70,301.40 L318.89,300.59 A23.2,23.2 0 0 1 318.73,304.23 Z" fill="#21a486" stroke="#21a486" stroke-width="0.3" />
<path d="M295.70,301.40 L318.73,304.23 A23.2,23.2 0 0 1 318.31,306.62 Z" fill="#76cf52" stroke="#76cf52" stroke-width="0.3" />
<path d="M295.70,301.40 L318.31,306.62 A23.2,23.2 0 0 1 306.38,322.00 Z" fill="#fde526" stroke="#fde526" stroke-width="0.3" />
<path d="M295.70,301.40 L306.38,322.00 A23.2,23.2 0 0 1 277.57,315.87 Z" fill="#dba400" stroke="#dba400" stroke-width="0.3" />
<path d="M295.70,301.40 L277.57,315.87 A23.2,23.2 0 0 1 295.70,278.20 Z" fill="#9f72c7" stroke="#9f72c7" stroke-width="0.3" />
<circle cx="295.70" cy="301.40" r="23.20" fill="none" stroke="#2a2a2a" stroke-width="0.6" />
<rect x="328.30" y="278.40" width="5.20" height="3.20" fill="#430052" stroke="#333" stroke-width="0.35" />
<text x="336.50" y="281.36" font-size="3.80" >Promoter</text>
<rect x="328.30" y="283.04" width="5.20" height="3.20" fill="#404485" stroke="#333" stroke-width="0.35" />
<text x="336.50" y="286.00" font-size="3.80" >5'UTR</text>
<rect x="328.30" y="287.68" width="5.20" height="3.20" fill="#21a486" stroke="#333" stroke-width="0.35" />
<text x="336.50" y="290.64" font-size="3.80" >1st Exon</text>
<rect x="328.30" y="292.32" width="5.20" height="3.20" fill="#76cf52" stroke="#333" stroke-width="0.35" />
<text x="336.50" y="295.28" font-size="3.80" >Other Exon</text>
<rect x="328.30" y="296.96" width="5.20" height="3.20" fill="#fde526" stroke="#333" stroke-width="0.35" />
<text x="336.50" y="299.92" font-size="3.80" >1st Intron</text>
<rect x="328.30" y="301.60" width="5.20" height="3.20" fill="#dba400" stroke="#333" stroke-width="0.35" />
<text x="336.50" y="304.56" font-size="3.80" >Other Intron</text>
<rect x="328.30" y="306.24" width="5.20" height="3.20" fill="#9f72c7" stroke="#333" stroke-width="0.35" />
<text x="336.50" y="309.20" font-size="3.80" >Distal Intergenic</text>
<path d="M87.60,390.60 L87.60,367.40 A23.2,23.2 0 0 1 103.00,407.95 Z" fill="#430052" stroke="#430052" stroke-width="0.3" />
<path d="M87.60,390.60 L103.00,407.95 A23.2,23.2 0 0 1 102.20,408.63 Z" fill="#2a7390" stroke="#2a7390" stroke-width="0.3" />
<path d="M87.60,390.60 L102.20,408.63 A23.2,23.2 0 0 1 100.91,409.60 Z" fill="#21a486" stroke="#21a486" stroke-width="0.3" />
<path d="M87.60,390.60 L100.91,409.60 A23.2,23.2 0 0 1 99.02,410.79 Z" fill="#76cf52" stroke="#76cf52" stroke-width="0.3" />
<path d="M87.60,390.60 L99.02,410.79 A23.2,23.2 0 0 1 82.14,413.15 Z" fill="#fde526" stroke="#fde526" stroke-width="0.3" />
<path d="M87.60,390.60 L82.14,413.15 A23.2,23.2 0 0 1 64.67,387.09 Z" fill="#dba400" stroke="#dba400" stroke-width="0.3" />
<path d="M87.60,390.60 L64.67,387.09 A23.2,23.2 0 0 1 87.60,367.40 Z" fill="#9f72c7" stroke="#9f72c7" stroke-width="0.3" />
<circle cx="87.60" cy="390.60" r="23.20" fill="none" stroke="#2a2a2a" stroke-width="0.6" />
<rect x="120.20" y="367.60" width="5.20" height="3.20" fill="#430052" stroke="#333" stroke-width="0.35" />
<text x="128.40" y="370.56" font-size="3.80" >Promoter</text>
<rect x="120.20" y="372.24" width="5.20" height="3.20" fill="#2a7390" stroke="#333" stroke-width="0.35" />
<text x="128.40" y="375.20" font-size="3.80" >3'UTR</text>
<rect x="120.20" y="376.88" width="5.20" height="3.20" fill="#21a486" stroke="#333" stroke-width="0.35" />
<text x="128.40" y="379.84" font-size="3.80" >1st Exon</text>
<rect x="120.20" y="381.52" width="5.20" height="3.20" fill="#76cf52" stroke="#333" stroke-width="0.35" />
<text x="128.40" y="384.48" font-size="3.80" >Other Exon</text>
<rect x="120.20" y="386.16" width="5.20" height="3.20" fill="#fde526" stroke="#333" stroke-width="0.35" />
<text x="128.40" y="389.12" font-size="3.80" >1st Intron</text>
<rect x="120.20" y="390.80" width="5.20" height="3.20" fill="#dba400" stroke="#333" stroke-width="0.35" />
<text x="128.40" y="393.76" font-size="3.80" >Other Intron</text>
<rect x="120.20" y="395.44" width="5.20" height="3.20" fill="#9f72c7" stroke="#333" stroke-width="0.35" />
<text x="128.40" y="398.40" font-size="3.80" >Distal Intergenic</text>
<path d="M87.60,443.00 L87.60,419.80 A23.2,23.2 0 1 1 76.18,463.19 Z" fill="#430052" stroke="#430052" stroke-width="0.3" />
<path d="M87.60,443.00 L76.18,463.19 A23.2,23.2 0 0 1 75.65,462.89 Z" fill="#404485" stroke="#404485" stroke-width="0.3" />
<path d="M87.60,443.00 L75.65,462.89 A23.2,23.2 0 0 1 74.29,462.00 Z" fill="#2a7390" stroke="#2a7390" stroke-width="0.3" />
<path d="M87.60,443.00 L74.29,462.00 A23.2,23.2 0 0 1 72.69,460.77 Z" fill="#21a486" stroke="#21a486" stroke-width="0.3" />
<path d="M87.60,443.00 L72.69,460.77 A23.2,23.2 0 0 1 70.44,458.61 Z" fill="#76cf52" stroke="#76cf52" stroke-width="0.3" />
<path d="M87.60,443.00 L70.44,458.61 A23.2,23.2 0 0 1 65.30,449.39 Z" fill="#fde526" stroke="#fde526" stroke-width="0.3" />
<path d="M87.60,443.00 L65.30,449.39 A23.2,23.2 0 0 1 71.90,425.92 Z" fill="#dba400" stroke="#dba400" stroke-width="0.3" />
<path d="M87.60,443.00 L71.90,425.92 A23.2,23.2 0 0 1 72.08,425.76 Z" fill="#e65f4b" stroke="#e65f4b" stroke-width="0.3" />
<path d="M87.60,443.00 L72.08,425.76 A23.2,23.2 0 0 1 87.60,419.80 Z" fill="#9f72c7" stroke="#9f72c7" stroke-width="0.3" />
<circle cx="87.60" cy="443.00" r="23.20" fill="none" stroke="#2a2a2a" stroke-width="0.6" />
<rect x="120.20" y="420.00" width="5.20" height="3.20" fill="#430052" stroke="#333" stroke-width="0.35" />
<text x="128.40" y="422.96" font-size="3.80" >Promoter</text>
<rect x="120.20" y="424.64" width="5.20" height="3.20" fill="#404485" stroke="#333" stroke-width="0.35" />
<text x="128.40" y="427.60" font-size="3.80" >5'UTR</text>
<rect x="120.20" y="429.28" width="5.20" height="3.20" fill="#2a7390" stroke="#333" stroke-width="0.35" />
<text x="128.40" y="432.24" font-size="3.80" >3'UTR</text>
<rect x="120.20" y="433.92" width="5.20" height="3.20" fill="#21a486" stroke="#333" stroke-width="0.35" />
<text x="128.40" y="436.88" font-size="3.80" >1st Exon</text>
<rect x="120.20" y="438.56" width="5.20" height="3.20" fill="#76cf52" stroke="#333" stroke-width="0.35" />
<text x="128.40" y="441.52" font-size="3.80" >Other Exon</text>
<rect x="120.20" y="443.20" width="5.20" height="3.20" fill="#fde526" stroke="#333" stroke-width="0.35" />
<text x="128.40" y="446.16" font-size="3.80" >1st Intron</text>
<rect x="120.20" y="447.84" width="5.20" height="3.20" fill="#dba400" stroke="#333" stroke-width="0.35" />
<text x="128.40" y="450.80" font-size="3.80" >Other Intron</text>
<rect x="120.20" y="452.48" width="5.20" height="3.20" fill="#e65f4b" stroke="#333" stroke-width="0.35" />
<text x="128.40" y="455.44" font-size="3.80" >Downstream (&lt;=300)</text>
<rect x="120.20" y="457.12" width="5.20" height="3.20" fill="#9f72c7" stroke="#333" stroke-width="0.35" />
<text x="128.40" y="460.08" font-size="3.80" >Distal Intergenic</text>
<path d="M191.90,390.60 L191.90,367.40 A23.2,23.2 0 1 1 169.26,395.66 Z" fill="#430052" stroke="#430052" stroke-width="0.3" />
<path d="M191.90,390.60 L169.26,395.66 A23.2,23.2 0 0 1 168.99,394.23 Z" fill="#2a7390" stroke="#2a7390" stroke-width="0.3" />
<path d="M191.90,390.60 L168.99,394.23 A23.2,23.2 0 0 1 168.76,392.22 Z" fill="#21a486" stroke="#21a486" stroke-width="0.3" />
<path d="M191.90,390.60 L168.76,392.22 A23.2,23.2 0 0 1 168.71,391.41 Z" fill="#76cf52" stroke="#76cf52" stroke-width="0.3" />
<path d="M191.90,390.60 L168.71,391.41 A23.2,23.2 0 0 1 169.34,385.18 Z" fill="#fde526" stroke="#fde526" stroke-width="0.3" />
<path d="M191.90,390.60 L169.34,385.18 A23.2,23.2 0 0 1 172.67,377.63 Z" fill="#dba400" stroke="#dba400" stroke-width="0.3" />
<path d="M191.90,390.60 L172.67,377.63 A23.2,23.2 0 0 1 191.90,367.40 Z" fill="#9f72c7" stroke="#9f72c7" stroke-width="0.3" />
<circle cx="191.90" cy="390.60" r="23.20" fill="none" stroke="#2a2a2a" stroke-width="0.6" />
<rect x="224.50" y="367.60" width="5.20" height="3.20" fill="#430052" stroke="#333" stroke-width="0.35" />
<text x="232.70" y="370.56" font-size="3.80" >Promoter</text>
<rect x="224.50" y="372.24" width="5.20" height="3.20" fill="#2a7390" stroke="#333" stroke-width="0.35" />
<text x="232.70" y="375.20" font-size="3.80" >3'UTR</text>
<rect x="224.50" y="376.88" width="5.20" height="3.20" fill="#21a486" stroke="#333" stroke-width="0.35" />
<text x="232.70" y="379.84" font-size="3.80" >1st Exon</text>
<rect x="224.50" y="381.52" width="5.20" height="3.20" fill="#76cf52" stroke="#333" stroke-width="0.35" />
<text x="232.70" y="384.48" font-size="3.80" >Other Exon</text>
<rect x="224.50" y="386.16" width="5.20" height="3.20" fill="#fde526" stroke="#333" stroke-width="0.35" />
<text x="232.70" y="389.12" font-size="3.80" >1st Intron</text>
<rect x="224.50" y="390.80" width="5.20" height="3.20" fill="#dba400" stroke="#333" stroke-width="0.35" />
<text x="232.70" y="393.76" font-size="3.80" >Other Intron</text>
<rect x="224.50" y="395.44" width="5.20" height="3.20" fill="#9f72c7" stroke="#333" stroke-width="0.35" />
<text x="232.70" y="398.40" font-size="3.80" >Distal Intergenic</text>
<path d="M191.90,442.90 L191.90,419.70 A23.2,23.2 0 0 1 201.74,463.91 Z" fill="#430052" stroke="#430052" stroke-width="0.3" />
<path d="M191.90,442.90 L201.74,463.91 A23.2,23.2 0 0 1 196.33,465.67 Z" fill="#76cf52" stroke="#76cf52" stroke-width="0.3" />
<path d="M191.90,442.90 L196.33,465.67 A23.2,23.2 0 0 1 176.59,460.33 Z" fill="#fde526" stroke="#fde526" stroke-width="0.3" />
<path d="M191.90,442.90 L176.59,460.33 A23.2,23.2 0 0 1 175.50,426.50 Z" fill="#dba400" stroke="#dba400" stroke-width="0.3" />
<path d="M191.90,442.90 L175.50,426.50 A23.2,23.2 0 0 1 176.08,425.93 Z" fill="#e65f4b" stroke="#e65f4b" stroke-width="0.3" />
<path d="M191.90,442.90 L176.08,425.93 A23.2,23.2 0 0 1 191.90,419.70 Z" fill="#9f72c7" stroke="#9f72c7" stroke-width="0.3" />
<circle cx="191.90" cy="442.90" r="23.20" fill="none" stroke="#2a2a2a" stroke-width="0.6" />
<rect x="224.50" y="419.90" width="5.20" height="3.20" fill="#430052" stroke="#333" stroke-width="0.35" />
<text x="232.70" y="422.86" font-size="3.80" >Promoter</text>
<rect x="224.50" y="424.54" width="5.20" height="3.20" fill="#76cf52" stroke="#333" stroke-width="0.35" />
<text x="232.70" y="427.50" font-size="3.80" >Other Exon</text>
<rect x="224.50" y="429.18" width="5.20" height="3.20" fill="#fde526" stroke="#333" stroke-width="0.35" />
<text x="232.70" y="432.14" font-size="3.80" >1st Intron</text>
<rect x="224.50" y="433.82" width="5.20" height="3.20" fill="#dba400" stroke="#333" stroke-width="0.35" />
<text x="232.70" y="436.78" font-size="3.80" >Other Intron</text>
<rect x="224.50" y="438.46" width="5.20" height="3.20" fill="#e65f4b" stroke="#333" stroke-width="0.35" />
<text x="232.70" y="441.42" font-size="3.80" >Downstream (&lt;=300)</text>
<rect x="224.50" y="443.10" width="5.20" height="3.20" fill="#9f72c7" stroke="#333" stroke-width="0.35" />
<text x="232.70" y="446.06" font-size="3.80" >Distal Intergenic</text>
<path d="M295.00,389.50 L295.00,366.30 A23.2,23.2 0 0 1 317.48,383.77 Z" fill="#430052" stroke="#430052" stroke-width="0.3" />
<path d="M295.00,389.50 L317.48,383.77 A23.2,23.2 0 0 1 317.85,385.47 Z" fill="#404485" stroke="#404485" stroke-width="0.3" />
<path d="M295.00,389.50 L317.85,385.47 A23.2,23.2 0 0 1 318.14,387.88 Z" fill="#2a7390" stroke="#2a7390" stroke-width="0.3" />
<path d="M295.00,389.50 L318.14,387.88 A23.2,23.2 0 0 1 318.20,389.90 Z" fill="#21a486" stroke="#21a486" stroke-width="0.3" />
<path d="M295.00,389.50 L318.20,389.90 A23.2,23.2 0 0 1 316.90,397.17 Z" fill="#76cf52" stroke="#76cf52" stroke-width="0.3" />
<path d="M295.00,389.50 L316.90,397.17 A23.2,23.2 0 0 1 303.20,411.20 Z" fill="#fde526" stroke="#fde526" stroke-width="0.3" />
<path d="M295.00,389.50 L303.20,411.20 A23.2,23.2 0 0 1 278.42,405.73 Z" fill="#dba400" stroke="#dba400" stroke-width="0.3" />
<path d="M295.00,389.50 L278.42,405.73 A23.2,23.2 0 0 1 295.00,366.30 Z" fill="#9f72c7" stroke="#9f72c7" stroke-width="0.3" />
<circle cx="295.00" cy="389.50" r="23.20" fill="none" stroke="#2a2a2a" stroke-width="0.6" />
<rect x="327.60" y="366.50" width="5.20" height="3.20" fill="#430052" stroke="#333" stroke-width="0.35" />
<text x="335.80" y="369.46" font-size="3.80" >Promoter</text>
<rect x="327.60" y="371.14" width="5.20" height="3.20" fill="#404485" stroke="#333" stroke-width="0.35" />
<text x="335.80" y="374.10" font-size="3.80" >5'UTR</text>
<rect x="327.60" y="375.78" width="5.20" height="3.20" fill="#2a7390" stroke="#333" stroke-width="0.35" />
<text x="335.80" y="378.74" font-size="3.80" >3'UTR</text>
<rect x="327.60" y="380.42" width="5.20" height="3.20" fill="#21a486" stroke="#333" stroke-width="0.35" />
<text x="335.80" y="383.38" font-size="3.80" >1st Exon</text>
<rect x="327.60" y="385.06" width="5.20" height="3.20" fill="#76cf52" stroke="#333" stroke-width="0.35" />
<text x="335.80" y="388.02" font-size="3.80" >Other Exon</text>
<rect x="327.60" y="389.70" width="5.20" height="3.20" fill="#fde526" stroke="#333" stroke-width="0.35" />
<text x="335.80" y="392.66" font-size="3.80" >1st Intron</text>
<rect x="327.60" y="394.34" width="5.20" height="3.20" fill="#dba400" stroke="#333" stroke-width="0.35" />
<text x="335.80" y="397.30" font-size="3.80" >Other Intron</text>
<rect x="327.60" y="398.98" width="5.20" height="3.20" fill="#9f72c7" stroke="#333" stroke-width="0.35" />
<text x="335.80" y="401.94" font-size="3.80" >Distal Intergenic</text>
<path d="M295.00,442.90 L295.00,419.70 A23.2,23.2 0 0 1 307.12,462.68 Z" fill="#430052" stroke="#430052" stroke-width="0.3" />
<path d="M295.00,442.90 L307.12,462.68 A23.2,23.2 0 0 1 306.60,462.99 Z" fill="#404485" stroke="#404485" stroke-width="0.3" />
<path d="M295.00,442.90 L306.60,462.99 A23.2,23.2 0 0 1 305.53,463.57 Z" fill="#2a7390" stroke="#2a7390" stroke-width="0.3" />
<path d="M295.00,442.90 L305.53,463.57 A23.2,23.2 0 0 1 302.93,464.70 Z" fill="#21a486" stroke="#21a486" stroke-width="0.3" />
<path d="M295.00,442.90 L302.93,464.70 A23.2,23.2 0 0 1 295.61,466.09 Z" fill="#76cf52" stroke="#76cf52" stroke-width="0.3" />
<path d="M295.00,442.90 L295.61,466.09 A23.2,23.2 0 0 1 282.98,462.74 Z" fill="#fde526" stroke="#fde526" stroke-width="0.3" />
<path d="M295.00,442.90 L282.98,462.74 A23.2,23.2 0 0 1 272.23,447.33 Z" fill="#dba400" stroke="#dba400" stroke-width="0.3" />
<path d="M295.00,442.90 L272.23,447.33 A23.2,23.2 0 0 1 295.00,419.70 Z" fill="#9f72c7" stroke="#9f72c7" stroke-width="0.3" />
<circle cx="295.00" cy="442.90" r="23.20" fill="none" stroke="#2a2a2a" stroke-width="0.6" />
<rect x="327.60" y="419.90" width="5.20" height="3.20" fill="#430052" stroke="#333" stroke-width="0.35" />
<text x="335.80" y="422.86" font-size="3.80" >Promoter</text>
<rect x="327.60" y="424.54" width="5.20" height="3.20" fill="#404485" stroke="#333" stroke-width="0.35" />
<text x="335.80" y="427.50" font-size="3.80" >5'UTR</text>
<rect x="327.60" y="429.18" width="5.20" height="3.20" fill="#2a7390" stroke="#333" stroke-width="0.35" />
<text x="335.80" y="432.14" font-size="3.80" >3'UTR</text>
<rect x="327.60" y="433.82" width="5.20" height="3.20" fill="#21a486" stroke="#333" stroke-width="0.35" />
<text x="335.80" y="436.78" font-size="3.80" >1st Exon</text>
<rect x="327.60" y="438.46" width="5.20" height="3.20" fill="#76cf52" stroke="#333" stroke-width="0.35" />
<text x="335.80" y="441.42" font-size="3.80" >Other Exon</text>
<rect x="327.60" y="443.10" width="5.20" height="3.20" fill="#fde526" stroke="#333" stroke-width="0.35" />
<text x="335.80" y="446.06" font-size="3.80" >1st Intron</text>
<rect x="327.60" y="447.74" width="5.20" height="3.20" fill="#dba400" stroke="#333" stroke-width="0.35" />
<text x="335.80" y="450.70" font-size="3.80" >Other Intron</text>
<rect x="327.60" y="452.38" width="5.20" height="3.20" fill="#9f72c7" stroke="#333" stroke-width="0.35" />
<text x="335.80" y="455.34" font-size="3.80" >Distal Intergenic</text>
<text x="90.70" y="335.00" font-size="3.90" text-anchor="middle" font-weight="bold" fill="#222" >Total=100</text>
<text x="198.00" y="335.00" font-size="3.90" text-anchor="middle" font-weight="bold" fill="#222" >Total=100.01</text>
<text x="299.00" y="335.60" font-size="3.90" text-anchor="middle" font-weight="bold" fill="#222" >Total=100</text>
<text x="93.30" y="476.60" font-size="3.90" text-anchor="middle" font-weight="bold" fill="#222" >Total=100.01</text>
<text x="197.60" y="476.60" font-size="3.90" text-anchor="middle" font-weight="bold" fill="#222" >Total=100.31</text>
<text x="298.50" y="476.60" font-size="3.90" text-anchor="middle" font-weight="bold" fill="#222" >Total=100</text>
<text x="535.40" y="214.88" font-size="12.80" text-anchor="middle" >Promoter Regions</text>
<clipPath id="cp222"><rect x="401.4" y="222.0" width="270.6" height="121.69999999999999" rx="17"/></clipPath>
<rect x="401.4" y="280.9" width="270.6" height="62.80000000000001" fill="#dde8f4" clip-path="url(#cp222)"/>
<rect x="401.40" y="222.00" width="270.60" height="121.70" fill="none" stroke="#2b2b2b" stroke-width="1.0" rx="17" />
<text x="417.80" y="256.18" font-size="11.40" >Radiation-resistant cells</text>
<line x1="574.90" y1="225.90" x2="574.90" y2="235.90" stroke="#2a6790" stroke-width="1.1" />
<path d="M572.90,235.40 L574.90,238.60 L576.90,235.40 Z" fill="#2a6790" />
<text x="588.50" y="236.92" font-size="9.00" >H3K4me3</text>
<line x1="574.90" y1="257.80" x2="574.90" y2="247.80" stroke="#e8141c" stroke-width="1.1" />
<path d="M572.90,248.30 L574.90,245.10 L576.90,248.30 Z" fill="#e8141c" />
<text x="588.50" y="255.32" font-size="9.00" >H3K27ac</text>
<line x1="574.90" y1="276.70" x2="574.90" y2="266.70" stroke="#e8141c" stroke-width="1.1" />
<path d="M572.90,267.20 L574.90,264.00 L576.90,267.20 Z" fill="#e8141c" />
<text x="588.50" y="274.52" font-size="9.00" >H3K27me3</text>
<text x="417.80" y="317.48" font-size="11.40" >With IDH1 inhibition</text>
<line x1="561.70" y1="302.00" x2="561.70" y2="291.60" stroke="#e8141c" stroke-width="1.1" />
<path d="M559.70,292.10 L561.70,288.90 L563.70,292.10 Z" fill="#e8141c" />
<text x="569.90" y="294.22" font-size="9.00" >H3K4me3</text>
<text x="569.90" y="304.02" font-size="9.00" >(restored/enhanced)</text>
<line x1="561.70" y1="318.30" x2="561.70" y2="330.80" stroke="#2a6790" stroke-width="1.1" />
<path d="M559.70,330.30 L561.70,333.50 L563.70,330.30 Z" fill="#2a6790" />
<text x="569.90" y="323.62" font-size="9.00" >H3K27ac &amp; H3K27me3</text>
<text x="569.90" y="334.22" font-size="9.00" >(below parent levels)</text>
<text x="536.40" y="367.18" font-size="12.80" text-anchor="middle" >Distal Intergenic &amp; Intron Regions</text>
<clipPath id="cp376"><rect x="400.8" y="376.4" width="268.2" height="55.900000000000034" rx="15"/></clipPath>
<rect x="400.8" y="410.8" width="268.2" height="21.5" fill="#dde8f4" clip-path="url(#cp376)"/>
<rect x="400.80" y="376.40" width="268.20" height="55.90" fill="none" stroke="#2b2b2b" stroke-width="1.0" rx="15" />
<text x="418.00" y="397.28" font-size="11.40" >Radiation-resistant cells</text>
<line x1="574.30" y1="379.40" x2="574.30" y2="389.30" stroke="#2a6790" stroke-width="1.1" />
<path d="M572.30,388.80 L574.30,392.00 L576.30,388.80 Z" fill="#2a6790" />
<text x="589.00" y="390.32" font-size="9.00" >H3K27ac</text>
<line x1="574.30" y1="407.40" x2="574.30" y2="398.00" stroke="#e8141c" stroke-width="1.1" />
<path d="M572.30,398.50 L574.30,395.30 L576.30,398.50 Z" fill="#e8141c" />
<text x="589.00" y="403.72" font-size="9.00" >H3K27me3</text>
<text x="418.00" y="425.68" font-size="11.40" >With IDH1 inhibition</text>
<line x1="574.30" y1="428.00" x2="574.30" y2="416.50" stroke="#e8141c" stroke-width="1.1" />
<path d="M572.30,417.00 L574.30,413.80 L576.30,417.00 Z" fill="#e8141c" />
<text x="589.00" y="424.22" font-size="9.00" >H3K27ac</text>
<line x1="138.80" y1="515.00" x2="138.80" y2="625.40" stroke="#333" stroke-width="0.8" stroke-dasharray="1.2,1.6"/>
<line x1="80.00" y1="567.60" x2="197.20" y2="567.60" stroke="#333" stroke-width="0.8" stroke-dasharray="1.2,1.6"/>
<line x1="90.60" y1="519.00" x2="188.40" y2="617.20" stroke="#8fdcd6" stroke-width="0.9" />
<circle cx="97.90" cy="523.60" r="3.50" fill="#149a8c" />
<circle cx="146.70" cy="528.60" r="3.50" fill="#149a8c" />
<circle cx="112.20" cy="553.80" r="3.50" fill="#149a8c" />
<circle cx="136.30" cy="553.10" r="3.50" fill="#149a8c" />
<circle cx="173.10" cy="573.90" r="3.50" fill="#149a8c" />
<circle cx="119.30" cy="594.30" r="3.50" fill="#149a8c" />
<circle cx="157.80" cy="603.30" r="3.50" fill="#149a8c" />
<circle cx="182.70" cy="616.60" r="3.50" fill="#149a8c" />
<line x1="79.20" y1="625.40" x2="79.20" y2="513.00" stroke="#1a1a1a" stroke-width="2.0" />
<path d="M75.6,514 L79.2,506.6 L82.8,514 Z" fill="#1a1a1a" />
<line x1="78.20" y1="625.40" x2="198.00" y2="625.40" stroke="#1a1a1a" stroke-width="2.0" />
<path d="M197.2,621.9 L204.8,625.4 L197.2,628.9 Z" fill="#1a1a1a" />
<line x1="85.00" y1="533.90" x2="85.00" y2="519.40" stroke="#e8141c" stroke-width="1.4" />
<path d="M82.10,519.90 L85.00,515.30 L87.90,519.90 Z" fill="#e8141c" />
<line x1="92.30" y1="515.00" x2="92.30" y2="529.50" stroke="#1b4f8e" stroke-width="1.4" />
<path d="M89.40,529.00 L92.30,533.60 L95.20,529.00 Z" fill="#1b4f8e" />
<line x1="191.40" y1="534.00" x2="191.40" y2="520.60" stroke="#e8141c" stroke-width="1.4" />
<path d="M188.50,521.10 L191.40,516.50 L194.30,521.10 Z" fill="#e8141c" />
<line x1="199.80" y1="534.00" x2="199.80" y2="520.60" stroke="#e8141c" stroke-width="1.4" />
<path d="M196.90,521.10 L199.80,516.50 L202.70,521.10 Z" fill="#e8141c" />
<line x1="85.20" y1="601.90" x2="85.20" y2="615.20" stroke="#1b4f8e" stroke-width="1.4" />
<path d="M82.30,614.70 L85.20,619.30 L88.10,614.70 Z" fill="#1b4f8e" />
<line x1="92.40" y1="601.90" x2="92.40" y2="615.20" stroke="#1b4f8e" stroke-width="1.4" />
<path d="M89.50,614.70 L92.40,619.30 L95.30,614.70 Z" fill="#1b4f8e" />
<line x1="191.10" y1="601.90" x2="191.10" y2="615.20" stroke="#1b4f8e" stroke-width="1.4" />
<path d="M188.20,614.70 L191.10,619.30 L194.00,614.70 Z" fill="#1b4f8e" />
<line x1="198.60" y1="619.70" x2="198.60" y2="606.00" stroke="#e8141c" stroke-width="1.4" />
<path d="M195.70,606.50 L198.60,601.90 L201.50,606.50 Z" fill="#e8141c" />
<circle cx="61.40" cy="555.50" r="12.50" fill="#fbe1e1" stroke="#e5a3a3" stroke-width="0.7" />
<circle cx="58.93" cy="549.55" r="1.30" fill="#d55b5d" />
<circle cx="64.89" cy="549.55" r="1.30" fill="#d55b5d" />
<circle cx="57.49" cy="552.27" r="1.30" fill="#d55b5d" />
<circle cx="60.46" cy="552.27" r="1.30" fill="#d55b5d" />
<circle cx="63.44" cy="552.27" r="1.30" fill="#d55b5d" />
<circle cx="66.42" cy="552.27" r="1.30" fill="#d55b5d" />
<circle cx="59.19" cy="554.82" r="1.30" fill="#d55b5d" />
<circle cx="62.17" cy="554.82" r="1.30" fill="#d55b5d" />
<circle cx="64.89" cy="554.82" r="1.30" fill="#d55b5d" />
<circle cx="67.69" cy="554.82" r="1.30" fill="#d55b5d" />
<circle cx="55.28" cy="557.37" r="1.30" fill="#d55b5d" />
<circle cx="58.00" cy="557.37" r="1.30" fill="#d55b5d" />
<circle cx="60.72" cy="557.37" r="1.30" fill="#d55b5d" />
<circle cx="63.70" cy="557.37" r="1.30" fill="#d55b5d" />
<circle cx="66.67" cy="557.37" r="1.30" fill="#d55b5d" />
<circle cx="69.39" cy="557.37" r="1.30" fill="#d55b5d" />
<circle cx="56.47" cy="560.01" r="1.30" fill="#d55b5d" />
<circle cx="59.19" cy="560.01" r="1.30" fill="#d55b5d" />
<circle cx="62.17" cy="560.01" r="1.30" fill="#d55b5d" />
<circle cx="65.14" cy="560.01" r="1.30" fill="#d55b5d" />
<circle cx="58.00" cy="562.22" r="1.30" fill="#d55b5d" />
<circle cx="60.72" cy="562.22" r="1.30" fill="#d55b5d" />
<circle cx="61.40" cy="588.80" r="12.50" fill="#fbe1e1" stroke="#e5a3a3" stroke-width="0.7" />
<circle cx="58.93" cy="582.85" r="1.30" fill="#d55b5d" />
<circle cx="64.89" cy="582.85" r="1.30" fill="#d55b5d" />
<circle cx="57.49" cy="585.57" r="1.30" fill="#d55b5d" />
<circle cx="60.46" cy="585.57" r="1.30" fill="#d55b5d" />
<circle cx="63.44" cy="585.57" r="1.30" fill="#d55b5d" />
<circle cx="66.42" cy="585.57" r="1.30" fill="#d55b5d" />
<circle cx="59.19" cy="588.12" r="1.30" fill="#d55b5d" />
<circle cx="62.17" cy="588.12" r="1.30" fill="#d55b5d" />
<circle cx="64.89" cy="588.12" r="1.30" fill="#d55b5d" />
<circle cx="67.69" cy="588.12" r="1.30" fill="#d55b5d" />
<circle cx="55.28" cy="590.67" r="1.30" fill="#d55b5d" />
<circle cx="58.00" cy="590.67" r="1.30" fill="#d55b5d" />
<circle cx="60.72" cy="590.67" r="1.30" fill="#d55b5d" />
<circle cx="63.70" cy="590.67" r="1.30" fill="#d55b5d" />
<circle cx="66.67" cy="590.67" r="1.30" fill="#d55b5d" />
<circle cx="69.39" cy="590.67" r="1.30" fill="#d55b5d" />
<circle cx="56.47" cy="593.31" r="1.30" fill="#d55b5d" />
<circle cx="59.19" cy="593.31" r="1.30" fill="#d55b5d" />
<circle cx="62.17" cy="593.31" r="1.30" fill="#d55b5d" />
<circle cx="65.14" cy="593.31" r="1.30" fill="#d55b5d" />
<circle cx="58.00" cy="595.52" r="1.30" fill="#d55b5d" />
<circle cx="60.72" cy="595.52" r="1.30" fill="#d55b5d" />
<line x1="46.80" y1="570.40" x2="75.00" y2="577.40" stroke="#222" stroke-width="0.8" />
<text x="0" y="1.79" font-size="5.00" text-anchor="middle" fill="#222" transform="translate(43.10 553.30) rotate(-90)">IR-resistant</text>
<text x="0" y="1.79" font-size="5.00" text-anchor="middle" fill="#222" transform="translate(37.30 587.60) rotate(-90)">IR-resistant</text>
<text x="0" y="1.79" font-size="5.00" text-anchor="middle" fill="#222" transform="translate(43.10 587.60) rotate(-90)">+IDH1i</text>
<circle cx="111.80" cy="645.40" r="12.30" fill="#fbe1e1" stroke="#e5a3a3" stroke-width="0.7" />
<circle cx="109.37" cy="639.54" r="1.30" fill="#d55b5d" />
<circle cx="115.23" cy="639.54" r="1.30" fill="#d55b5d" />
<circle cx="107.95" cy="642.22" r="1.30" fill="#d55b5d" />
<circle cx="110.88" cy="642.22" r="1.30" fill="#d55b5d" />
<circle cx="113.81" cy="642.22" r="1.30" fill="#d55b5d" />
<circle cx="116.74" cy="642.22" r="1.30" fill="#d55b5d" />
<circle cx="109.62" cy="644.73" r="1.30" fill="#d55b5d" />
<circle cx="112.55" cy="644.73" r="1.30" fill="#d55b5d" />
<circle cx="115.23" cy="644.73" r="1.30" fill="#d55b5d" />
<circle cx="117.99" cy="644.73" r="1.30" fill="#d55b5d" />
<circle cx="105.78" cy="647.24" r="1.30" fill="#d55b5d" />
<circle cx="108.45" cy="647.24" r="1.30" fill="#d55b5d" />
<circle cx="111.13" cy="647.24" r="1.30" fill="#d55b5d" />
<circle cx="114.06" cy="647.24" r="1.30" fill="#d55b5d" />
<circle cx="116.99" cy="647.24" r="1.30" fill="#d55b5d" />
<circle cx="119.67" cy="647.24" r="1.30" fill="#d55b5d" />
<circle cx="106.95" cy="649.83" r="1.30" fill="#d55b5d" />
<circle cx="109.62" cy="649.83" r="1.30" fill="#d55b5d" />
<circle cx="112.55" cy="649.83" r="1.30" fill="#d55b5d" />
<circle cx="115.48" cy="649.83" r="1.30" fill="#d55b5d" />
<circle cx="108.45" cy="652.01" r="1.30" fill="#d55b5d" />
<circle cx="111.13" cy="652.01" r="1.30" fill="#d55b5d" />
<circle cx="151.00" cy="645.40" r="12.30" fill="#d9edf1" stroke="#a9c5cb" stroke-width="0.7" />
<circle cx="148.57" cy="639.54" r="1.30" fill="#3b69bd" />
<circle cx="154.43" cy="639.54" r="1.30" fill="#3b69bd" />
<circle cx="147.15" cy="642.22" r="1.30" fill="#3b69bd" />
<circle cx="150.08" cy="642.22" r="1.30" fill="#3b69bd" />
<circle cx="153.01" cy="642.22" r="1.30" fill="#3b69bd" />
<circle cx="155.94" cy="642.22" r="1.30" fill="#3b69bd" />
<circle cx="148.82" cy="644.73" r="1.30" fill="#3b69bd" />
<circle cx="151.75" cy="644.73" r="1.30" fill="#3b69bd" />
<circle cx="154.43" cy="644.73" r="1.30" fill="#3b69bd" />
<circle cx="157.19" cy="644.73" r="1.30" fill="#3b69bd" />
<circle cx="144.98" cy="647.24" r="1.30" fill="#3b69bd" />
<circle cx="147.65" cy="647.24" r="1.30" fill="#3b69bd" />
<circle cx="150.33" cy="647.24" r="1.30" fill="#3b69bd" />
<circle cx="153.26" cy="647.24" r="1.30" fill="#3b69bd" />
<circle cx="156.19" cy="647.24" r="1.30" fill="#3b69bd" />
<circle cx="158.87" cy="647.24" r="1.30" fill="#3b69bd" />
<circle cx="146.15" cy="649.83" r="1.30" fill="#3b69bd" />
<circle cx="148.82" cy="649.83" r="1.30" fill="#3b69bd" />
<circle cx="151.75" cy="649.83" r="1.30" fill="#3b69bd" />
<circle cx="154.68" cy="649.83" r="1.30" fill="#3b69bd" />
<circle cx="147.65" cy="652.01" r="1.30" fill="#3b69bd" />
<circle cx="150.33" cy="652.01" r="1.30" fill="#3b69bd" />
<line x1="134.70" y1="629.50" x2="124.00" y2="656.50" stroke="#222" stroke-width="0.8" />
<text x="112.20" y="630.29" font-size="5.00" text-anchor="middle" font-weight="bold" fill="#222" >IR-resistant</text>
<text x="150.00" y="630.29" font-size="5.00" text-anchor="middle" font-weight="bold" fill="#222" >Parent</text>
<rect x="269.40" y="507.20" width="151.40" height="131.00" fill="#fff" />
<line x1="291.30" y1="507.20" x2="291.30" y2="638.20" stroke="#ebebeb" stroke-width="0.6" />
<line x1="311.60" y1="507.20" x2="311.60" y2="638.20" stroke="#ebebeb" stroke-width="0.6" />
<line x1="331.30" y1="507.20" x2="331.30" y2="638.20" stroke="#ebebeb" stroke-width="0.6" />
<line x1="351.50" y1="507.20" x2="351.50" y2="638.20" stroke="#ebebeb" stroke-width="0.6" />
<line x1="371.60" y1="507.20" x2="371.60" y2="638.20" stroke="#ebebeb" stroke-width="0.6" />
<line x1="391.70" y1="507.20" x2="391.70" y2="638.20" stroke="#ebebeb" stroke-width="0.6" />
<line x1="411.80" y1="507.20" x2="411.80" y2="638.20" stroke="#ebebeb" stroke-width="0.6" />
<line x1="269.40" y1="528.40" x2="420.80" y2="528.40" stroke="#ebebeb" stroke-width="0.6" />
<line x1="269.40" y1="565.20" x2="420.80" y2="565.20" stroke="#ebebeb" stroke-width="0.6" />
<line x1="269.40" y1="601.90" x2="420.80" y2="601.90" stroke="#ebebeb" stroke-width="0.6" />
<ellipse cx="360" cy="551" rx="22" ry="6" fill="#8a8a8a" fill-opacity="0.45"/>
<ellipse cx="364" cy="576" rx="22" ry="7" fill="#8a8a8a" fill-opacity="0.5"/>
<ellipse cx="375" cy="555" rx="10" ry="4" fill="#8a8a8a" fill-opacity="0.3"/>
<ellipse cx="300" cy="549" rx="10" ry="4" fill="#8a8a8a" fill-opacity="0.2"/>
<ellipse cx="318" cy="517" rx="9" ry="4" fill="#8a8a8a" fill-opacity="0.2"/>
<circle cx="359.40" cy="568.87" r="0.70" fill="none" stroke="#9a9a9a" stroke-width="0.35" />
<circle cx="390.07" cy="564.35" r="0.70" fill="none" stroke="#9a9a9a" stroke-width="0.35" />
<circle cx="363.01" cy="570.19" r="0.70" fill="none" stroke="#9a9a9a" stroke-width="0.35" />
<circle cx="342.00" cy="566.57" r="0.70" fill="none" stroke="#9a9a9a" stroke-width="0.35" />
<circle cx="370.94" cy="580.06" r="0.70" fill="none" stroke="#9a9a9a" stroke-width="0.35" />
<circle cx="336.12" cy="556.56" r="0.70" fill="none" stroke="#9a9a9a" stroke-width="0.35" />
<circle cx="335.89" cy="580.86" r="0.70" fill="none" stroke="#9a9a9a" stroke-width="0.35" />
<circle cx="375.07" cy="544.01" r="0.70" fill="none" stroke="#9a9a9a" stroke-width="0.35" />
<circle cx="393.84" cy="588.31" r="0.70" fill="none" stroke="#9a9a9a" stroke-width="0.35" />
<circle cx="372.50" cy="571.55" r="0.70" fill="none" stroke="#9a9a9a" stroke-width="0.35" />
<circle cx="340.24" cy="542.72" r="0.70" fill="none" stroke="#9a9a9a" stroke-width="0.35" />
<circle cx="364.34" cy="544.86" r="0.70" fill="none" stroke="#9a9a9a" stroke-width="0.35" />
<circle cx="342.36" cy="553.61" r="0.70" fill="none" stroke="#9a9a9a" stroke-width="0.35" />
<circle cx="331.96" cy="564.27" r="0.70" fill="none" stroke="#9a9a9a" stroke-width="0.35" />
<circle cx="358.63" cy="582.44" r="0.70" fill="none" stroke="#9a9a9a" stroke-width="0.35" />
<circle cx="363.74" cy="572.73" r="0.70" fill="none" stroke="#9a9a9a" stroke-width="0.35" />
<circle cx="362.49" cy="573.80" r="0.70" fill="none" stroke="#9a9a9a" stroke-width="0.35" />
<circle cx="359.73" cy="555.35" r="0.70" fill="none" stroke="#9a9a9a" stroke-width="0.35" />
<circle cx="394.85" cy="589.79" r="0.70" fill="none" stroke="#9a9a9a" stroke-width="0.35" />
<circle cx="384.61" cy="575.97" r="0.70" fill="none" stroke="#9a9a9a" stroke-width="0.35" />
<circle cx="350.49" cy="553.02" r="0.70" fill="none" stroke="#9a9a9a" stroke-width="0.35" />
<circle cx="348.79" cy="545.37" r="0.70" fill="none" stroke="#9a9a9a" stroke-width="0.35" />
<circle cx="379.81" cy="561.22" r="0.70" fill="none" stroke="#9a9a9a" stroke-width="0.35" />
<circle cx="385.03" cy="560.55" r="0.70" fill="none" stroke="#9a9a9a" stroke-width="0.35" />
<circle cx="392.27" cy="582.67" r="0.70" fill="none" stroke="#9a9a9a" stroke-width="0.35" />
<circle cx="330.04" cy="552.07" r="0.70" fill="none" stroke="#9a9a9a" stroke-width="0.35" />
<circle cx="389.17" cy="564.56" r="0.70" fill="none" stroke="#9a9a9a" stroke-width="0.35" />
<circle cx="393.72" cy="561.08" r="0.70" fill="none" stroke="#9a9a9a" stroke-width="0.35" />
<circle cx="334.75" cy="572.21" r="0.70" fill="none" stroke="#9a9a9a" stroke-width="0.35" />
<circle cx="380.60" cy="554.95" r="0.70" fill="none" stroke="#9a9a9a" stroke-width="0.35" />
<circle cx="335.66" cy="557.96" r="0.70" fill="none" stroke="#9a9a9a" stroke-width="0.35" />
<circle cx="392.66" cy="578.39" r="0.70" fill="none" stroke="#9a9a9a" stroke-width="0.35" />
<circle cx="337.67" cy="553.83" r="0.70" fill="none" stroke="#9a9a9a" stroke-width="0.35" />
<circle cx="336.57" cy="544.87" r="0.70" fill="none" stroke="#9a9a9a" stroke-width="0.35" />
<circle cx="381.81" cy="550.53" r="0.70" fill="none" stroke="#9a9a9a" stroke-width="0.35" />
<circle cx="366.35" cy="563.48" r="0.70" fill="none" stroke="#9a9a9a" stroke-width="0.35" />
<circle cx="342.39" cy="577.13" r="0.70" fill="none" stroke="#9a9a9a" stroke-width="0.35" />
<circle cx="338.51" cy="572.90" r="0.70" fill="none" stroke="#9a9a9a" stroke-width="0.35" />
<circle cx="337.57" cy="562.20" r="0.70" fill="none" stroke="#9a9a9a" stroke-width="0.35" />
<circle cx="343.84" cy="554.95" r="0.70" fill="none" stroke="#9a9a9a" stroke-width="0.35" />
<circle cx="393.11" cy="580.56" r="0.70" fill="none" stroke="#9a9a9a" stroke-width="0.35" />
<circle cx="349.77" cy="584.47" r="0.70" fill="none" stroke="#9a9a9a" stroke-width="0.35" />
<circle cx="343.70" cy="560.93" r="0.70" fill="none" stroke="#9a9a9a" stroke-width="0.35" />
<circle cx="385.53" cy="572.81" r="0.70" fill="none" stroke="#9a9a9a" stroke-width="0.35" />
<circle cx="336.52" cy="589.49" r="0.70" fill="none" stroke="#9a9a9a" stroke-width="0.35" />
<circle cx="343.86" cy="554.40" r="0.70" fill="none" stroke="#9a9a9a" stroke-width="0.35" />
<circle cx="380.22" cy="557.79" r="0.70" fill="none" stroke="#9a9a9a" stroke-width="0.35" />
<circle cx="349.26" cy="545.52" r="0.70" fill="none" stroke="#9a9a9a" stroke-width="0.35" />
<circle cx="335.86" cy="569.97" r="0.70" fill="none" stroke="#9a9a9a" stroke-width="0.35" />
<circle cx="345.80" cy="570.86" r="0.70" fill="none" stroke="#9a9a9a" stroke-width="0.35" />
<circle cx="354.16" cy="563.75" r="0.70" fill="none" stroke="#9a9a9a" stroke-width="0.35" />
<circle cx="392.34" cy="565.22" r="0.70" fill="none" stroke="#9a9a9a" stroke-width="0.35" />
<circle cx="367.35" cy="583.59" r="0.70" fill="none" stroke="#9a9a9a" stroke-width="0.35" />
<circle cx="341.88" cy="549.40" r="0.70" fill="none" stroke="#9a9a9a" stroke-width="0.35" />
<circle cx="389.05" cy="581.25" r="0.70" fill="none" stroke="#9a9a9a" stroke-width="0.35" />
<circle cx="346.22" cy="551.11" r="0.70" fill="none" stroke="#9a9a9a" stroke-width="0.35" />
<circle cx="378.06" cy="587.14" r="0.70" fill="none" stroke="#9a9a9a" stroke-width="0.35" />
<circle cx="342.78" cy="587.61" r="0.70" fill="none" stroke="#9a9a9a" stroke-width="0.35" />
<circle cx="387.34" cy="570.97" r="0.70" fill="none" stroke="#9a9a9a" stroke-width="0.35" />
<circle cx="357.39" cy="546.98" r="0.70" fill="none" stroke="#9a9a9a" stroke-width="0.35" />
<circle cx="286.74" cy="558.13" r="0.70" fill="none" stroke="#9a9a9a" stroke-width="0.35" />
<circle cx="295.73" cy="545.23" r="0.70" fill="none" stroke="#9a9a9a" stroke-width="0.35" />
<circle cx="296.56" cy="551.19" r="0.70" fill="none" stroke="#9a9a9a" stroke-width="0.35" />
<circle cx="311.84" cy="524.67" r="0.70" fill="none" stroke="#9a9a9a" stroke-width="0.35" />
<circle cx="292.89" cy="546.02" r="0.70" fill="none" stroke="#9a9a9a" stroke-width="0.35" />
<circle cx="288.09" cy="521.42" r="0.70" fill="none" stroke="#9a9a9a" stroke-width="0.35" />
<circle cx="310.17" cy="552.62" r="0.70" fill="none" stroke="#9a9a9a" stroke-width="0.35" />
<circle cx="312.64" cy="524.01" r="0.70" fill="none" stroke="#9a9a9a" stroke-width="0.35" />
<circle cx="326.28" cy="520.20" r="0.70" fill="none" stroke="#9a9a9a" stroke-width="0.35" />
<circle cx="285.75" cy="523.46" r="0.70" fill="none" stroke="#9a9a9a" stroke-width="0.35" />
<circle cx="305.06" cy="513.02" r="0.70" fill="none" stroke="#9a9a9a" stroke-width="0.35" />
<circle cx="292.93" cy="528.44" r="0.70" fill="none" stroke="#9a9a9a" stroke-width="0.35" />
<circle cx="310.75" cy="516.58" r="0.70" fill="none" stroke="#9a9a9a" stroke-width="0.35" />
<circle cx="301.30" cy="554.55" r="0.70" fill="none" stroke="#9a9a9a" stroke-width="0.35" />
<circle cx="329.12" cy="542.85" r="0.70" fill="none" stroke="#9a9a9a" stroke-width="0.35" />
<circle cx="316.10" cy="539.22" r="0.70" fill="none" stroke="#9a9a9a" stroke-width="0.35" />
<circle cx="291.32" cy="511.75" r="0.70" fill="none" stroke="#9a9a9a" stroke-width="0.35" />
<circle cx="285.81" cy="555.51" r="0.70" fill="none" stroke="#9a9a9a" stroke-width="0.35" />
<circle cx="316.54" cy="558.14" r="0.70" fill="none" stroke="#9a9a9a" stroke-width="0.35" />
<circle cx="285.96" cy="541.81" r="0.70" fill="none" stroke="#9a9a9a" stroke-width="0.35" />
<circle cx="306.70" cy="546.52" r="0.70" fill="none" stroke="#9a9a9a" stroke-width="0.35" />
<circle cx="299.35" cy="559.97" r="0.70" fill="none" stroke="#9a9a9a" stroke-width="0.35" />
<circle cx="288.39" cy="537.30" r="0.70" fill="none" stroke="#9a9a9a" stroke-width="0.35" />
<circle cx="318.17" cy="555.01" r="0.70" fill="none" stroke="#9a9a9a" stroke-width="0.35" />
<circle cx="318.17" cy="545.18" r="0.70" fill="none" stroke="#9a9a9a" stroke-width="0.35" />
<text x="282.00" y="515.08" font-size="4.40" text-anchor="middle" fill="#111" stroke="#111" stroke-width="0.14">FEZ2</text>
<text x="284.80" y="519.18" font-size="4.40" text-anchor="middle" fill="#111" stroke="#111" stroke-width="0.14">LOC105377524</text>
<text x="283.40" y="523.08" font-size="4.40" text-anchor="middle" fill="#111" stroke="#111" stroke-width="0.14">CCDC172</text>
<text x="278.00" y="529.98" font-size="4.40" text-anchor="middle" fill="#111" stroke="#111" stroke-width="0.14">RP11-2286J17.3</text>
<text x="298.70" y="514.78" font-size="4.40" text-anchor="middle" fill="#111" stroke="#111" stroke-width="0.14">CAPS</text>
<text x="316.70" y="516.18" font-size="4.40" text-anchor="middle" fill="#111" stroke="#111" stroke-width="0.14">ACSL1</text>
<text x="314.00" y="519.58" font-size="4.40" text-anchor="middle" fill="#111" stroke="#111" stroke-width="0.14">KLF5</text>
<text x="309.10" y="523.38" font-size="4.40" text-anchor="middle" fill="#111" stroke="#111" stroke-width="0.14">B3GALT1-AS1</text>
<text x="321.60" y="528.58" font-size="4.40" text-anchor="middle" fill="#111" stroke="#111" stroke-width="0.14">RSP1</text>
<text x="308.40" y="532.38" font-size="4.40" text-anchor="middle" fill="#111" stroke="#111" stroke-width="0.14">AMGR</text>
<text x="302.20" y="539.28" font-size="4.40" text-anchor="middle" fill="#111" stroke="#111" stroke-width="0.14">ARC2/8</text>
<text x="289.70" y="542.78" font-size="4.40" text-anchor="middle" fill="#111" stroke="#111" stroke-width="0.14">FAM135A</text>
<text x="313.90" y="543.88" font-size="4.40" text-anchor="middle" fill="#111" stroke="#111" stroke-width="0.14">CAND</text>
<text x="280.70" y="549.68" font-size="4.40" text-anchor="middle" fill="#111" stroke="#111" stroke-width="0.14">F2RL1</text>
<text x="316.00" y="547.38" font-size="4.40" text-anchor="middle" fill="#111" stroke="#111" stroke-width="0.14">ABCA</text>
<text x="321.60" y="551.08" font-size="4.40" text-anchor="middle" fill="#111" stroke="#111" stroke-width="0.14">SNAI1</text>
<text x="291.00" y="553.58" font-size="4.40" text-anchor="middle" fill="#111" stroke="#111" stroke-width="0.14">LRP1</text>
<text x="289.00" y="572.58" font-size="4.40" text-anchor="middle" fill="#111" stroke="#111" stroke-width="0.14">CACNA2D1</text>
<text x="284.80" y="576.18" font-size="4.40" text-anchor="middle" fill="#111" stroke="#111" stroke-width="0.14">RPF13</text>
<text x="322.60" y="572.98" font-size="4.40" text-anchor="middle" fill="#111" stroke="#111" stroke-width="0.14">GPR180</text>
<text x="322.60" y="576.88" font-size="4.40" text-anchor="middle" fill="#111" stroke="#111" stroke-width="0.14">DAAM1B</text>
<text x="308.00" y="581.98" font-size="4.40" text-anchor="middle" fill="#111" stroke="#111" stroke-width="0.14">CCDC158</text>
<text x="316.80" y="588.88" font-size="4.40" text-anchor="middle" fill="#111" stroke="#111" stroke-width="0.14">PKT1</text>
<text x="314.60" y="596.88" font-size="4.40" text-anchor="middle" fill="#111" stroke="#111" stroke-width="0.14">OCTN2-AS1</text>
<text x="340.40" y="512.68" font-size="4.40" text-anchor="middle" fill="#111" stroke="#111" stroke-width="0.14">COL1A2-AS1</text>
<text x="342.50" y="518.18" font-size="4.40" text-anchor="middle" fill="#111" stroke="#111" stroke-width="0.14">DYRK1B</text>
<text x="339.70" y="522.38" font-size="4.40" text-anchor="middle" fill="#111" stroke="#111" stroke-width="0.14">SYDE</text>
<text x="370.90" y="523.08" font-size="4.40" text-anchor="middle" fill="#111" stroke="#111" stroke-width="0.14">FLJ30594</text>
<text x="362.60" y="528.58" font-size="4.40" text-anchor="middle" fill="#111" stroke="#111" stroke-width="0.14">FZR1</text>
<text x="377.20" y="532.78" font-size="4.40" text-anchor="middle" fill="#111" stroke="#111" stroke-width="0.14">LINC02065</text>
<text x="339.00" y="530.98" font-size="4.40" text-anchor="middle" fill="#111" stroke="#111" stroke-width="0.14">NFAMP</text>
<text x="341.80" y="535.58" font-size="4.40" text-anchor="middle" fill="#111" stroke="#111" stroke-width="0.14">MIR3300</text>
<text x="355.00" y="540.38" font-size="4.40" text-anchor="middle" fill="#111" stroke="#111" stroke-width="0.14">ATP6AP1</text>
<text x="366.80" y="537.38" font-size="4.40" text-anchor="middle" fill="#111" stroke="#111" stroke-width="0.14">SOBD</text>
<text x="348.00" y="543.18" font-size="4.40" text-anchor="middle" fill="#111" stroke="#111" stroke-width="0.14">IRAG1-AS1</text>
<text x="373.00" y="544.58" font-size="4.40" text-anchor="middle" fill="#111" stroke="#111" stroke-width="0.14">GALGA</text>
<text x="347.30" y="547.08" font-size="4.40" text-anchor="middle" fill="#111" stroke="#111" stroke-width="0.14">ACSF2</text>
<text x="382.70" y="548.48" font-size="4.40" text-anchor="middle" fill="#111" stroke="#111" stroke-width="0.14">CLK2DB</text>
<text x="374.40" y="551.48" font-size="4.40" text-anchor="middle" fill="#111" stroke="#111" stroke-width="0.14">ABCAST1</text>
<text x="381.30" y="554.98" font-size="4.40" text-anchor="middle" fill="#111" stroke="#111" stroke-width="0.14">MIR4920</text>
<text x="339.70" y="558.48" font-size="4.40" text-anchor="middle" fill="#111" stroke="#111" stroke-width="0.14">LRRC32</text>
<text x="359.80" y="558.18" font-size="4.40" text-anchor="middle" fill="#111" stroke="#111" stroke-width="0.14">CTBDL1</text>
<text x="380.60" y="558.48" font-size="4.40" text-anchor="middle" fill="#111" stroke="#111" stroke-width="0.14">ANGPT4</text>
<text x="342.30" y="572.58" font-size="4.40" text-anchor="middle" fill="#111" stroke="#111" stroke-width="0.14">WBP1</text>
<text x="346.70" y="576.18" font-size="4.40" text-anchor="middle" fill="#111" stroke="#111" stroke-width="0.14">ACTC/DHHT</text>
<text x="362.80" y="572.58" font-size="4.40" text-anchor="middle" fill="#111" stroke="#111" stroke-width="0.14">ARHGC2</text>
<text x="368.60" y="576.18" font-size="4.40" text-anchor="middle" fill="#111" stroke="#111" stroke-width="0.14">ZNF8A2</text>
<text x="383.90" y="572.08" font-size="4.40" text-anchor="middle" fill="#111" stroke="#111" stroke-width="0.14">ATP2B2</text>
<text x="350.40" y="579.78" font-size="4.40" text-anchor="middle" fill="#111" stroke="#111" stroke-width="0.14">ABCAT1</text>
<text x="381.00" y="580.58" font-size="4.40" text-anchor="middle" fill="#111" stroke="#111" stroke-width="0.14">ARHGD</text>
<text x="343.80" y="583.78" font-size="4.40" text-anchor="middle" fill="#111" stroke="#111" stroke-width="0.14">CAD5P1</text>
<text x="359.90" y="584.98" font-size="4.40" text-anchor="middle" fill="#111" stroke="#111" stroke-width="0.14">BCBD</text>
<text x="383.20" y="583.78" font-size="4.40" text-anchor="middle" fill="#111" stroke="#111" stroke-width="0.14">ELMO2</text>
<text x="339.40" y="589.28" font-size="4.40" text-anchor="middle" fill="#111" stroke="#111" stroke-width="0.14">H2AZ1</text>
<text x="375.90" y="588.58" font-size="4.40" text-anchor="middle" fill="#111" stroke="#111" stroke-width="0.14">ALDH3B1</text>
<text x="339.40" y="594.88" font-size="4.40" text-anchor="middle" fill="#111" stroke="#111" stroke-width="0.14">MIR4788</text>
<text x="357.70" y="592.98" font-size="4.40" text-anchor="middle" fill="#111" stroke="#111" stroke-width="0.14">AMAPC5</text>
<text x="381.00" y="593.38" font-size="4.40" text-anchor="middle" fill="#111" stroke="#111" stroke-width="0.14">ARTN</text>
<text x="346.70" y="598.08" font-size="4.40" text-anchor="middle" fill="#111" stroke="#111" stroke-width="0.14">AGN1</text>
<text x="370.00" y="598.08" font-size="4.40" text-anchor="middle" fill="#111" stroke="#111" stroke-width="0.14">EF2B3</text>
<text x="381.00" y="598.08" font-size="4.40" text-anchor="middle" fill="#111" stroke="#111" stroke-width="0.14">FUS</text>
<text x="352.60" y="601.68" font-size="4.40" text-anchor="middle" fill="#111" stroke="#111" stroke-width="0.14">CEYBBP1</text>
<text x="374.50" y="603.88" font-size="4.40" text-anchor="middle" fill="#111" stroke="#111" stroke-width="0.14">CDGD2</text>
<text x="346.70" y="605.38" font-size="4.40" text-anchor="middle" fill="#111" stroke="#111" stroke-width="0.14">ARFC1</text>
<text x="359.90" y="606.08" font-size="4.40" text-anchor="middle" fill="#111" stroke="#111" stroke-width="0.14">CEA6</text>
<text x="339.40" y="608.98" font-size="4.40" text-anchor="middle" fill="#111" stroke="#111" stroke-width="0.14">ACADM</text>
<text x="380.30" y="607.98" font-size="4.40" text-anchor="middle" fill="#111" stroke="#111" stroke-width="0.14">ADAMTS2</text>
<text x="343.80" y="612.68" font-size="4.40" text-anchor="middle" fill="#111" stroke="#111" stroke-width="0.14">FSCN3</text>
<text x="364.20" y="611.98" font-size="4.40" text-anchor="middle" fill="#111" stroke="#111" stroke-width="0.14">ARFGA</text>
<text x="381.80" y="612.68" font-size="4.40" text-anchor="middle" fill="#111" stroke="#111" stroke-width="0.14">ATG4D</text>
<text x="386.10" y="616.78" font-size="4.40" text-anchor="middle" fill="#111" stroke="#111" stroke-width="0.14">CBR1-AS1</text>
<text x="412.50" y="587.98" font-size="4.40" text-anchor="middle" fill="#111" stroke="#111" stroke-width="0.14">MIR120</text>
<text x="402.10" y="632.58" font-size="4.40" text-anchor="middle" fill="#111" stroke="#111" stroke-width="0.14">MIR207</text>
<line x1="276.50" y1="540.00" x2="413.20" y2="596.40" stroke="#2b4fe0" stroke-width="1.1" />
<rect x="269.40" y="507.20" width="151.40" height="131.00" fill="none" stroke="#b0b0b0" stroke-width="0.8" />
<text x="273.00" y="635.03" font-size="5.40" fill="#111" >r = -.58, p=&lt;2.2e-16</text>
<text x="291.30" y="642.82" font-size="3.40" text-anchor="middle" fill="#777" >-4</text>
<text x="331.30" y="642.82" font-size="3.40" text-anchor="middle" fill="#777" >0</text>
<text x="371.60" y="642.82" font-size="3.40" text-anchor="middle" fill="#777" >4</text>
<text x="411.80" y="642.82" font-size="3.40" text-anchor="middle" fill="#777" >8</text>
<text x="267.50" y="529.62" font-size="3.40" text-anchor="end" fill="#777" >5</text>
<text x="267.50" y="566.42" font-size="3.40" text-anchor="end" fill="#777" >0</text>
<text x="267.50" y="603.12" font-size="3.40" text-anchor="end" fill="#777" >-5</text>
<text x="267.50" y="639.42" font-size="3.40" text-anchor="end" fill="#777" >-10</text>
<defs><linearGradient id="g1" x1="0" y1="0" x2="0" y2="1"><stop offset="0" stop-color="#0f2454"/><stop offset="0.2" stop-color="#1f3a78"/><stop offset="0.5" stop-color="#5a72b0"/><stop offset="0.8" stop-color="#c3cee8"/><stop offset="1" stop-color="#ffffff"/></linearGradient></defs>
<path d="M256.40,507.80 L266.00,507.80 L266.00,637.50 Z" fill="url(#g1)" />
<text x="0" y="2.94" font-size="8.20" text-anchor="middle" fill="#fff" transform="translate(262.00 526.40) rotate(-90)">H3K27ac</text>
<defs><linearGradient id="g2" x1="0" y1="0" x2="1" y2="0"><stop offset="0" stop-color="#ffffff"/><stop offset="0.35" stop-color="#c3cde6"/><stop offset="0.7" stop-color="#5870b8"/><stop offset="1" stop-color="#0b2b7e"/></linearGradient></defs>
<path d="M269.60,644.20 L418.80,644.20 L418.80,656.30 Z" fill="url(#g2)" />
<text x="414.90" y="651.54" font-size="8.20" text-anchor="end" fill="#fff" >H3K27ac</text>
<text x="0" y="2.92" font-size="8.15" text-anchor="middle" font-weight="bold" fill="#111" transform="translate(253.50 569.00) rotate(-90)">(IDH1i+IR/IR) FC</text>
<text x="336.80" y="663.14" font-size="8.20" text-anchor="middle" font-weight="bold" fill="#111" >(IR/Ctrl) FC</text>
<rect x="490.40" y="512.00" width="151.10" height="129.80" fill="#fff" />
<line x1="510.60" y1="512.00" x2="510.60" y2="641.80" stroke="#ebebeb" stroke-width="0.6" />
<line x1="529.90" y1="512.00" x2="529.90" y2="641.80" stroke="#ebebeb" stroke-width="0.6" />
<line x1="549.60" y1="512.00" x2="549.60" y2="641.80" stroke="#ebebeb" stroke-width="0.6" />
<line x1="568.60" y1="512.00" x2="568.60" y2="641.80" stroke="#ebebeb" stroke-width="0.6" />
<line x1="587.80" y1="512.00" x2="587.80" y2="641.80" stroke="#ebebeb" stroke-width="0.6" />
<line x1="606.90" y1="512.00" x2="606.90" y2="641.80" stroke="#ebebeb" stroke-width="0.6" />
<line x1="626.00" y1="512.00" x2="626.00" y2="641.80" stroke="#ebebeb" stroke-width="0.6" />
<line x1="490.40" y1="528.40" x2="641.50" y2="528.40" stroke="#ebebeb" stroke-width="0.6" />
<line x1="490.40" y1="549.50" x2="641.50" y2="549.50" stroke="#ebebeb" stroke-width="0.6" />
<line x1="490.40" y1="569.80" x2="641.50" y2="569.80" stroke="#ebebeb" stroke-width="0.6" />
<line x1="490.40" y1="589.90" x2="641.50" y2="589.90" stroke="#ebebeb" stroke-width="0.6" />
<line x1="490.40" y1="610.50" x2="641.50" y2="610.50" stroke="#ebebeb" stroke-width="0.6" />
<line x1="490.40" y1="631.20" x2="641.50" y2="631.20" stroke="#ebebeb" stroke-width="0.6" />
<path d="M496.7,570.5 L574,593.9 L636.4,603.2 L636.4,611.9 L574,597.4 L496.7,584.5 Z" fill="#c8c8c8" fill-opacity="0.85"/>
<line x1="496.70" y1="577.00" x2="636.40" y2="608.40" stroke="#2b4fe0" stroke-width="1.1" />
<circle cx="601.10" cy="611.30" r="0.70" fill="none" stroke="#9a9a9a" stroke-width="0.35" />
<circle cx="611.65" cy="590.70" r="0.70" fill="none" stroke="#9a9a9a" stroke-width="0.35" />
<circle cx="575.60" cy="599.99" r="0.70" fill="none" stroke="#9a9a9a" stroke-width="0.35" />
<circle cx="590.07" cy="617.41" r="0.70" fill="none" stroke="#9a9a9a" stroke-width="0.35" />
<circle cx="612.98" cy="609.06" r="0.70" fill="none" stroke="#9a9a9a" stroke-width="0.35" />
<circle cx="605.70" cy="611.45" r="0.70" fill="none" stroke="#9a9a9a" stroke-width="0.35" />
<circle cx="582.99" cy="602.60" r="0.70" fill="none" stroke="#9a9a9a" stroke-width="0.35" />
<circle cx="583.92" cy="621.24" r="0.70" fill="none" stroke="#9a9a9a" stroke-width="0.35" />
<circle cx="578.24" cy="617.75" r="0.70" fill="none" stroke="#9a9a9a" stroke-width="0.35" />
<circle cx="579.10" cy="612.48" r="0.70" fill="none" stroke="#9a9a9a" stroke-width="0.35" />
<circle cx="593.53" cy="601.18" r="0.70" fill="none" stroke="#9a9a9a" stroke-width="0.35" />
<circle cx="621.33" cy="585.74" r="0.70" fill="none" stroke="#9a9a9a" stroke-width="0.35" />
<circle cx="578.34" cy="621.60" r="0.70" fill="none" stroke="#9a9a9a" stroke-width="0.35" />
<circle cx="602.99" cy="588.64" r="0.70" fill="none" stroke="#9a9a9a" stroke-width="0.35" />
<circle cx="629.29" cy="622.87" r="0.70" fill="none" stroke="#9a9a9a" stroke-width="0.35" />
<circle cx="581.19" cy="601.93" r="0.70" fill="none" stroke="#9a9a9a" stroke-width="0.35" />
<circle cx="582.43" cy="597.50" r="0.70" fill="none" stroke="#9a9a9a" stroke-width="0.35" />
<circle cx="609.18" cy="591.54" r="0.70" fill="none" stroke="#9a9a9a" stroke-width="0.35" />
<circle cx="613.33" cy="587.05" r="0.70" fill="none" stroke="#9a9a9a" stroke-width="0.35" />
<circle cx="584.42" cy="617.63" r="0.70" fill="none" stroke="#9a9a9a" stroke-width="0.35" />
<circle cx="597.03" cy="601.75" r="0.70" fill="none" stroke="#9a9a9a" stroke-width="0.35" />
<circle cx="607.78" cy="604.07" r="0.70" fill="none" stroke="#9a9a9a" stroke-width="0.35" />
<circle cx="596.15" cy="586.22" r="0.70" fill="none" stroke="#9a9a9a" stroke-width="0.35" />
<circle cx="614.95" cy="623.70" r="0.70" fill="none" stroke="#9a9a9a" stroke-width="0.35" />
<circle cx="628.70" cy="611.54" r="0.70" fill="none" stroke="#9a9a9a" stroke-width="0.35" />
<circle cx="594.60" cy="599.53" r="0.70" fill="none" stroke="#9a9a9a" stroke-width="0.35" />
<circle cx="612.96" cy="611.95" r="0.70" fill="none" stroke="#9a9a9a" stroke-width="0.35" />
<circle cx="581.26" cy="594.40" r="0.70" fill="none" stroke="#9a9a9a" stroke-width="0.35" />
<circle cx="594.98" cy="605.45" r="0.70" fill="none" stroke="#9a9a9a" stroke-width="0.35" />
<circle cx="619.56" cy="605.00" r="0.70" fill="none" stroke="#9a9a9a" stroke-width="0.35" />
<circle cx="576.55" cy="617.90" r="0.70" fill="none" stroke="#9a9a9a" stroke-width="0.35" />
<circle cx="598.66" cy="605.76" r="0.70" fill="none" stroke="#9a9a9a" stroke-width="0.35" />
<circle cx="587.22" cy="602.09" r="0.70" fill="none" stroke="#9a9a9a" stroke-width="0.35" />
<circle cx="596.35" cy="615.88" r="0.70" fill="none" stroke="#9a9a9a" stroke-width="0.35" />
<circle cx="580.64" cy="607.00" r="0.70" fill="none" stroke="#9a9a9a" stroke-width="0.35" />
<text x="507.20" y="518.28" font-size="4.40" text-anchor="middle" fill="#111" stroke="#111" stroke-width="0.14">MYC</text>
<text x="507.20" y="555.88" font-size="4.40" text-anchor="middle" fill="#111" stroke="#111" stroke-width="0.14">LOC105375704</text>
<text x="497.80" y="569.78" font-size="4.40" text-anchor="middle" fill="#111" stroke="#111" stroke-width="0.14">CASC11</text>
<text x="535.20" y="569.78" font-size="4.40" text-anchor="middle" fill="#111" stroke="#111" stroke-width="0.14">CA10</text>
<text x="532.90" y="577.28" font-size="4.40" text-anchor="middle" fill="#111" stroke="#111" stroke-width="0.14">NFBD7</text>
<text x="621.70" y="562.78" font-size="4.40" text-anchor="middle" fill="#111" stroke="#111" stroke-width="0.14">TEX2</text>
<text x="634.50" y="566.28" font-size="4.40" text-anchor="middle" fill="#111" stroke="#111" stroke-width="0.14">LINC02</text>
<text x="599.50" y="571.38" font-size="4.40" text-anchor="middle" fill="#111" stroke="#111" stroke-width="0.14">IMP3</text>
<text x="617.00" y="571.38" font-size="4.40" text-anchor="middle" fill="#111" stroke="#111" stroke-width="0.14">KIF26A-OT</text>
<text x="634.50" y="577.48" font-size="4.40" text-anchor="middle" fill="#111" stroke="#111" stroke-width="0.14">MIR120</text>
<text x="596.00" y="579.78" font-size="4.40" text-anchor="middle" fill="#111" stroke="#111" stroke-width="0.14">LINC02004</text>
<text x="619.30" y="582.18" font-size="4.40" text-anchor="middle" fill="#111" stroke="#111" stroke-width="0.14">ST3GAL1</text>
<text x="600.60" y="583.78" font-size="4.40" text-anchor="middle" fill="#111" stroke="#111" stroke-width="0.14">LHFPL1</text>
<text x="615.80" y="584.98" font-size="4.40" text-anchor="middle" fill="#111" stroke="#111" stroke-width="0.14">RBBP2</text>
<text x="520.00" y="594.78" font-size="4.40" text-anchor="middle" fill="#111" stroke="#111" stroke-width="0.14">GABC</text>
<text x="521.20" y="600.58" font-size="4.40" text-anchor="middle" fill="#111" stroke="#111" stroke-width="0.14">FOXE1</text>
<text x="550.90" y="597.28" font-size="4.40" text-anchor="middle" fill="#111" stroke="#111" stroke-width="0.14">ANXA2-PT</text>
<text x="541.10" y="615.78" font-size="4.40" text-anchor="middle" fill="#111" stroke="#111" stroke-width="0.14">SOX2-OT</text>
<text x="586.60" y="595.48" font-size="4.40" text-anchor="middle" fill="#111" stroke="#111" stroke-width="0.14">DEPP1</text>
<text x="612.30" y="596.18" font-size="4.40" text-anchor="middle" fill="#111" stroke="#111" stroke-width="0.14">ANKF2</text>
<text x="590.00" y="598.58" font-size="4.40" text-anchor="middle" fill="#111" stroke="#111" stroke-width="0.14">PAX5</text>
<text x="622.80" y="599.68" font-size="4.40" text-anchor="middle" fill="#111" stroke="#111" stroke-width="0.14">GRKD</text>
<text x="624.00" y="603.18" font-size="4.40" text-anchor="middle" fill="#111" stroke="#111" stroke-width="0.14">LBH</text>
<text x="600.60" y="604.78" font-size="4.40" text-anchor="middle" fill="#111" stroke="#111" stroke-width="0.14">ACHF1</text>
<text x="601.80" y="609.48" font-size="4.40" text-anchor="middle" fill="#111" stroke="#111" stroke-width="0.14">LOC105374397</text>
<text x="622.80" y="611.78" font-size="4.40" text-anchor="middle" fill="#111" stroke="#111" stroke-width="0.14">CCL6B</text>
<text x="604.10" y="613.48" font-size="4.40" text-anchor="middle" fill="#111" stroke="#111" stroke-width="0.14">CBP135</text>
<text x="608.80" y="617.68" font-size="4.40" text-anchor="middle" fill="#111" stroke="#111" stroke-width="0.14">SECR</text>
<text x="610.00" y="621.18" font-size="4.40" text-anchor="middle" fill="#111" stroke="#111" stroke-width="0.14">RNF128</text>
<text x="612.30" y="624.18" font-size="4.40" text-anchor="middle" fill="#111" stroke="#111" stroke-width="0.14">OXCT1-AS1</text>
<text x="619.30" y="628.18" font-size="4.40" text-anchor="middle" fill="#111" stroke="#111" stroke-width="0.14">C7orf76</text>
<text x="585.90" y="623.48" font-size="4.40" text-anchor="middle" fill="#111" stroke="#111" stroke-width="0.14">Fst</text>
<text x="588.50" y="631.68" font-size="4.40" text-anchor="middle" fill="#111" stroke="#111" stroke-width="0.14">CAPG</text>
<text x="618.10" y="636.98" font-size="4.40" text-anchor="middle" fill="#111" stroke="#111" stroke-width="0.14">LOC105369325</text>
<circle cx="507.20" cy="519.20" r="1.50" fill="#e01818" />
<rect x="490.40" y="512.00" width="151.10" height="129.80" fill="none" stroke="#b0b0b0" stroke-width="0.8" />
<text x="492.00" y="639.84" font-size="5.70" fill="#111" >r = -.35, p=&lt;5.758e-08</text>
<text x="491.50" y="646.72" font-size="3.40" text-anchor="middle" fill="#777" >-8</text>
<text x="530.10" y="646.72" font-size="3.40" text-anchor="middle" fill="#777" >-4</text>
<text x="568.60" y="646.72" font-size="3.40" text-anchor="middle" fill="#777" >0</text>
<text x="606.90" y="646.72" font-size="3.40" text-anchor="middle" fill="#777" >4</text>
<text x="488.50" y="550.72" font-size="3.40" text-anchor="end" fill="#777" >1</text>
<text x="488.50" y="591.12" font-size="3.40" text-anchor="end" fill="#777" >0</text>
<text x="488.50" y="632.42" font-size="3.40" text-anchor="end" fill="#777" >-1</text>
<defs><linearGradient id="g3" x1="0" y1="0" x2="0" y2="1"><stop offset="0" stop-color="#0b7a46"/><stop offset="0.4" stop-color="#57ad84"/><stop offset="0.8" stop-color="#cfe9dc"/><stop offset="1" stop-color="#ffffff"/></linearGradient></defs>
<path d="M476.80,512.20 L486.20,512.20 L486.20,631.00 Z" fill="url(#g3)" />
<text x="0" y="3.11" font-size="8.70" text-anchor="middle" fill="#fff" transform="translate(482.30 534.50) rotate(-90)">H3K27me3</text>
<defs><linearGradient id="g4" x1="0" y1="0" x2="1" y2="0"><stop offset="0" stop-color="#ffffff"/><stop offset="0.25" stop-color="#d8f2c8"/><stop offset="0.55" stop-color="#6cc85a"/><stop offset="0.8" stop-color="#1aa24a"/><stop offset="1" stop-color="#088a44"/></linearGradient></defs>
<path d="M492.00,647.00 L643.00,647.00 L643.00,661.30 Z" fill="url(#g4)" />
<text x="638.50" y="655.48" font-size="8.60" text-anchor="end" fill="#fff" >H3K27me3</text>
<text x="0" y="2.92" font-size="8.15" text-anchor="middle" font-weight="bold" fill="#111" transform="translate(473.40 575.00) rotate(-90)">(IDH1i+IR/IR) FC</text>
<text x="555.70" y="666.57" font-size="8.30" text-anchor="middle" font-weight="bold" fill="#111" >(IR/Ctrl) FC</text>
<rect x="59.30" y="685.30" width="152.30" height="131.30" fill="#fff" />
<line x1="79.50" y1="685.30" x2="79.50" y2="816.60" stroke="#ebebeb" stroke-width="0.6" />
<line x1="98.20" y1="685.30" x2="98.20" y2="816.60" stroke="#ebebeb" stroke-width="0.6" />
<line x1="116.90" y1="685.30" x2="116.90" y2="816.60" stroke="#ebebeb" stroke-width="0.6" />
<line x1="135.60" y1="685.30" x2="135.60" y2="816.60" stroke="#ebebeb" stroke-width="0.6" />
<line x1="154.30" y1="685.30" x2="154.30" y2="816.60" stroke="#ebebeb" stroke-width="0.6" />
<line x1="173.00" y1="685.30" x2="173.00" y2="816.60" stroke="#ebebeb" stroke-width="0.6" />
<line x1="191.70" y1="685.30" x2="191.70" y2="816.60" stroke="#ebebeb" stroke-width="0.6" />
<line x1="59.30" y1="699.60" x2="211.60" y2="699.60" stroke="#ebebeb" stroke-width="0.6" />
<line x1="59.30" y1="716.40" x2="211.60" y2="716.40" stroke="#ebebeb" stroke-width="0.6" />
<line x1="59.30" y1="732.70" x2="211.60" y2="732.70" stroke="#ebebeb" stroke-width="0.6" />
<line x1="59.30" y1="749.50" x2="211.60" y2="749.50" stroke="#ebebeb" stroke-width="0.6" />
<line x1="59.30" y1="765.90" x2="211.60" y2="765.90" stroke="#ebebeb" stroke-width="0.6" />
<line x1="59.30" y1="782.70" x2="211.60" y2="782.70" stroke="#ebebeb" stroke-width="0.6" />
<line x1="59.30" y1="799.00" x2="211.60" y2="799.00" stroke="#ebebeb" stroke-width="0.6" />
<circle cx="155.17" cy="733.79" r="0.95" fill="#e21a1a" />
<circle cx="150.66" cy="735.56" r="0.95" fill="#2457e8" />
<circle cx="153.91" cy="720.64" r="0.95" fill="#2457e8" />
<circle cx="145.44" cy="725.55" r="0.95" fill="#111" />
<circle cx="148.04" cy="732.27" r="0.95" fill="#111" />
<circle cx="155.99" cy="733.50" r="0.95" fill="#111" />
<circle cx="150.29" cy="721.11" r="0.95" fill="#e21a1a" />
<circle cx="152.62" cy="720.99" r="0.95" fill="#2457e8" />
<circle cx="156.20" cy="728.16" r="0.95" fill="#2457e8" />
<circle cx="149.91" cy="719.82" r="0.95" fill="#111" />
<circle cx="158.39" cy="728.19" r="0.95" fill="#111" />
<circle cx="157.11" cy="733.47" r="0.95" fill="#2457e8" />
<circle cx="155.39" cy="733.88" r="0.95" fill="#2457e8" />
<circle cx="148.77" cy="727.39" r="0.95" fill="#111" />
<circle cx="145.33" cy="728.62" r="0.95" fill="#111" />
<circle cx="152.65" cy="722.74" r="0.95" fill="#e21a1a" />
<circle cx="152.20" cy="718.71" r="0.95" fill="#2457e8" />
<circle cx="153.99" cy="726.82" r="0.95" fill="#2457e8" />
<circle cx="145.25" cy="728.28" r="0.95" fill="#111" />
<circle cx="150.44" cy="730.05" r="0.95" fill="#2457e8" />
<circle cx="148.18" cy="730.09" r="0.95" fill="#2457e8" />
<circle cx="147.77" cy="726.95" r="0.95" fill="#2457e8" />
<circle cx="151.07" cy="728.02" r="0.95" fill="#111" />
<circle cx="155.44" cy="733.76" r="0.95" fill="#2457e8" />
<circle cx="153.99" cy="727.04" r="0.95" fill="#2457e8" />
<circle cx="151.96" cy="722.52" r="0.95" fill="#2457e8" />
<circle cx="148.90" cy="735.54" r="0.95" fill="#111" />
<circle cx="153.31" cy="730.55" r="0.95" fill="#111" />
<circle cx="154.17" cy="722.26" r="0.95" fill="#2457e8" />
<circle cx="155.36" cy="724.99" r="0.95" fill="#111" />
<circle cx="158.20" cy="730.44" r="0.95" fill="#2457e8" />
<circle cx="147.62" cy="732.56" r="0.95" fill="#e21a1a" />
<circle cx="145.96" cy="726.05" r="0.95" fill="#111" />
<circle cx="145.78" cy="732.21" r="0.95" fill="#e21a1a" />
<circle cx="146.06" cy="722.19" r="0.95" fill="#2457e8" />
<circle cx="145.88" cy="726.70" r="0.95" fill="#111" />
<circle cx="153.03" cy="729.13" r="0.95" fill="#2457e8" />
<circle cx="152.78" cy="720.47" r="0.95" fill="#111" />
<circle cx="155.61" cy="728.55" r="0.95" fill="#111" />
<circle cx="155.65" cy="728.03" r="0.95" fill="#2457e8" />
<circle cx="155.95" cy="729.33" r="0.95" fill="#111" />
<circle cx="158.44" cy="726.15" r="0.95" fill="#2457e8" />
<circle cx="154.67" cy="728.08" r="0.95" fill="#e21a1a" />
<circle cx="145.68" cy="725.70" r="0.95" fill="#111" />
<circle cx="158.80" cy="724.37" r="0.95" fill="#111" />
<circle cx="153.97" cy="718.44" r="0.95" fill="#2457e8" />
<circle cx="152.74" cy="720.46" r="0.95" fill="#2457e8" />
<circle cx="150.05" cy="733.49" r="0.95" fill="#111" />
<circle cx="156.08" cy="733.19" r="0.95" fill="#2457e8" />
<circle cx="149.10" cy="718.48" r="0.95" fill="#111" />
<circle cx="151.61" cy="732.40" r="0.95" fill="#111" />
<circle cx="155.42" cy="721.17" r="0.95" fill="#111" />
<circle cx="149.35" cy="719.48" r="0.95" fill="#111" />
<circle cx="153.54" cy="729.18" r="0.95" fill="#111" />
<circle cx="154.33" cy="734.02" r="0.95" fill="#111" />
<circle cx="147.44" cy="702.67" r="0.95" fill="#2457e8" />
<circle cx="148.53" cy="708.54" r="0.95" fill="#2457e8" />
<circle cx="153.93" cy="713.43" r="0.95" fill="#e21a1a" />
<circle cx="149.32" cy="703.58" r="0.95" fill="#2457e8" />
<circle cx="150.03" cy="711.42" r="0.95" fill="#111" />
<circle cx="158.08" cy="708.07" r="0.95" fill="#111" />
<circle cx="161.81" cy="701.11" r="0.95" fill="#2457e8" />
<circle cx="163.29" cy="706.57" r="0.95" fill="#e21a1a" />
<circle cx="149.51" cy="710.96" r="0.95" fill="#2457e8" />
<circle cx="165.28" cy="709.47" r="0.95" fill="#111" />
<circle cx="150.89" cy="703.19" r="0.95" fill="#2457e8" />
<circle cx="162.35" cy="712.24" r="0.95" fill="#2457e8" />
<circle cx="164.96" cy="702.38" r="0.95" fill="#e21a1a" />
<circle cx="147.20" cy="709.33" r="0.95" fill="#2457e8" />
<circle cx="165.34" cy="705.34" r="0.95" fill="#e21a1a" />
<circle cx="156.52" cy="708.85" r="0.95" fill="#111" />
<circle cx="158.33" cy="705.56" r="0.95" fill="#111" />
<circle cx="153.10" cy="705.45" r="0.95" fill="#2457e8" />
<circle cx="148.15" cy="702.07" r="0.95" fill="#111" />
<circle cx="158.53" cy="712.31" r="0.95" fill="#2457e8" />
<circle cx="156.10" cy="714.26" r="0.95" fill="#2457e8" />
<circle cx="155.42" cy="708.18" r="0.95" fill="#2457e8" />
<circle cx="147.41" cy="701.35" r="0.95" fill="#2457e8" />
<circle cx="146.84" cy="704.86" r="0.95" fill="#e21a1a" />
<circle cx="162.35" cy="711.13" r="0.95" fill="#2457e8" />
<circle cx="161.95" cy="706.59" r="0.95" fill="#2457e8" />
<circle cx="155.74" cy="709.85" r="0.95" fill="#111" />
<circle cx="146.75" cy="703.42" r="0.95" fill="#2457e8" />
<circle cx="160.34" cy="713.47" r="0.95" fill="#2457e8" />
<circle cx="158.54" cy="711.62" r="0.95" fill="#e21a1a" />
<circle cx="192.96" cy="725.90" r="0.95" fill="#2457e8" />
<circle cx="184.25" cy="719.45" r="0.95" fill="#2457e8" />
<circle cx="189.59" cy="730.87" r="0.95" fill="#111" />
<circle cx="171.47" cy="709.07" r="0.95" fill="#e21a1a" />
<circle cx="193.66" cy="705.17" r="0.95" fill="#2457e8" />
<circle cx="168.18" cy="712.59" r="0.95" fill="#e21a1a" />
<circle cx="194.69" cy="718.18" r="0.95" fill="#111" />
<circle cx="204.63" cy="707.83" r="0.95" fill="#e21a1a" />
<circle cx="173.23" cy="713.74" r="0.95" fill="#2457e8" />
<circle cx="175.43" cy="735.29" r="0.95" fill="#2457e8" />
<circle cx="185.59" cy="735.07" r="0.95" fill="#2457e8" />
<circle cx="200.99" cy="719.75" r="0.95" fill="#2457e8" />
<circle cx="188.92" cy="711.71" r="0.95" fill="#e21a1a" />
<circle cx="171.29" cy="715.74" r="0.95" fill="#e21a1a" />
<circle cx="182.48" cy="723.60" r="0.95" fill="#2457e8" />
<circle cx="191.78" cy="725.37" r="0.95" fill="#2457e8" />
<circle cx="168.96" cy="736.13" r="0.95" fill="#2457e8" />
<circle cx="166.38" cy="730.37" r="0.95" fill="#2457e8" />
<circle cx="165.76" cy="719.54" r="0.95" fill="#111" />
<circle cx="180.93" cy="717.44" r="0.95" fill="#e21a1a" />
<circle cx="174.61" cy="702.27" r="0.95" fill="#2457e8" />
<circle cx="168.78" cy="712.81" r="0.95" fill="#e21a1a" />
<circle cx="179.82" cy="702.10" r="0.95" fill="#2457e8" />
<circle cx="170.40" cy="729.71" r="0.95" fill="#e21a1a" />
<circle cx="186.18" cy="703.72" r="0.95" fill="#2457e8" />
<circle cx="181.69" cy="732.89" r="0.95" fill="#2457e8" />
<circle cx="174.00" cy="730.08" r="0.95" fill="#e21a1a" />
<circle cx="200.34" cy="702.62" r="0.95" fill="#111" />
<circle cx="168.22" cy="733.49" r="0.95" fill="#2457e8" />
<circle cx="171.08" cy="719.41" r="0.95" fill="#e21a1a" />
<circle cx="183.84" cy="730.00" r="0.95" fill="#2457e8" />
<circle cx="171.11" cy="707.37" r="0.95" fill="#2457e8" />
<circle cx="176.92" cy="723.95" r="0.95" fill="#111" />
<circle cx="191.73" cy="708.52" r="0.95" fill="#111" />
<circle cx="192.12" cy="708.64" r="0.95" fill="#2457e8" />
<circle cx="108.81" cy="707.35" r="0.95" fill="#2457e8" />
<circle cx="112.38" cy="724.46" r="0.95" fill="#2457e8" />
<circle cx="109.99" cy="703.07" r="0.95" fill="#111" />
<circle cx="123.27" cy="719.77" r="0.95" fill="#2457e8" />
<circle cx="104.97" cy="708.39" r="0.95" fill="#2457e8" />
<circle cx="110.59" cy="712.71" r="0.95" fill="#111" />
<circle cx="105.34" cy="703.34" r="0.95" fill="#2457e8" />
<circle cx="115.17" cy="722.89" r="0.95" fill="#2457e8" />
<circle cx="104.35" cy="725.42" r="0.95" fill="#2457e8" />
<circle cx="111.96" cy="730.52" r="0.95" fill="#2457e8" />
<circle cx="120.17" cy="731.91" r="0.95" fill="#2457e8" />
<circle cx="101.39" cy="724.47" r="0.95" fill="#2457e8" />
<circle cx="85.40" cy="705.40" r="0.95" fill="#111" />
<circle cx="94.10" cy="705.40" r="0.95" fill="#2457e8" />
<circle cx="97.80" cy="703.80" r="0.95" fill="#2457e8" />
<circle cx="66.20" cy="728.00" r="0.95" fill="#111" />
<circle cx="98.00" cy="732.30" r="0.95" fill="#2457e8" />
<circle cx="108.30" cy="736.50" r="0.95" fill="#e21a1a" />
<circle cx="149.60" cy="762.30" r="0.95" fill="#e21a1a" />
<circle cx="109.90" cy="772.50" r="0.95" fill="#111" />
<circle cx="148.40" cy="775.60" r="0.95" fill="#111" />
<circle cx="149.80" cy="774.80" r="0.95" fill="#e21a1a" />
<circle cx="122.70" cy="787.80" r="0.95" fill="#111" />
<circle cx="147.30" cy="788.50" r="0.95" fill="#111" />
<circle cx="148.70" cy="787.60" r="0.95" fill="#e21a1a" />
<circle cx="185.80" cy="790.00" r="0.95" fill="#111" />
<circle cx="203.50" cy="801.50" r="0.95" fill="#2457e8" />
<circle cx="192.60" cy="810.20" r="0.95" fill="#e21a1a" />
<circle cx="203.20" cy="810.10" r="0.95" fill="#e21a1a" />
<text x="93.50" y="704.84" font-size="4.30" text-anchor="middle" fill="#151515" stroke="#151515" stroke-width="0.14">C7orf66-OT</text>
<text x="66.20" y="728.04" font-size="4.30" text-anchor="middle" fill="#151515" stroke="#151515" stroke-width="0.14">FZR1</text>
<text x="116.40" y="703.24" font-size="4.30" text-anchor="middle" fill="#151515" stroke="#151515" stroke-width="0.14">LINC02488</text>
<text x="123.20" y="706.94" font-size="4.30" text-anchor="middle" fill="#151515" stroke="#151515" stroke-width="0.14">PARL2</text>
<text x="122.60" y="710.34" font-size="4.30" text-anchor="middle" fill="#151515" stroke="#151515" stroke-width="0.14">ANKRD6</text>
<text x="112.10" y="714.44" font-size="4.30" text-anchor="middle" fill="#151515" stroke="#151515" stroke-width="0.14">CREB5PLD1</text>
<text x="115.20" y="718.34" font-size="4.30" text-anchor="middle" fill="#151515" stroke="#151515" stroke-width="0.14">LOC105373716</text>
<text x="116.40" y="723.14" font-size="4.30" text-anchor="middle" fill="#151515" stroke="#151515" stroke-width="0.14">ARHGAP31</text>
<text x="109.60" y="727.44" font-size="4.30" text-anchor="middle" fill="#151515" stroke="#151515" stroke-width="0.14">EML4</text>
<text x="97.80" y="732.14" font-size="4.30" text-anchor="middle" fill="#151515" stroke="#151515" stroke-width="0.14">PNMA2</text>
<text x="122.60" y="731.74" font-size="4.30" text-anchor="middle" fill="#151515" stroke="#151515" stroke-width="0.14">ADAL1</text>
<text x="108.30" y="736.14" font-size="4.30" text-anchor="middle" fill="#151515" stroke="#151515" stroke-width="0.14">HPCA</text>
<text x="202.60" y="690.84" font-size="4.30" text-anchor="middle" fill="#151515" stroke="#151515" stroke-width="0.14">LINC00261</text>
<text x="152.30" y="701.44" font-size="4.30" text-anchor="middle" fill="#151515" stroke="#151515" stroke-width="0.14">MEOX2</text>
<text x="168.50" y="704.54" font-size="4.30" text-anchor="middle" fill="#151515" stroke="#151515" stroke-width="0.14">STRBP</text>
<text x="182.10" y="704.84" font-size="4.30" text-anchor="middle" fill="#151515" stroke="#151515" stroke-width="0.14">CCDC8</text>
<text x="200.70" y="705.14" font-size="4.30" text-anchor="middle" fill="#151515" stroke="#151515" stroke-width="0.14">CRLF1</text>
<text x="157.30" y="709.44" font-size="4.30" text-anchor="middle" fill="#151515" stroke="#151515" stroke-width="0.14">CCRN4L</text>
<text x="167.20" y="710.04" font-size="4.30" text-anchor="middle" fill="#151515" stroke="#151515" stroke-width="0.14">HAR</text>
<text x="166.00" y="714.44" font-size="4.30" text-anchor="middle" fill="#151515" stroke="#151515" stroke-width="0.14">ARID3A</text>
<text x="192.70" y="713.14" font-size="4.30" text-anchor="middle" fill="#151515" stroke="#151515" stroke-width="0.14">NFE2L1</text>
<text x="187.70" y="718.14" font-size="4.30" text-anchor="middle" fill="#151515" stroke="#151515" stroke-width="0.14">NDNF-AS1</text>
<text x="154.20" y="720.34" font-size="4.30" text-anchor="middle" fill="#151515" stroke="#151515" stroke-width="0.14">APOBEC1B-AS1</text>
<text x="140.50" y="724.34" font-size="4.30" text-anchor="middle" fill="#151515" stroke="#151515" stroke-width="0.14">LINC01</text>
<text x="175.90" y="724.34" font-size="4.30" text-anchor="middle" fill="#151515" stroke="#151515" stroke-width="0.14">CFAP20</text>
<text x="186.00" y="729.34" font-size="4.30" text-anchor="middle" fill="#151515" stroke="#151515" stroke-width="0.14">ADGRE1</text>
<text x="174.70" y="734.94" font-size="4.30" text-anchor="middle" fill="#151515" stroke="#151515" stroke-width="0.14">CAMSAP3</text>
<text x="197.00" y="736.74" font-size="4.30" text-anchor="middle" fill="#151515" stroke="#151515" stroke-width="0.14">SCN1B</text>
<text x="151.10" y="733.64" font-size="4.30" text-anchor="middle" fill="#151515" stroke="#151515" stroke-width="0.14">EPB41L1</text>
<text x="149.60" y="762.04" font-size="4.30" text-anchor="middle" fill="#151515" stroke="#151515" stroke-width="0.14">MTA3-DT</text>
<text x="109.90" y="772.54" font-size="4.30" text-anchor="middle" fill="#151515" stroke="#151515" stroke-width="0.14">PYDC5</text>
<text x="148.40" y="775.64" font-size="4.30" text-anchor="middle" fill="#151515" stroke="#151515" stroke-width="0.14">FAM110B</text>
<text x="122.70" y="787.74" font-size="4.30" text-anchor="middle" fill="#151515" stroke="#151515" stroke-width="0.14">LOC105377304</text>
<text x="147.30" y="788.44" font-size="4.30" text-anchor="middle" fill="#151515" stroke="#151515" stroke-width="0.14">FOXE1</text>
<text x="185.80" y="790.04" font-size="4.30" text-anchor="middle" fill="#151515" stroke="#151515" stroke-width="0.14">PLA2G3C</text>
<text x="198.70" y="801.34" font-size="4.30" text-anchor="middle" fill="#151515" stroke="#151515" stroke-width="0.14">LOC105375</text>
<text x="202.20" y="809.94" font-size="4.30" text-anchor="middle" fill="#151515" stroke="#151515" stroke-width="0.14">CASC11</text>
<rect x="135.20" y="687.70" width="75.70" height="61.80" fill="none" stroke="#3a9c98" stroke-width="1.1" rx="7" stroke-dasharray="3.4,2.4"/>
<rect x="59.30" y="685.30" width="152.30" height="131.30" fill="none" stroke="#b0b0b0" stroke-width="0.8" />
<text x="60.10" y="820.62" font-size="3.40" text-anchor="middle" fill="#777" >-8</text>
<text x="98.20" y="820.62" font-size="3.40" text-anchor="middle" fill="#777" >-4</text>
<text x="135.60" y="820.62" font-size="3.40" text-anchor="middle" fill="#777" >0</text>
<text x="173.00" y="820.62" font-size="3.40" text-anchor="middle" fill="#777" >4</text>
<text x="210.30" y="820.62" font-size="3.40" text-anchor="middle" fill="#777" >8</text>
<text x="57.50" y="717.62" font-size="3.40" text-anchor="end" fill="#777" >4</text>
<text x="57.50" y="750.72" font-size="3.40" text-anchor="end" fill="#777" >2</text>
<text x="57.50" y="783.92" font-size="3.40" text-anchor="end" fill="#777" >0</text>
<text x="57.50" y="817.22" font-size="3.40" text-anchor="end" fill="#777" >-2</text>
<defs><linearGradient id="g5" x1="0" y1="0" x2="0" y2="1"><stop offset="0" stop-color="#0e9850"/><stop offset="0.45" stop-color="#34b050"/><stop offset="0.75" stop-color="#a0d868"/><stop offset="1" stop-color="#ffffff"/></linearGradient></defs>
<path d="M47.80,684.00 L55.10,684.00 L55.10,812.00 Z" fill="url(#g5)" />
<text x="0" y="2.94" font-size="8.20" text-anchor="middle" fill="#fff" transform="translate(52.25 711.60) rotate(-90)">H3K27me3</text>
<defs><linearGradient id="g6" x1="0" y1="0" x2="1" y2="0"><stop offset="0" stop-color="#ffffff"/><stop offset="0.35" stop-color="#d6cdef"/><stop offset="0.7" stop-color="#9a80d6"/><stop offset="1" stop-color="#6a3aae"/></linearGradient></defs>
<path d="M59.70,822.00 L212.00,822.00 L212.00,833.60 Z" fill="url(#g6)" />
<text x="210.00" y="828.44" font-size="8.20" text-anchor="end" fill="#fff" >H3K4me3</text>
<text x="0" y="2.92" font-size="8.15" text-anchor="middle" font-weight="bold" fill="#111" transform="translate(43.70 752.00) rotate(-90)">(IR/Ctrl) FC</text>
<text x="157.20" y="840.84" font-size="8.20" text-anchor="middle" font-weight="bold" fill="#111" >(IR/Ctrl) FC</text>
<rect x="290.40" y="684.40" width="111.90" height="6.80" fill="#97ea96" />
<text x="292.20" y="689.86" font-size="5.75" font-weight="bold" fill="#111" >cellular response to carbohydrate stimulus</text>
<rect x="290.40" y="696.49" width="85.00" height="6.80" fill="#79d2d8" />
<text x="292.20" y="701.95" font-size="5.75" font-weight="bold" fill="#111" >negative regulation of lymphocyte differentiation</text>
<rect x="290.40" y="708.58" width="77.90" height="6.80" fill="#79d2d8" />
<text x="292.20" y="714.04" font-size="5.75" font-weight="bold" fill="#111" >embryonic heart tube morphogenesis</text>
<rect x="290.40" y="720.67" width="77.30" height="6.80" fill="#79d2d8" />
<text x="292.20" y="726.13" font-size="5.75" font-weight="bold" fill="#111" >entrainment of circadian clock</text>
<rect x="290.40" y="732.76" width="74.60" height="6.80" fill="#79d2d8" />
<text x="292.20" y="738.22" font-size="5.75" font-weight="bold" fill="#111" >Double-strand break repair</text>
<rect x="290.40" y="744.85" width="58.50" height="6.80" fill="#79d2d8" />
<text x="292.20" y="750.31" font-size="5.75" font-weight="bold" fill="#111" >DNA metabolic process</text>
<rect x="290.40" y="756.94" width="69.90" height="6.80" fill="#97ea96" />
<text x="292.20" y="762.40" font-size="5.75" font-weight="bold" fill="#111" >Hippo signaling</text>
<rect x="290.40" y="769.03" width="69.90" height="6.80" fill="#79d2d8" />
<text x="292.20" y="774.49" font-size="5.75" font-weight="bold" fill="#111" >Chromosome segration</text>
<rect x="290.40" y="781.12" width="61.20" height="6.80" fill="#79d2d8" />
<text x="292.20" y="786.58" font-size="5.75" font-weight="bold" fill="#111" >DNA replication</text>
<rect x="290.40" y="793.21" width="53.80" height="6.80" fill="#97ea96" />
<text x="292.20" y="798.67" font-size="5.75" font-weight="bold" fill="#111" >NRF2 pathway</text>
<rect x="290.40" y="805.30" width="49.10" height="6.80" fill="#97ea96" />
<text x="292.20" y="810.76" font-size="5.75" font-weight="bold" fill="#111" >Polycomb repressive complex</text>
<line x1="290.40" y1="680.00" x2="290.40" y2="817.20" stroke="#222" stroke-width="1.0" />
<line x1="289.90" y1="816.70" x2="424.10" y2="816.70" stroke="#222" stroke-width="1.0" />
<line x1="290.40" y1="816.70" x2="290.40" y2="819.50" stroke="#222" stroke-width="0.9" />
<text x="290.40" y="825.96" font-size="6.60" text-anchor="middle" fill="#111" >0</text>
<line x1="334.80" y1="816.70" x2="334.80" y2="819.50" stroke="#222" stroke-width="0.9" />
<text x="334.80" y="825.96" font-size="6.60" text-anchor="middle" fill="#111" >2</text>
<line x1="379.40" y1="816.70" x2="379.40" y2="819.50" stroke="#222" stroke-width="0.9" />
<text x="379.40" y="825.96" font-size="6.60" text-anchor="middle" fill="#111" >4</text>
<line x1="423.10" y1="816.70" x2="423.10" y2="819.50" stroke="#222" stroke-width="0.9" />
<text x="423.10" y="825.96" font-size="6.60" text-anchor="middle" fill="#111" >6</text>
<line x1="312.60" y1="816.70" x2="312.60" y2="818.50" stroke="#222" stroke-width="0.8" />
<line x1="357.10" y1="816.70" x2="357.10" y2="818.50" stroke="#222" stroke-width="0.8" />
<line x1="401.20" y1="816.70" x2="401.20" y2="818.50" stroke="#222" stroke-width="0.8" />
<text x="0" y="2.72" font-size="7.60" text-anchor="middle" fill="#111" transform="translate(271.90 748.70) rotate(-90)">Enrichment of H3K4me3/H3K27me3</text>
<text x="0" y="2.72" font-size="7.60" text-anchor="middle" fill="#111" transform="translate(280.90 748.70) rotate(-90)">dual occupied genes</text>
<text x="357.60" y="837.67" font-size="6.90" text-anchor="middle" font-weight="bold" fill="#111" >-Log10(PVal)</text>
<rect x="491.10" y="686.20" width="152.70" height="128.40" fill="#fff" />
<line x1="502.30" y1="686.20" x2="502.30" y2="814.60" stroke="#ebebeb" stroke-width="0.6" />
<line x1="520.40" y1="686.20" x2="520.40" y2="814.60" stroke="#ebebeb" stroke-width="0.6" />
<line x1="538.80" y1="686.20" x2="538.80" y2="814.60" stroke="#ebebeb" stroke-width="0.6" />
<line x1="556.90" y1="686.20" x2="556.90" y2="814.60" stroke="#ebebeb" stroke-width="0.6" />
<line x1="575.00" y1="686.20" x2="575.00" y2="814.60" stroke="#ebebeb" stroke-width="0.6" />
<line x1="593.10" y1="686.20" x2="593.10" y2="814.60" stroke="#ebebeb" stroke-width="0.6" />
<line x1="611.50" y1="686.20" x2="611.50" y2="814.60" stroke="#ebebeb" stroke-width="0.6" />
<line x1="629.40" y1="686.20" x2="629.40" y2="814.60" stroke="#ebebeb" stroke-width="0.6" />
<line x1="491.10" y1="703.60" x2="643.80" y2="703.60" stroke="#ebebeb" stroke-width="0.6" />
<line x1="491.10" y1="725.20" x2="643.80" y2="725.20" stroke="#ebebeb" stroke-width="0.6" />
<line x1="491.10" y1="746.50" x2="643.80" y2="746.50" stroke="#ebebeb" stroke-width="0.6" />
<line x1="491.10" y1="768.10" x2="643.80" y2="768.10" stroke="#ebebeb" stroke-width="0.6" />
<line x1="491.10" y1="790.00" x2="643.80" y2="790.00" stroke="#ebebeb" stroke-width="0.6" />
<circle cx="565.31" cy="747.40" r="0.70" fill="none" stroke="#9a9a9a" stroke-width="0.35" />
<circle cx="574.82" cy="774.83" r="0.70" fill="none" stroke="#9a9a9a" stroke-width="0.35" />
<circle cx="568.47" cy="747.40" r="0.70" fill="none" stroke="#9a9a9a" stroke-width="0.35" />
<circle cx="570.80" cy="778.36" r="0.70" fill="none" stroke="#9a9a9a" stroke-width="0.35" />
<circle cx="568.69" cy="777.55" r="0.70" fill="none" stroke="#9a9a9a" stroke-width="0.35" />
<circle cx="581.55" cy="748.56" r="0.70" fill="none" stroke="#9a9a9a" stroke-width="0.35" />
<circle cx="578.39" cy="763.49" r="0.70" fill="none" stroke="#9a9a9a" stroke-width="0.35" />
<circle cx="575.31" cy="789.82" r="0.70" fill="none" stroke="#9a9a9a" stroke-width="0.35" />
<circle cx="567.33" cy="742.98" r="0.70" fill="none" stroke="#9a9a9a" stroke-width="0.35" />
<circle cx="588.50" cy="761.34" r="0.70" fill="none" stroke="#9a9a9a" stroke-width="0.35" />
<circle cx="569.96" cy="757.85" r="0.70" fill="none" stroke="#9a9a9a" stroke-width="0.35" />
<circle cx="574.12" cy="787.85" r="0.70" fill="none" stroke="#9a9a9a" stroke-width="0.35" />
<circle cx="570.26" cy="752.41" r="0.70" fill="none" stroke="#9a9a9a" stroke-width="0.35" />
<circle cx="579.62" cy="768.27" r="0.70" fill="none" stroke="#9a9a9a" stroke-width="0.35" />
<circle cx="588.84" cy="782.26" r="0.70" fill="none" stroke="#9a9a9a" stroke-width="0.35" />
<circle cx="573.89" cy="751.79" r="0.70" fill="none" stroke="#9a9a9a" stroke-width="0.35" />
<circle cx="585.91" cy="789.47" r="0.70" fill="none" stroke="#9a9a9a" stroke-width="0.35" />
<circle cx="565.76" cy="777.28" r="0.70" fill="none" stroke="#9a9a9a" stroke-width="0.35" />
<circle cx="586.71" cy="773.26" r="0.70" fill="none" stroke="#9a9a9a" stroke-width="0.35" />
<circle cx="570.46" cy="780.24" r="0.70" fill="none" stroke="#9a9a9a" stroke-width="0.35" />
<circle cx="583.25" cy="751.30" r="0.70" fill="none" stroke="#9a9a9a" stroke-width="0.35" />
<circle cx="581.02" cy="752.52" r="0.70" fill="none" stroke="#9a9a9a" stroke-width="0.35" />
<circle cx="566.04" cy="758.13" r="0.70" fill="none" stroke="#9a9a9a" stroke-width="0.35" />
<circle cx="573.36" cy="761.02" r="0.70" fill="none" stroke="#9a9a9a" stroke-width="0.35" />
<circle cx="581.17" cy="782.14" r="0.70" fill="none" stroke="#9a9a9a" stroke-width="0.35" />
<circle cx="589.03" cy="788.87" r="0.70" fill="none" stroke="#9a9a9a" stroke-width="0.35" />
<circle cx="589.84" cy="779.91" r="0.70" fill="none" stroke="#9a9a9a" stroke-width="0.35" />
<circle cx="572.66" cy="750.46" r="0.70" fill="none" stroke="#9a9a9a" stroke-width="0.35" />
<circle cx="580.59" cy="768.20" r="0.70" fill="none" stroke="#9a9a9a" stroke-width="0.35" />
<circle cx="581.86" cy="746.49" r="0.70" fill="none" stroke="#9a9a9a" stroke-width="0.35" />
<ellipse cx="578" cy="752" rx="8" ry="5" fill="#8a8a8a" fill-opacity="0.25"/>
<ellipse cx="578" cy="776" rx="7" ry="6" fill="#8a8a8a" fill-opacity="0.25"/>
<text x="563.10" y="691.90" font-size="4.20" text-anchor="middle" fill="#111" stroke="#111" stroke-width="0.14">MYC</text>
<text x="516.00" y="711.30" font-size="4.20" text-anchor="middle" fill="#111" stroke="#111" stroke-width="0.14">MIR1299</text>
<text x="520.90" y="714.30" font-size="4.20" text-anchor="middle" fill="#111" stroke="#111" stroke-width="0.14">CKGCB</text>
<text x="581.70" y="715.80" font-size="4.20" text-anchor="middle" fill="#111" stroke="#111" stroke-width="0.14">SEMA6A-AS2</text>
<text x="580.50" y="726.70" font-size="4.20" text-anchor="middle" fill="#111" stroke="#111" stroke-width="0.14">HEJL2</text>
<text x="579.20" y="733.60" font-size="4.20" text-anchor="middle" fill="#111" stroke="#111" stroke-width="0.14">TMEM232</text>
<text x="516.00" y="731.90" font-size="4.20" text-anchor="middle" fill="#111" stroke="#111" stroke-width="0.14">LOC105375754</text>
<text x="511.00" y="742.80" font-size="4.20" text-anchor="middle" fill="#111" stroke="#111" stroke-width="0.14">LINC00612</text>
<text x="507.30" y="746.00" font-size="4.20" text-anchor="middle" fill="#111" stroke="#111" stroke-width="0.14">CAB41T</text>
<text x="525.90" y="746.00" font-size="4.20" text-anchor="middle" fill="#111" stroke="#111" stroke-width="0.14">PKT1</text>
<text x="508.50" y="754.70" font-size="4.20" text-anchor="middle" fill="#111" stroke="#111" stroke-width="0.14">MIR3135</text>
<text x="516.00" y="762.20" font-size="4.20" text-anchor="middle" fill="#111" stroke="#111" stroke-width="0.14">CCQ257</text>
<text x="579.20" y="746.00" font-size="4.20" text-anchor="middle" fill="#111" stroke="#111" stroke-width="0.14">CQ30</text>
<text x="566.80" y="749.80" font-size="4.20" text-anchor="middle" fill="#111" stroke="#111" stroke-width="0.14">BAHCC1</text>
<text x="581.00" y="753.00" font-size="4.20" text-anchor="middle" fill="#111" stroke="#111" stroke-width="0.14">LINC0288</text>
<text x="586.00" y="749.00" font-size="4.20" text-anchor="middle" fill="#111" stroke="#111" stroke-width="0.14">AB8</text>
<text x="581.50" y="757.00" font-size="4.20" text-anchor="middle" fill="#111" stroke="#111" stroke-width="0.14">ANKS3</text>
<text x="556.90" y="762.20" font-size="4.20" text-anchor="middle" fill="#111" stroke="#111" stroke-width="0.14">CSBP1</text>
<text x="584.20" y="762.20" font-size="4.20" text-anchor="middle" fill="#111" stroke="#111" stroke-width="0.14">ACSFL</text>
<text x="568.00" y="773.90" font-size="4.20" text-anchor="middle" fill="#111" stroke="#111" stroke-width="0.14">ANKRL1</text>
<text x="580.50" y="773.90" font-size="4.20" text-anchor="middle" fill="#111" stroke="#111" stroke-width="0.14">DLX6</text>
<text x="610.30" y="774.40" font-size="4.20" text-anchor="middle" fill="#111" stroke="#111" stroke-width="0.14">LINC02584</text>
<text x="579.20" y="778.80" font-size="4.20" text-anchor="middle" fill="#111" stroke="#111" stroke-width="0.14">MAGEMR</text>
<text x="601.60" y="779.30" font-size="4.20" text-anchor="middle" fill="#111" stroke="#111" stroke-width="0.14">ISOC2</text>
<text x="597.90" y="782.60" font-size="4.20" text-anchor="middle" fill="#111" stroke="#111" stroke-width="0.14">LINC01965</text>
<text x="574.30" y="785.80" font-size="4.20" text-anchor="middle" fill="#111" stroke="#111" stroke-width="0.14">ACCF11</text>
<text x="579.20" y="790.80" font-size="4.20" text-anchor="middle" fill="#111" stroke="#111" stroke-width="0.14">CCT6B</text>
<text x="609.00" y="789.50" font-size="4.20" text-anchor="middle" fill="#111" stroke="#111" stroke-width="0.14">SPRY4-AS1</text>
<text x="637.60" y="789.50" font-size="4.20" text-anchor="middle" fill="#111" stroke="#111" stroke-width="0.14">FZR1</text>
<text x="615.20" y="795.70" font-size="4.20" text-anchor="middle" fill="#111" stroke="#111" stroke-width="0.14">MIR3065</text>
<text x="579.20" y="801.90" font-size="4.20" text-anchor="middle" fill="#111" stroke="#111" stroke-width="0.14">FIH</text>
<text x="579.20" y="807.40" font-size="4.20" text-anchor="middle" fill="#111" stroke="#111" stroke-width="0.14">C17orf75</text>
<text x="609.00" y="809.10" font-size="4.20" text-anchor="middle" fill="#111" stroke="#111" stroke-width="0.14">SPEH4</text>
<circle cx="563.10" cy="692.60" r="1.50" fill="#e01818" />
<rect x="566.30" y="768.50" width="77.00" height="43.90" fill="none" stroke="#3a9c98" stroke-width="1.1" rx="9" stroke-dasharray="3.4,2.4"/>
<rect x="491.10" y="686.20" width="152.70" height="128.40" fill="none" stroke="#b0b0b0" stroke-width="0.8" />
<text x="502.30" y="819.52" font-size="3.40" text-anchor="middle" fill="#777" >-10</text>
<text x="538.80" y="819.52" font-size="3.40" text-anchor="middle" fill="#777" >-5</text>
<text x="575.00" y="819.52" font-size="3.40" text-anchor="middle" fill="#777" >0</text>
<text x="611.50" y="819.52" font-size="3.40" text-anchor="middle" fill="#777" >5</text>
<text x="489.20" y="726.42" font-size="3.40" text-anchor="end" fill="#777" >5</text>
<text x="489.20" y="769.32" font-size="3.40" text-anchor="end" fill="#777" >0</text>
<text x="489.20" y="812.22" font-size="3.40" text-anchor="end" fill="#777" >-5</text>
<defs><linearGradient id="g7" x1="0" y1="0" x2="0" y2="1"><stop offset="0" stop-color="#0a804a"/><stop offset="0.25" stop-color="#3a9c70"/><stop offset="0.5" stop-color="#a8d8c0"/><stop offset="0.75" stop-color="#f4faf7"/><stop offset="1" stop-color="#ffffff"/></linearGradient></defs>
<path d="M478.80,686.00 L488.20,686.00 L488.20,852.00 Z" fill="url(#g7)" />
<text x="0" y="2.94" font-size="8.20" text-anchor="middle" fill="#fff" transform="translate(484.30 710.00) rotate(-90)">H3K27me3</text>
<defs><linearGradient id="g8" x1="0" y1="0" x2="1" y2="0"><stop offset="0" stop-color="#ffffff"/><stop offset="0.35" stop-color="#cfc6ef"/><stop offset="0.7" stop-color="#6a46c8"/><stop offset="1" stop-color="#36109a"/></linearGradient></defs>
<path d="M492.40,820.80 L645.00,820.80 L645.00,832.70 Z" fill="url(#g8)" />
<text x="637.60" y="828.94" font-size="8.20" text-anchor="end" fill="#fff" >H3K4me3</text>
<text x="0" y="2.92" font-size="8.15" text-anchor="middle" font-weight="bold" fill="#111" transform="translate(475.20 752.00) rotate(-90)">(IDH1i+IR/IR) FC</text>
<text x="573.50" y="840.54" font-size="8.20" text-anchor="middle" font-weight="bold" fill="#111" >(IDH1i+IR/IR) FC</text>
<rect x="41.20" y="896.80" width="46.90" height="161.50" fill="#f9f9f9" />
<rect x="93.30" y="884.80" width="80.90" height="5.60" fill="#f3f3f3" />
<rect x="93.30" y="896.80" width="80.90" height="161.50" fill="#f9f9f9" />
<rect x="179.20" y="896.80" width="57.80" height="161.50" fill="#f9f9f9" />
<rect x="241.70" y="884.80" width="91.20" height="5.60" fill="#f3f3f3" />
<rect x="241.70" y="896.80" width="91.20" height="161.50" fill="#f9f9f9" />
<rect x="337.90" y="884.80" width="59.90" height="5.60" fill="#f3f3f3" />
<rect x="337.90" y="896.80" width="59.90" height="161.50" fill="#f9f9f9" />
<rect x="401.70" y="884.80" width="57.80" height="5.60" fill="#f3f3f3" />
<rect x="401.70" y="896.80" width="57.80" height="161.50" fill="#f9f9f9" />
<rect x="465.00" y="884.80" width="88.00" height="5.60" fill="#f3f3f3" />
<rect x="465.00" y="896.80" width="88.00" height="161.50" fill="#f9f9f9" />
<rect x="557.40" y="884.80" width="24.60" height="5.60" fill="#f3f3f3" />
<rect x="557.40" y="896.80" width="24.60" height="161.50" fill="#f9f9f9" />
<text x="62.30" y="877.97" font-size="9.40" text-anchor="middle" fill="#111" >NFE2L1</text>
<text x="134.00" y="877.97" font-size="9.40" text-anchor="middle" fill="#111" >SOX11</text>
<text x="203.50" y="877.97" font-size="9.40" text-anchor="middle" fill="#111" >VIM</text>
<text x="283.50" y="877.97" font-size="9.40" text-anchor="middle" fill="#111" >ID4</text>
<text x="365.50" y="877.97" font-size="9.40" text-anchor="middle" fill="#111" >BCORL1</text>
<text x="433.50" y="877.97" font-size="9.40" text-anchor="middle" fill="#111" >OTX2</text>
<text x="506.00" y="877.97" font-size="9.40" text-anchor="middle" fill="#111" >RAX2</text>
<text x="571.40" y="877.97" font-size="9.40" text-anchor="middle" fill="#111" >POU3F1</text>
<rect x="41.30" y="886.30" width="7.70" height="2.60" fill="#1414b4" />
<line x1="54.90" y1="887.60" x2="88.20" y2="887.60" stroke="#1414b4" stroke-width="0.6" />
<rect x="54.20" y="886.30" width="2.00" height="2.60" fill="#1414b4" />
<rect x="62.30" y="886.30" width="2.00" height="2.60" fill="#1414b4" />
<rect x="69.50" y="886.80" width="1.00" height="1.60" fill="#1414b4" />
<rect x="76.50" y="886.80" width="1.00" height="1.60" fill="#1414b4" />
<rect x="82.50" y="886.80" width="1.00" height="1.60" fill="#1414b4" />
<line x1="54.90" y1="886.50" x2="54.90" y2="880.20" stroke="#222" stroke-width="0.7" />
<line x1="54.90" y1="880.20" x2="62.40" y2="880.20" stroke="#222" stroke-width="0.7" />
<path d="M60.40,878.80 L62.70,880.20 L60.40,881.60 Z" fill="#222" />
<rect x="105.60" y="885.60" width="20.60" height="4.00" fill="#1414b4" />
<rect x="126.20" y="886.30" width="48.00" height="2.60" fill="#1414b4" />
<line x1="106.30" y1="886.50" x2="106.30" y2="880.20" stroke="#222" stroke-width="0.7" />
<line x1="106.30" y1="880.20" x2="113.80" y2="880.20" stroke="#222" stroke-width="0.7" />
<path d="M111.80,878.80 L114.10,880.20 L111.80,881.60 Z" fill="#222" />
<line x1="179.50" y1="887.60" x2="235.80" y2="887.60" stroke="#1414b4" stroke-width="0.6" />
<rect x="179.40" y="886.70" width="1.20" height="1.80" fill="#1414b4" />
<rect x="194.30" y="886.70" width="1.20" height="1.80" fill="#1414b4" />
<rect x="211.40" y="886.70" width="1.20" height="1.80" fill="#1414b4" />
<rect x="219.40" y="886.70" width="1.20" height="1.80" fill="#1414b4" />
<rect x="226.40" y="886.70" width="1.20" height="1.80" fill="#1414b4" />
<rect x="202.80" y="886.10" width="4.00" height="3.00" fill="#1414b4" />
<rect x="233.50" y="886.30" width="2.30" height="2.60" fill="#1414b4" />
<line x1="203.50" y1="886.50" x2="203.50" y2="880.20" stroke="#222" stroke-width="0.7" />
<line x1="203.50" y1="880.20" x2="211.00" y2="880.20" stroke="#222" stroke-width="0.7" />
<path d="M209.00,878.80 L211.30,880.20 L209.00,881.60 Z" fill="#222" />
<rect x="278.00" y="886.30" width="6.20" height="2.60" fill="#1414b4" />
<line x1="284.20" y1="887.60" x2="290.40" y2="887.60" stroke="#1414b4" stroke-width="0.6" />
<rect x="290.40" y="886.60" width="19.90" height="2.00" fill="#1414b4" />
<line x1="277.30" y1="886.50" x2="277.30" y2="880.20" stroke="#222" stroke-width="0.7" />
<line x1="277.30" y1="880.20" x2="284.80" y2="880.20" stroke="#222" stroke-width="0.7" />
<path d="M282.80,878.80 L285.10,880.20 L282.80,881.60 Z" fill="#222" />
<line x1="359.80" y1="887.60" x2="397.00" y2="887.60" stroke="#1414b4" stroke-width="0.6" />
<rect x="360.30" y="886.60" width="1.40" height="2.00" fill="#1414b4" />
<rect x="363.80" y="886.60" width="1.40" height="2.00" fill="#1414b4" />
<rect x="369.30" y="886.60" width="1.40" height="2.00" fill="#1414b4" />
<rect x="375.30" y="886.60" width="1.40" height="2.00" fill="#1414b4" />
<rect x="381.30" y="886.60" width="1.40" height="2.00" fill="#1414b4" />
<rect x="387.30" y="886.60" width="1.40" height="2.00" fill="#1414b4" />
<rect x="393.30" y="886.60" width="1.40" height="2.00" fill="#1414b4" />
<line x1="360.30" y1="886.50" x2="360.30" y2="880.20" stroke="#222" stroke-width="0.7" />
<line x1="360.30" y1="880.20" x2="367.80" y2="880.20" stroke="#222" stroke-width="0.7" />
<path d="M365.80,878.80 L368.10,880.20 L365.80,881.60 Z" fill="#222" />
<line x1="404.50" y1="887.60" x2="451.70" y2="887.60" stroke="#1414b4" stroke-width="0.6" />
<rect x="404.50" y="886.50" width="2.50" height="2.20" fill="#1414b4" />
<rect x="449.50" y="886.50" width="2.20" height="2.20" fill="#1414b4" />
<line x1="451.70" y1="886.50" x2="451.70" y2="880.20" stroke="#222" stroke-width="0.7" />
<line x1="451.70" y1="880.20" x2="444.20" y2="880.20" stroke="#222" stroke-width="0.7" />
<path d="M446.20,878.80 L443.90,880.20 L446.20,881.60 Z" fill="#222" />
<rect x="490.20" y="886.80" width="26.00" height="1.60" fill="#1414b4" />
<rect x="516.20" y="886.30" width="4.60" height="2.60" fill="#1414b4" />
<line x1="520.80" y1="887.60" x2="530.50" y2="887.60" stroke="#1414b4" stroke-width="0.6" />
<rect x="530.50" y="886.30" width="4.50" height="2.60" fill="#1414b4" />
<rect x="535.00" y="886.80" width="4.00" height="1.60" fill="#1414b4" />
<line x1="539.00" y1="887.60" x2="541.70" y2="887.60" stroke="#1414b4" stroke-width="0.6" />
<line x1="541.70" y1="886.50" x2="541.70" y2="880.20" stroke="#222" stroke-width="0.7" />
<line x1="541.70" y1="880.20" x2="534.20" y2="880.20" stroke="#222" stroke-width="0.7" />
<path d="M536.20,878.80 L533.90,880.20 L536.20,881.60 Z" fill="#222" />
<line x1="564.20" y1="887.60" x2="581.60" y2="887.60" stroke="#1414b4" stroke-width="0.6" stroke-dasharray="1.2,1"/>
<rect x="564.20" y="886.80" width="6.00" height="1.60" fill="#1414b4" />
<rect x="570.40" y="886.30" width="4.00" height="2.60" fill="#1414b4" />
<line x1="564.20" y1="886.50" x2="564.20" y2="880.20" stroke="#222" stroke-width="0.7" />
<line x1="564.20" y1="880.20" x2="571.70" y2="880.20" stroke="#222" stroke-width="0.7" />
<path d="M569.70,878.80 L572.00,880.20 L569.70,881.60 Z" fill="#222" />
<path transform="translate(41.2,906.6) scale(0.7565,1)" d="M0,0L0,-0.3L7,-0.3L8,-0.4L9,-0.5L10,-0.5L11,-0.6L12,-0.8L13,-0.9L14,-1L15,-1.1L16,-0.8L19,-0.8L20,-1.3L21,-1.2L22,-0.9L23,-0.9L24,-1L25,-0.9L26,-0.5L27,-0.4L28,-0.5L29,-0.4L33,-0.4L34,-0.6L35,-0.6L36,-0.5L37,-0.5L38,-0.3L62,-0.3L62,0Z" fill="#6e0838"/>
<line x1="41.20" y1="906.30" x2="88.10" y2="906.30" stroke="#6e0838" stroke-width="0.9" stroke-opacity="0.28"/>
<path transform="translate(41.2,917.3) scale(0.7565,1)" d="M0,0L0,-0.3L9,-0.3L10,-0.6L11,-1.3L12,-3.5L13,-5.5L14,-5.1L15,-6.3L16,-8.7L17,-8.3L18,-6.3L19,-4.6L20,-3L21,-3.1L22,-3L23,-2.6L24,-1.7L25,-1.2L26,-1.1L27,-0.6L28,-0.3L30,-0.3L31,-0.4L32,-0.5L33,-0.6L34,-0.8L35,-0.7L36,-0.6L37,-0.4L38,-0.3L62,-0.3L62,0Z" fill="#9e0838"/>
<line x1="41.20" y1="917.03" x2="88.10" y2="917.03" stroke="#9e0838" stroke-width="0.9" stroke-opacity="0.28"/>
<path transform="translate(41.2,928.1) scale(0.7565,1)" d="M0,0L0,-0.3L10,-0.3L11,-0.7L12,-2.3L13,-4L14,-5.5L15,-7.3L16,-9.4L17,-9.5L18,-9.4L19,-7.5L20,-3.5L21,-2.6L22,-2.9L23,-2.6L24,-2.7L25,-2L26,-1.1L27,-0.6L28,-0.4L29,-0.6L30,-0.7L31,-0.8L32,-1L33,-0.8L34,-0.5L35,-0.3L62,-0.3L62,0Z" fill="#d00a0a"/>
<line x1="41.20" y1="927.76" x2="88.10" y2="927.76" stroke="#d00a0a" stroke-width="0.9" stroke-opacity="0.28"/>
<path transform="translate(41.2,938.8) scale(0.7565,1)" d="M0,0L0,-0.3L9,-0.3L10,-0.5L11,-0.9L12,-2L13,-2.9L14,-3.3L15,-3.9L16,-5.5L17,-5.3L18,-3.2L19,-2.5L20,-2.6L21,-2.5L22,-2L23,-1.9L24,-1.9L25,-1.3L26,-0.9L27,-0.5L28,-0.3L30,-0.3L31,-0.4L32,-0.6L33,-0.7L34,-0.5L35,-0.5L36,-0.7L37,-0.4L38,-0.3L62,-0.3L62,0Z" fill="#dc4410"/>
<line x1="41.20" y1="938.49" x2="88.10" y2="938.49" stroke="#dc4410" stroke-width="0.9" stroke-opacity="0.28"/>
<path transform="translate(41.2,949.5) scale(0.7565,1)" d="M0,0L0,-1.6L1,-1.7L2,-1.6L3,-1.6L4,-2.1L5,-2L6,-1.4L7,-1.3L8,-1.7L9,-2L10,-2L11,-2.3L12,-2.7L13,-2.9L14,-4.2L15,-4.5L16,-3L17,-3.1L18,-4.1L19,-4.2L20,-3.8L21,-3.8L22,-4.1L23,-4.1L24,-5.6L25,-5.4L26,-3.7L27,-3.5L28,-3.9L29,-3.6L30,-3L31,-2.8L32,-3L33,-2.7L34,-2L35,-1.8L36,-1.3L37,-1.1L38,-1.1L39,-0.9L40,-0.9L41,-0.8L42,-1L43,-1L44,-0.8L45,-0.7L46,-0.5L47,-0.4L48,-0.5L49,-0.4L50,-0.3L62,-0.3L62,0Z" fill="#c8700e"/>
<line x1="41.20" y1="949.22" x2="88.10" y2="949.22" stroke="#c8700e" stroke-width="0.9" stroke-opacity="0.28"/>
<path transform="translate(41.2,960.2) scale(0.7565,1)" d="M0,0L0,-1.2L1,-1.4L2,-2.3L3,-2.7L4,-2.9L5,-3.1L6,-3.2L7,-3.3L8,-3.1L9,-3L10,-3L11,-3.5L12,-2.4L13,-2.8L14,-4.8L15,-5.4L16,-4.8L17,-5.3L18,-7.5L19,-7.9L20,-7.1L21,-7.3L22,-7.9L23,-7.9L24,-7.7L25,-7.4L26,-7.2L27,-6.7L28,-7.1L29,-6.4L30,-6.2L31,-5.4L32,-3.4L33,-2.9L34,-3.1L35,-2.6L36,-2.2L37,-1.8L38,-1.1L39,-1L40,-0.8L41,-0.7L42,-0.8L43,-0.7L44,-0.7L45,-0.6L46,-0.4L47,-0.3L62,-0.3L62,0Z" fill="#ff5e08"/>
<line x1="41.20" y1="959.95" x2="88.10" y2="959.95" stroke="#ff5e08" stroke-width="0.9" stroke-opacity="0.28"/>
<path transform="translate(41.2,971.0) scale(0.7565,1)" d="M0,0L0,-1.2L1,-1.4L2,-2.3L3,-2.5L4,-1.9L5,-2L6,-2.6L7,-2.6L8,-3L9,-2.9L10,-3L11,-2.8L12,-2.4L13,-2.9L14,-3.4L15,-3.9L16,-3.2L17,-3.5L18,-5L19,-5.4L20,-5.5L21,-5.7L22,-7.5L23,-7.5L24,-6.4L25,-6.3L26,-6.7L27,-6.3L28,-5L29,-4.6L30,-3.5L31,-3.1L32,-4L33,-3.5L34,-2.9L35,-2.4L36,-1.6L37,-1.3L38,-0.9L39,-0.8L40,-1.1L41,-1L42,-0.9L43,-0.8L44,-0.8L45,-0.7L46,-0.5L47,-0.4L48,-0.3L62,-0.3L62,0Z" fill="#ff9800"/>
<line x1="41.20" y1="970.68" x2="88.10" y2="970.68" stroke="#ff9800" stroke-width="0.9" stroke-opacity="0.28"/>
<path transform="translate(41.2,981.7) scale(0.7565,1)" d="M0,0L0,-1.9L1,-2.2L2,-2.2L3,-2.4L4,-3.2L5,-3.3L6,-2.7L7,-2.7L8,-3L9,-3.3L10,-4.7L11,-5.1L12,-3.3L13,-3.5L14,-4.4L15,-4.5L16,-5.7L17,-5.9L18,-4.1L19,-4.1L20,-4.3L21,-4.2L22,-6L23,-5.8L24,-5.9L25,-5.6L26,-3.7L27,-3.4L28,-2.8L29,-2.6L30,-3.5L31,-3.1L32,-2L33,-1.7L34,-1.7L35,-1.5L36,-1.4L39,-1.4L40,-1.6L41,-1.5L42,-1.5L43,-1.4L44,-1.1L45,-1.1L46,-1L47,-0.9L48,-0.8L49,-0.7L50,-0.6L51,-0.5L52,-0.4L57,-0.4L58,-0.5L59,-0.5L60,-0.4L61,-0.4L62,-0.3L62,0Z" fill="#04045e"/>
<line x1="41.20" y1="981.41" x2="88.10" y2="981.41" stroke="#04045e" stroke-width="0.9" stroke-opacity="0.28"/>
<path transform="translate(41.2,992.4) scale(0.7565,1)" d="M0,0L0,-1.2L1,-1.5L2,-2.6L3,-3.1L4,-2.4L5,-2.6L6,-3.6L7,-3.6L8,-4.4L9,-5.2L10,-4.1L11,-4.7L12,-7.5L13,-8.2L14,-7.4L15,-7.8L16,-9.1L17,-9.3L18,-5.6L19,-5.5L20,-8.1L21,-7.7L22,-6.4L23,-5.8L24,-5.4L25,-4.8L26,-3.6L27,-3.3L28,-4.6L29,-4.5L30,-3.8L31,-3.6L32,-3.5L33,-3.2L34,-2.8L35,-2.5L36,-2L37,-1.7L38,-1.7L39,-1.4L40,-1L41,-0.8L42,-0.6L43,-0.5L44,-0.4L45,-0.4L46,-0.5L47,-0.5L48,-0.4L49,-0.4L50,-0.6L51,-0.6L52,-0.5L53,-0.5L54,-0.6L55,-0.5L56,-0.4L57,-0.4L58,-0.3L62,-0.3L62,0Z" fill="#0b2c98"/>
<line x1="41.20" y1="992.14" x2="88.10" y2="992.14" stroke="#0b2c98" stroke-width="0.9" stroke-opacity="0.28"/>
<path transform="translate(41.2,1003.2) scale(0.7565,1)" d="M0,0L0,-2.2L1,-2.5L2,-3L3,-3.4L4,-3.3L5,-3.6L6,-5L7,-5.4L8,-3.4L9,-3.6L10,-6.6L11,-6.9L12,-6.2L13,-6.4L14,-6.8L17,-6.8L18,-4.8L19,-4.6L20,-6.4L21,-6.1L22,-5.4L23,-5.1L24,-3.5L25,-3.3L26,-4.5L27,-4.1L28,-3L29,-2.7L30,-2.8L31,-2.5L32,-1.7L33,-1.7L34,-2.5L35,-2.5L36,-1.6L37,-1.5L38,-1.6L39,-1.5L40,-1.4L41,-1.3L42,-1.2L43,-1.1L44,-1.3L45,-1.2L46,-0.8L47,-0.7L48,-0.6L49,-0.5L50,-0.6L51,-0.5L52,-0.6L53,-0.7L54,-0.6L55,-0.6L56,-0.5L57,-0.5L58,-0.7L59,-0.6L60,-0.5L61,-0.5L62,-0.4L62,0Z" fill="#1a62d4"/>
<line x1="41.20" y1="1002.87" x2="88.10" y2="1002.87" stroke="#1a62d4" stroke-width="0.9" stroke-opacity="0.28"/>
<path transform="translate(41.2,1013.9) scale(0.7565,1)" d="M0,0L0,-1.3L1,-1.5L2,-2.1L3,-2.4L4,-1.8L5,-2L6,-4L7,-4.4L8,-4.4L9,-4.7L10,-5.4L11,-5.7L12,-4L13,-4.2L14,-4.1L15,-4.1L16,-3.7L17,-3.7L18,-4L19,-3.9L20,-3.3L21,-3.1L22,-4.4L23,-4.1L24,-3.2L25,-2.9L26,-3.3L27,-3L28,-2.6L29,-2.2L30,-1.6L31,-1.6L32,-1.4L33,-1.5L34,-1.6L35,-1.6L36,-1.3L37,-1.3L38,-1.8L39,-1.7L40,-1.2L41,-1.1L42,-1L43,-0.9L44,-1.2L45,-1.1L46,-0.8L47,-0.7L48,-0.7L49,-0.6L50,-0.5L51,-0.4L58,-0.4L59,-0.3L60,-0.4L61,-0.4L62,-0.3L62,0Z" fill="#229ef6"/>
<line x1="41.20" y1="1013.60" x2="88.10" y2="1013.60" stroke="#229ef6" stroke-width="0.9" stroke-opacity="0.28"/>
<path transform="translate(41.2,1024.6) scale(0.7565,1)" d="M0,0L0,-0.3L12,-0.3L13,-1.7L14,-1.8L15,-1.8L16,-2.4L17,-2.4L18,-2.6L19,-2.6L20,-1.9L21,-1.9L22,-2.5L23,-2.5L24,-0.3L29,-0.3L30,-3.1L31,-3.1L32,-2.9L33,-2.9L34,-3.4L35,-3.4L36,-4.6L37,-4.6L38,-3.4L39,-0.3L62,-0.3L62,0Z" fill="#0a5c55"/>
<line x1="41.20" y1="1024.33" x2="88.10" y2="1024.33" stroke="#0a5c55" stroke-width="0.9" stroke-opacity="0.28"/>
<path transform="translate(41.2,1035.4) scale(0.7565,1)" d="M0,0L0,-0.3L6,-0.3L7,-0.4L8,-0.5L9,-0.9L10,-1.6L11,-2.3L12,-3.7L13,-4.5L14,-5.6L15,-6L16,-5.1L17,-4.8L18,-4.4L19,-3.5L20,-2.5L21,-3.1L22,-4.4L23,-4.9L24,-3.7L25,-3.8L26,-4.8L27,-4.4L28,-3.6L29,-3L30,-2.2L31,-1.6L32,-1.1L33,-0.7L34,-0.3L36,-0.3L37,-1.4L38,-1.3L39,-1.3L40,-1.4L41,-0.3L47,-0.3L48,-1.5L49,-1.5L50,-1.1L51,-1.1L52,-0.3L62,-0.3L62,0Z" fill="#0a6230"/>
<line x1="41.20" y1="1035.06" x2="88.10" y2="1035.06" stroke="#0a6230" stroke-width="0.9" stroke-opacity="0.28"/>
<path transform="translate(41.2,1046.1) scale(0.7565,1)" d="M0,0L0,-0.3L5,-0.3L6,-0.4L7,-0.7L8,-1.2L9,-1.7L10,-2.5L11,-3.1L12,-7L13,-6L14,-3.7L15,-3.5L16,-2.7L17,-2.2L18,-1.6L19,-1.1L20,-0.9L21,-0.5L22,-0.6L23,-1L24,-1.3L25,-1.8L26,-2.4L27,-2.8L28,-2L29,-1.9L30,-2.6L31,-2L32,-1.2L33,-0.8L34,-0.4L35,-0.3L62,-0.3L62,0Z" fill="#149158"/>
<line x1="41.20" y1="1045.79" x2="88.10" y2="1045.79" stroke="#149158" stroke-width="0.9" stroke-opacity="0.28"/>
<path transform="translate(41.2,1056.8) scale(0.7565,1)" d="M0,0L0,-0.3L7,-0.3L8,-0.4L9,-0.7L10,-1L11,-1.8L12,-2.9L13,-3.9L14,-5.7L15,-6.4L16,-5.9L17,-5.3L18,-5.3L19,-3.9L20,-2.7L21,-2.5L22,-2L23,-1.5L24,-1.2L25,-0.7L26,-0.3L36,-0.3L37,-0.6L38,-1.3L39,-1.7L40,-2.1L41,-2.1L42,-1.3L43,-0.9L44,-0.7L45,-0.4L46,-0.3L55,-0.3L56,-0.4L57,-0.5L58,-0.5L59,-0.3L62,-0.3L62,0Z" fill="#18a048"/>
<line x1="41.20" y1="1056.52" x2="88.10" y2="1056.52" stroke="#18a048" stroke-width="0.9" stroke-opacity="0.28"/>
<path transform="translate(93.3,906.6) scale(0.7561,1)" d="M0,0L0,-0.3L2,-0.3L3,-0.4L4,-0.5L5,-0.7L6,-1.1L7,-1.3L8,-1.2L9,-1.3L10,-1.5L11,-1.5L12,-1L13,-1L14,-1.1L15,-1L16,-1L17,-0.8L18,-0.5L19,-0.4L20,-0.7L21,-0.7L22,-0.6L23,-0.6L24,-0.4L25,-0.4L26,-0.3L27,-0.3L28,-0.4L29,-0.4L30,-0.3L33,-0.3L34,-0.5L35,-0.5L36,-0.3L37,-0.3L38,-0.6L39,-0.6L40,-0.5L41,-0.5L42,-0.3L43,-0.3L44,-0.4L45,-0.4L46,-0.3L55,-0.3L56,-0.4L57,-0.4L58,-0.3L59,-0.3L60,-0.5L61,-0.5L62,-0.4L63,-0.4L64,-0.3L65,-0.3L66,-0.7L67,-0.7L68,-0.4L71,-0.4L72,-0.3L77,-0.3L78,-0.4L79,-0.4L80,-0.3L81,-0.3L82,-0.4L83,-0.4L84,-0.5L85,-0.5L86,-0.3L87,-0.3L88,-0.4L89,-0.4L90,-0.5L91,-0.5L92,-0.4L95,-0.4L96,-0.3L97,-0.3L98,-0.6L99,-0.6L100,-0.3L101,-0.3L102,-0.6L103,-0.6L104,-0.3L107,-0.3L107,0Z" fill="#6e0838"/>
<line x1="93.30" y1="906.30" x2="174.20" y2="906.30" stroke="#6e0838" stroke-width="0.9" stroke-opacity="0.28"/>
<path transform="translate(93.3,917.3) scale(0.7561,1)" d="M0,0L0,-0.6L1,-0.9L2,-1.5L3,-1.9L4,-2L5,-2.2L6,-2.5L7,-2.2L8,-2L9,-1.5L10,-1L11,-6.5L12,-6.6L13,-6.6L14,-7L15,-7L16,-6.3L17,-3.8L18,-0.5L19,-0.5L20,-0.3L21,-0.3L22,-0.6L23,-0.6L24,-0.3L25,-0.3L26,-0.4L29,-0.4L30,-0.3L32,-0.3L33,-0.4L34,-0.6L35,-0.8L36,-0.8L37,-0.9L38,-0.8L39,-0.7L40,-0.7L41,-0.6L42,-0.3L43,-0.3L44,-0.4L45,-0.4L46,-0.3L51,-0.3L52,-0.4L53,-0.4L54,-0.3L55,-0.3L56,-0.5L57,-0.5L58,-0.4L59,-0.4L60,-0.3L67,-0.3L68,-0.4L69,-0.4L70,-0.5L71,-0.5L72,-0.4L73,-0.4L74,-0.3L77,-0.3L78,-1.2L79,-1.2L80,-2.6L81,-2.6L82,-1.7L83,-1.7L84,-1.2L85,-1.2L86,-2L87,-2L88,-1.2L89,-1.2L90,-0.9L91,-0.9L92,-1.9L93,-1.9L94,-2.3L95,-2.3L96,-1.5L97,-1.5L98,-1.6L99,-0.4L100,-0.3L101,-0.3L102,-0.4L103,-0.4L104,-0.3L107,-0.3L107,0Z" fill="#9e0838"/>
<line x1="93.30" y1="917.03" x2="174.20" y2="917.03" stroke="#9e0838" stroke-width="0.9" stroke-opacity="0.28"/>
<path transform="translate(93.3,928.1) scale(0.7561,1)" d="M0,0L0,-0.8L1,-1.3L2,-1.5L3,-1.9L4,-2.6L5,-2.8L6,-3.2L7,-2.8L8,-1.7L9,-2.6L10,-4.3L11,-5.4L12,-6.4L13,-6.6L14,-7.4L15,-6.3L16,-2.9L17,-2L18,-1.3L19,-0.8L20,-0.5L21,-0.3L22,-0.5L23,-0.5L24,-0.3L25,-0.3L26,-0.4L29,-0.4L30,-0.3L31,-0.3L32,-0.4L33,-0.4L34,-0.5L35,-0.5L36,-0.3L37,-0.3L38,-0.4L39,-0.4L40,-0.5L41,-0.5L42,-0.4L45,-0.4L46,-0.3L47,-0.3L48,-0.5L49,-0.5L50,-0.3L61,-0.3L62,-0.4L63,-0.4L64,-0.3L67,-0.3L68,-0.4L69,-0.4L70,-0.5L71,-0.5L72,-0.4L73,-0.4L74,-0.5L75,-0.5L76,-0.3L77,-0.3L78,-1L79,-1L80,-1.1L83,-1.1L84,-1.8L85,-1.8L86,-1.4L87,-1.4L88,-2.3L89,-2.3L90,-1L91,-1L92,-1.9L93,-1.9L94,-1.7L95,-1.7L96,-1.9L97,-1.9L98,-1.2L99,-0.3L101,-0.3L102,-0.6L103,-0.6L104,-0.5L105,-0.5L106,-0.3L107,-0.3L107,0Z" fill="#d00a0a"/>
<line x1="93.30" y1="927.76" x2="174.20" y2="927.76" stroke="#d00a0a" stroke-width="0.9" stroke-opacity="0.28"/>
<path transform="translate(93.3,938.8) scale(0.7561,1)" d="M0,0L0,-0.3L1,-0.4L2,-0.7L3,-1.1L4,-1.3L5,-1.8L6,-2.8L7,-3.5L8,-4.6L9,-5.2L10,-4.5L11,-4.5L12,-4.9L13,-4.4L14,-3.8L15,-3.1L16,-2.5L17,-1.8L18,-0.8L19,-0.5L20,-0.3L74,-0.3L75,-0.8L77,-0.8L78,-0.7L79,-0.7L80,-0.8L83,-0.8L84,-1L85,-1L86,-0.3L88,-0.3L89,-0.6L90,-1.2L91,-1.6L92,-2L93,-2.4L95,-2.4L96,-2L97,-1.6L98,-1.2L99,-0.8L100,-0.4L101,-0.3L107,-0.3L107,0Z" fill="#dc4410"/>
<line x1="93.30" y1="938.49" x2="174.20" y2="938.49" stroke="#dc4410" stroke-width="0.9" stroke-opacity="0.28"/>
<path transform="translate(93.3,949.5) scale(0.7561,1)" d="M0,0L0,-0.3L12,-0.3L13,-0.6L14,-1L15,-1.6L16,-2.4L17,-3.3L18,-3.9L19,-4.8L20,-4.3L21,-4.8L22,-6L23,-6.4L24,-6.1L25,-6.3L26,-8.8L27,-8.8L28,-5.5L29,-5.5L30,-8.9L31,-8.9L32,-6.2L33,-6.2L34,-6.8L35,-6.8L36,-8.1L37,-7.9L38,-7.9L39,-7.6L40,-6.5L41,-6L42,-5.4L43,-4.6L44,-3.8L45,-3L46,-2.2L47,-1.5L48,-0.7L49,-0.4L50,-0.3L70,-0.3L71,-0.5L72,-1.4L73,-2.1L74,-2L75,-2.4L76,-3.6L77,-3.9L78,-2.9L79,-3L80,-3.4L81,-3.4L82,-3.8L83,-3.8L84,-3.5L85,-3.4L86,-4.1L87,-3.8L88,-3L89,-2.4L90,-1.1L91,-0.7L92,-0.5L93,-0.3L107,-0.3L107,0Z" fill="#c8700e"/>
<line x1="93.30" y1="949.22" x2="174.20" y2="949.22" stroke="#c8700e" stroke-width="0.9" stroke-opacity="0.28"/>
<path transform="translate(93.3,960.2) scale(0.7561,1)" d="M0,0L0,-0.9L1,-1.2L2,-2.4L3,-2.9L4,-3.9L5,-4.6L6,-4L7,-4.4L8,-6.4L9,-6.9L10,-5.7L11,-6L12,-6.9L13,-7.2L14,-8.5L15,-8.6L16,-5.9L17,-5.9L18,-5.3L19,-5.3L20,-5.9L21,-5.9L22,-5.3L23,-5.3L24,-7L25,-7L26,-5.7L27,-5.7L28,-5.6L29,-5.5L30,-6.4L31,-6.3L32,-6.6L33,-6.5L34,-8.2L35,-7.9L36,-4.6L37,-4.3L38,-6.1L39,-5.6L40,-5.8L41,-5.1L42,-4.1L43,-3.5L44,-2.1L45,-1.7L46,-1.3L47,-1L48,-0.8L49,-0.6L50,-0.3L73,-0.3L74,-0.8L75,-1.1L76,-1.2L77,-1.7L78,-1.8L79,-2.3L80,-4.1L81,-4.9L82,-6.5L83,-7.2L84,-6.8L85,-7.1L86,-7.6L87,-7.4L88,-5.9L89,-5.3L90,-4.5L91,-3.8L92,-2.4L93,-1.9L94,-2.4L95,-1.7L96,-1.1L97,-0.7L98,-0.4L99,-0.3L107,-0.3L107,0Z" fill="#ff5e08"/>
<line x1="93.30" y1="959.95" x2="174.20" y2="959.95" stroke="#ff5e08" stroke-width="0.9" stroke-opacity="0.28"/>
<path transform="translate(93.3,971.0) scale(0.7561,1)" d="M0,0L0,-1.1L1,-1.4L2,-1.6L3,-1.9L4,-1.8L5,-2.1L6,-2.5L7,-2.8L8,-3.4L9,-3.7L10,-5.4L11,-5.7L12,-6.1L13,-6.2L14,-4.7L15,-4.8L16,-5.1L17,-5.2L18,-5.2L19,-5.3L20,-6.7L21,-6.7L22,-5.2L23,-5.2L24,-4.8L25,-4.8L26,-5.4L27,-5.4L28,-3.9L29,-3.9L30,-5.4L31,-5.3L32,-4.1L33,-4.1L34,-5.9L35,-5.8L36,-4.5L37,-4.3L38,-5.2L39,-4.9L40,-3.4L41,-3L42,-2.4L43,-2L44,-2.5L45,-2L46,-1.5L47,-1.1L48,-0.5L49,-0.3L50,-0.4L51,-0.3L71,-0.3L72,-0.7L73,-0.9L74,-1.1L75,-1.5L76,-1.8L77,-2.2L78,-3.2L79,-3.8L80,-4.2L81,-4.8L82,-5.8L83,-6.2L84,-5.4L85,-5.6L86,-5.7L87,-5.6L88,-5.8L89,-5.4L90,-3.9L91,-3.5L92,-4.4L93,-3.7L94,-1.9L95,-1.5L96,-1.9L97,-1.4L98,-0.7L99,-0.5L100,-0.4L101,-0.3L107,-0.3L107,0Z" fill="#ff9800"/>
<line x1="93.30" y1="970.68" x2="174.20" y2="970.68" stroke="#ff9800" stroke-width="0.9" stroke-opacity="0.28"/>
<path transform="translate(93.3,981.7) scale(0.7561,1)" d="M0,0L0,-0.7L1,-0.7L2,-0.6L3,-0.6L4,-0.9L5,-0.9L6,-1L7,-1L8,-0.6L9,-0.6L10,-0.5L11,-0.5L12,-1.1L13,-1.1L14,-0.9L15,-0.9L16,-0.6L17,-0.6L18,-1.4L19,-1.4L20,-1L21,-1L22,-0.7L23,-0.7L24,-0.5L25,-0.5L26,-0.4L27,-0.4L28,-0.8L29,-0.8L30,-1L31,-1L32,-0.9L33,-0.9L34,-1L35,-1L36,-0.9L39,-0.9L40,-1L41,-1L42,-0.9L43,-0.3L69,-0.3L70,-1.4L71,-1.4L72,-1.5L73,-1.5L74,-0.9L75,-0.9L76,-0.7L77,-0.7L78,-0.6L79,-0.6L80,-0.5L81,-0.5L82,-1L83,-1L84,-0.9L85,-0.9L86,-1.3L87,-1.3L88,-0.7L89,-0.7L90,-0.6L91,-0.6L92,-0.9L93,-0.9L94,-0.6L95,-0.6L96,-0.7L97,-0.7L98,-1.3L99,-1.3L100,-1.1L101,-1.1L102,-0.3L107,-0.3L107,0Z" fill="#04045e"/>
<line x1="93.30" y1="981.41" x2="174.20" y2="981.41" stroke="#04045e" stroke-width="0.9" stroke-opacity="0.28"/>
<path transform="translate(93.3,992.4) scale(0.7561,1)" d="M0,0L0,-0.3L5,-0.3L6,-1.4L7,-1.4L8,-1.1L9,-1.1L10,-1.4L11,-1.4L12,-1.7L13,-1.7L14,-1.9L15,-1.9L16,-1.3L17,-1.3L18,-2.2L19,-2.2L20,-1.3L21,-1.3L22,-0.6L23,-0.6L24,-0.9L27,-0.9L28,-1.3L29,-1.3L30,-1.2L33,-1.2L34,-0.8L35,-0.8L36,-0.9L37,-0.9L38,-0.3L72,-0.3L73,-2.4L74,-1.2L75,-1.2L76,-2L77,-2L78,-1.4L79,-1.5L80,-3.5L81,-5.3L82,-4.3L83,-4.9L84,-5.3L85,-4.5L86,-4.4L87,-2.9L88,-1.2L89,-1.1L90,-2L91,-2L92,-1.3L93,-1.3L94,-2L95,-2L96,-1.3L98,-1.3L99,-0.3L107,-0.3L107,0Z" fill="#0b2c98"/>
<line x1="93.30" y1="992.14" x2="174.20" y2="992.14" stroke="#0b2c98" stroke-width="0.9" stroke-opacity="0.28"/>
<path transform="translate(93.3,1003.2) scale(0.7561,1)" d="M0,0L0,-1.5L1,-1.5L2,-0.9L3,-0.9L4,-1.2L5,-1.2L6,-1.3L9,-1.3L10,-0.6L11,-0.6L12,-1.3L13,-1.3L14,-0.8L15,-0.8L16,-0.6L21,-0.6L22,-0.8L25,-0.8L26,-1.3L27,-1.3L28,-0.6L29,-0.6L30,-1.3L31,-1.3L32,-1L33,-1L34,-1.4L35,-1.4L36,-0.8L37,-0.8L38,-0.6L39,-0.6L40,-1L41,-1L42,-1.4L43,-1.4L44,-1.3L45,-1.3L46,-0.8L47,-0.8L48,-0.3L67,-0.3L68,-0.4L69,-0.5L70,-1L73,-1L74,-1.2L75,-1.4L76,-2.1L77,-2.3L78,-1.7L79,-1.8L80,-2L81,-2.2L82,-3.6L83,-3.7L84,-3.2L85,-3.3L86,-2.3L87,-2.3L88,-2.5L89,-2.4L90,-2.6L91,-2.4L92,-2.4L93,-2.2L94,-2.3L95,-2L96,-1.6L97,-1.4L98,-0.9L101,-0.9L102,-0.6L103,-0.4L104,-0.3L107,-0.3L107,0Z" fill="#1a62d4"/>
<line x1="93.30" y1="1002.87" x2="174.20" y2="1002.87" stroke="#1a62d4" stroke-width="0.9" stroke-opacity="0.28"/>
<path transform="translate(93.3,1013.9) scale(0.7561,1)" d="M0,0L0,-0.3L1,-0.3L2,-0.4L3,-0.4L4,-0.3L5,-0.3L6,-0.4L7,-0.4L8,-0.3L9,-0.3L10,-0.4L11,-0.4L12,-0.3L17,-0.3L18,-0.4L19,-0.4L20,-0.3L23,-0.3L24,-0.5L27,-0.5L28,-0.3L33,-0.3L34,-0.5L35,-0.5L36,-0.3L71,-0.3L72,-0.4L73,-0.6L74,-0.5L75,-0.6L76,-0.8L77,-0.9L78,-1.4L79,-1.7L80,-2L81,-2.3L82,-2.3L83,-2.5L84,-2.9L85,-3L87,-3L88,-3.4L89,-3.4L90,-3.7L91,-3.5L92,-3.2L93,-2.9L94,-2.4L95,-2.1L96,-1.7L97,-1.4L98,-1.5L99,-1.3L100,-0.8L101,-0.6L102,-0.6L103,-0.4L104,-0.4L105,-0.3L107,-0.3L107,0Z" fill="#229ef6"/>
<line x1="93.30" y1="1013.60" x2="174.20" y2="1013.60" stroke="#229ef6" stroke-width="0.9" stroke-opacity="0.28"/>
<path transform="translate(93.3,1024.6) scale(0.7561,1)" d="M0,0L0,-0.3L5,-0.3L6,-1.9L7,-1.9L8,-1.8L9,-1.8L10,-2.5L11,-2.5L12,-1.5L13,-1.5L14,-2.4L15,-2.4L16,-2.6L17,-2.6L18,-2L19,-2L20,-1.4L21,-1.4L22,-1.5L23,-1.5L24,-1.2L25,-1.2L26,-1.8L27,-1.8L28,-2.8L29,-2.8L30,-2.3L31,-3.3L32,-4.3L33,-5.1L34,-4.1L35,-4L36,-3.8L37,-3L38,-3.1L39,-2.1L40,-1.2L41,-0.7L42,-0.3L51,-0.3L52,-1L53,-1L54,-0.9L55,-0.9L56,-0.3L70,-0.3L71,-2.4L72,-2.7L73,-2.7L74,-1.4L75,-1.4L76,-1.6L77,-1.9L78,-2.5L79,-2.5L80,-2.9L81,-2.8L82,-2.7L83,-2.2L84,-1.5L85,-1.4L86,-1.8L87,-1.8L88,-2.4L89,-2.4L90,-1.3L91,-1.3L92,-2.9L93,-2.9L94,-1.6L95,-1.6L96,-2L97,-0.3L107,-0.3L107,0Z" fill="#0a5c55"/>
<line x1="93.30" y1="1024.33" x2="174.20" y2="1024.33" stroke="#0a5c55" stroke-width="0.9" stroke-opacity="0.28"/>
<path transform="translate(93.3,1035.4) scale(0.7561,1)" d="M0,0L0,-0.3L5,-0.3L6,-1L7,-1L8,-3.1L9,-3.1L10,-2.5L11,-2.5L12,-1.3L13,-1.3L14,-2.4L15,-2.4L16,-2.5L17,-2.5L18,-2L19,-2L20,-2.4L21,-2.4L22,-3.6L23,-3.6L24,-2.1L25,-2.1L26,-2.3L27,-2.3L28,-2.6L29,-2.6L30,-2.9L31,-2.9L32,-2L33,-2L34,-1.4L35,-1.4L36,-2.5L37,-2.5L38,-2.7L39,-2.7L40,-3.1L41,-3.1L42,-1.6L43,-1.6L44,-2L45,-2L46,-2.1L47,-2.1L48,-1.5L49,-0.3L69,-0.3L70,-1.5L71,-1.5L72,-2L73,-2L74,-1.7L75,-1.7L76,-2.3L77,-2.3L78,-2.9L79,-2.9L80,-2.2L81,-2.2L82,-2.3L83,-2.3L84,-1.7L85,-1.7L86,-1.9L87,-1.9L88,-2.2L91,-2.2L92,-3.3L93,-3.3L94,-3L95,-3L96,-1.6L97,-1.6L98,-1.1L99,-1.1L100,-2.6L101,-2.6L102,-0.3L107,-0.3L107,0Z" fill="#0a6230"/>
<line x1="93.30" y1="1035.06" x2="174.20" y2="1035.06" stroke="#0a6230" stroke-width="0.9" stroke-opacity="0.28"/>
<path transform="translate(93.3,1046.1) scale(0.7561,1)" d="M0,0L0,-0.3L7,-0.3L8,-0.8L9,-1.1L10,-1L11,-1.3L12,-2.2L13,-2.7L14,-2.8L15,-3.1L16,-4.6L17,-4.9L18,-3.5L19,-3.7L20,-4.3L21,-4.4L22,-4.4L23,-4.5L24,-4.2L25,-4.2L26,-3.6L27,-3.6L28,-4.8L29,-4.8L30,-3.8L31,-3.8L32,-5.2L33,-5.2L34,-3.7L35,-3.6L36,-4.2L37,-4L38,-4.2L39,-3.9L40,-4.5L41,-4.1L42,-2.2L43,-1.9L44,-1.6L45,-1.2L46,-1.3L47,-0.9L48,-0.4L49,-0.3L72,-0.3L73,-0.5L74,-0.9L75,-1.2L76,-2L77,-2.5L78,-2.6L79,-2.9L80,-3.5L81,-3.7L82,-3.7L83,-3.8L84,-3.9L85,-3.9L86,-4.4L87,-4.4L88,-3.6L89,-3.6L90,-3.9L91,-3.9L92,-3.3L93,-3.3L94,-2.5L95,-2.4L96,-3.4L97,-3.1L98,-1.9L99,-1.6L100,-1.8L101,-1.3L102,-0.9L103,-0.6L104,-0.3L107,-0.3L107,0Z" fill="#149158"/>
<line x1="93.30" y1="1045.79" x2="174.20" y2="1045.79" stroke="#149158" stroke-width="0.9" stroke-opacity="0.28"/>
<path transform="translate(93.3,1056.8) scale(0.7561,1)" d="M0,0L0,-0.3L17,-0.3L18,-0.4L19,-0.8L20,-1.3L21,-2L22,-3.2L23,-4.2L24,-3.7L25,-4.3L26,-6.8L27,-7.3L28,-7.5L29,-7.7L30,-6L31,-6L32,-6.6L33,-6.6L34,-6.9L35,-6.8L36,-9L37,-8.9L38,-6.5L39,-6.2L40,-4.7L41,-4.3L42,-5.9L43,-4.9L44,-3.9L45,-2.8L46,-1.4L47,-0.8L48,-0.5L49,-0.3L79,-0.3L80,-0.8L81,-1.8L82,-2.2L83,-2.6L84,-3.4L85,-3.5L86,-4.4L87,-4.4L88,-3.3L89,-2.8L90,-1.6L91,-0.8L92,-0.3L107,-0.3L107,0Z" fill="#18a048"/>
<line x1="93.30" y1="1056.52" x2="174.20" y2="1056.52" stroke="#18a048" stroke-width="0.9" stroke-opacity="0.28"/>
<path transform="translate(179.2,906.6) scale(0.7506,1)" d="M0,0L0,-0.3L19,-0.3L20,-4.7L21,-4.7L22,-3.8L23,-3.8L24,-2.1L25,-2.1L26,-4L27,-4L28,-4.8L29,-4.8L30,-1.2L31,-1.2L32,-2L33,-2L34,-2.6L35,-2.6L36,-2.8L37,-2.8L38,-3.4L39,-3.4L40,-2.5L41,-2.5L42,-1.7L43,-1.7L44,-3.1L45,-3.1L46,-0.3L77,-0.3L77,0Z" fill="#6e0838"/>
<line x1="179.20" y1="906.30" x2="237.00" y2="906.30" stroke="#6e0838" stroke-width="0.9" stroke-opacity="0.28"/>
<path transform="translate(179.2,917.3) scale(0.7506,1)" d="M0,0L0,-0.3L11,-0.3L12,-0.5L13,-0.7L14,-0.9L15,-1.1L16,-1.3L17,-1.5L18,-1.5L19,-1.6L20,-1.7L21,-6.4L22,-5.2L23,-5.2L24,-5.6L25,-5.6L26,-3L27,-3L28,-2.6L29,-2.6L30,-4.6L31,-4.6L32,-7.3L33,-7.3L34,-3.4L35,-3.4L36,-2.2L37,-2.2L38,-3.2L39,-3.2L40,-3.9L41,-3.9L42,-5.5L43,-5.5L44,-7.7L45,-1.7L46,-1.9L47,-1.7L48,-1L49,-0.9L50,-1.1L51,-0.9L52,-0.7L53,-0.5L54,-0.4L55,-0.3L77,-0.3L77,0Z" fill="#9e0838"/>
<line x1="179.20" y1="917.03" x2="237.00" y2="917.03" stroke="#9e0838" stroke-width="0.9" stroke-opacity="0.28"/>
<path transform="translate(179.2,928.1) scale(0.7506,1)" d="M0,0L0,-0.3L16,-0.3L17,-0.4L18,-0.8L19,-1L20,-1.1L21,-5.6L22,-7.8L23,-7.8L24,-3.3L25,-3.3L26,-3.8L27,-3.8L28,-3.5L29,-3.5L30,-2.1L31,-2.1L32,-1.8L33,-1.8L34,-4.3L35,-4.3L36,-5L37,-5L38,-1.8L39,-1.8L40,-3.1L41,-3.1L42,-2.4L43,-2.4L44,-1.2L45,-1.1L46,-0.7L47,-0.6L48,-0.4L49,-0.3L77,-0.3L77,0Z" fill="#d00a0a"/>
<line x1="179.20" y1="927.76" x2="237.00" y2="927.76" stroke="#d00a0a" stroke-width="0.9" stroke-opacity="0.28"/>
<path transform="translate(179.2,938.8) scale(0.7506,1)" d="M0,0L0,-0.3L16,-0.3L17,-0.4L18,-0.6L19,-0.8L20,-0.9L21,-5.6L22,-5.1L23,-5.1L24,-4L25,-4L26,-2L27,-2L28,-5L29,-5L30,-1.6L31,-1.6L32,-1.5L33,-1.5L34,-5L35,-5L36,-1.3L37,-1.3L38,-6L39,-6L40,-2.9L41,-2.9L42,-6L43,-6L44,-0.7L45,-0.6L46,-0.6L47,-0.5L48,-0.4L49,-0.3L77,-0.3L77,0Z" fill="#dc4410"/>
<line x1="179.20" y1="938.49" x2="237.00" y2="938.49" stroke="#dc4410" stroke-width="0.9" stroke-opacity="0.28"/>
<path transform="translate(179.2,949.5) scale(0.7506,1)" d="M0,0L0,-0.3L18,-0.3L19,-0.5L20,-1.2L21,-2.1L22,-2.8L23,-3.9L24,-5.3L25,-6.3L26,-9L27,-9.5L28,-6.9L29,-7.1L30,-9.5L33,-9.5L34,-6.6L35,-6.6L36,-9.5L37,-9.5L38,-8L39,-7.6L40,-7.5L41,-6.7L42,-5L43,-3.9L44,-3.4L45,-2.2L46,-1.6L47,-0.8L48,-0.3L77,-0.3L77,0Z" fill="#c8700e"/>
<line x1="179.20" y1="949.22" x2="237.00" y2="949.22" stroke="#c8700e" stroke-width="0.9" stroke-opacity="0.28"/>
<path transform="translate(179.2,960.2) scale(0.7506,1)" d="M0,0L0,-0.3L19,-0.3L20,-0.4L21,-0.7L22,-2.1L23,-3L24,-3.4L25,-4.2L26,-3.9L27,-4.2L28,-5.5L29,-5.6L30,-5.7L31,-5.8L32,-3.6L33,-3.6L34,-4.6L35,-4.6L36,-4.3L37,-4.2L38,-3.3L39,-3L40,-4L41,-3.3L42,-2.6L43,-1.7L44,-0.8L45,-0.4L46,-0.3L77,-0.3L77,0Z" fill="#ff5e08"/>
<line x1="179.20" y1="959.95" x2="237.00" y2="959.95" stroke="#ff5e08" stroke-width="0.9" stroke-opacity="0.28"/>
<path transform="translate(179.2,971.0) scale(0.7506,1)" d="M0,0L0,-0.3L20,-0.3L21,-0.5L22,-1.2L23,-2L24,-2.3L25,-3L26,-3.1L27,-3.5L28,-4.5L29,-4.6L31,-4.6L32,-4.8L33,-4.8L34,-6L35,-6L36,-6.1L37,-6L38,-4L39,-3.7L40,-5.1L41,-4.3L42,-2.9L43,-2.1L44,-1.6L45,-0.9L46,-0.4L47,-0.3L77,-0.3L77,0Z" fill="#ff9800"/>
<line x1="179.20" y1="970.68" x2="237.00" y2="970.68" stroke="#ff9800" stroke-width="0.9" stroke-opacity="0.28"/>
<path transform="translate(179.2,981.7) scale(0.7506,1)" d="M0,0L0,-0.3L6,-0.3L7,-0.5L8,-0.8L9,-1.1L10,-1.3L11,-1.7L12,-1.4L13,-1.6L14,-1.9L15,-2L16,-2.5L17,-2.5L18,-3.2L19,-4.3L20,-7.4L21,-8.8L22,-8.8L23,-9.1L24,-7.7L25,-7L26,-5.6L27,-4.4L28,-3.1L29,-2.2L30,-2.7L31,-2.6L32,-2.8L33,-2.6L34,-1.5L35,-2.3L36,-3.8L37,-4.7L38,-4.9L39,-4.9L40,-5.1L41,-4.1L42,-2.4L43,-1.6L44,-0.8L45,-0.4L47,-0.4L48,-0.3L49,-0.3L50,-0.4L51,-0.4L52,-0.5L53,-0.5L54,-0.3L55,-0.3L56,-0.4L57,-0.4L58,-0.3L63,-0.3L64,-0.5L65,-0.5L66,-0.3L77,-0.3L77,0Z" fill="#04045e"/>
<line x1="179.20" y1="981.41" x2="237.00" y2="981.41" stroke="#04045e" stroke-width="0.9" stroke-opacity="0.28"/>
<path transform="translate(179.2,992.4) scale(0.7506,1)" d="M0,0L0,-0.3L3,-0.3L4,-0.7L5,-0.7L6,-0.6L7,-0.6L8,-0.8L9,-0.8L10,-0.5L11,-0.5L12,-0.3L17,-0.3L18,-0.4L19,-0.8L20,-1.5L21,-2.3L22,-2.1L23,-2.7L24,-4.1L25,-4.2L26,-2.7L27,-2.2L28,-2.3L29,-2.4L30,-2.1L31,-2.1L32,-1.9L33,-2.1L34,-2.9L35,-3.4L36,-4.4L37,-4.6L38,-4.3L39,-3.9L40,-2.7L41,-2.1L42,-1.4L43,-0.9L44,-0.6L45,-0.3L77,-0.3L77,0Z" fill="#0b2c98"/>
<line x1="179.20" y1="992.14" x2="237.00" y2="992.14" stroke="#0b2c98" stroke-width="0.9" stroke-opacity="0.28"/>
<path transform="translate(179.2,1003.2) scale(0.7506,1)" d="M0,0L0,-0.3L13,-0.3L14,-0.5L15,-0.7L16,-1.3L17,-1.8L18,-1.7L19,-2.1L20,-3.6L21,-4L22,-4L23,-4.1L24,-3.7L25,-3.4L26,-3.8L27,-3.3L28,-2.2L29,-1.7L30,-1.3L31,-1.4L32,-2.1L33,-2.4L34,-2.2L35,-2.2L36,-2.1L37,-1.9L38,-1.1L39,-0.9L40,-0.9L41,-0.6L42,-0.3L77,-0.3L77,0Z" fill="#1a62d4"/>
<line x1="179.20" y1="1002.87" x2="237.00" y2="1002.87" stroke="#1a62d4" stroke-width="0.9" stroke-opacity="0.28"/>
<path transform="translate(179.2,1013.9) scale(0.7506,1)" d="M0,0L0,-0.3L3,-0.3L4,-0.4L7,-0.4L8,-0.3L11,-0.3L12,-0.5L13,-0.5L14,-0.3L15,-0.3L16,-0.4L17,-0.4L18,-0.3L19,-0.6L20,-1.3L21,-2.2L22,-2.6L23,-2.9L24,-2.2L25,-1.7L26,-1.1L27,-0.6L28,-0.3L33,-0.3L34,-0.4L37,-0.4L38,-0.3L39,-0.5L40,-1.2L41,-1.7L42,-1.6L43,-1.6L44,-1.5L45,-1L46,-0.6L47,-0.3L49,-0.3L50,-0.4L51,-0.4L52,-0.3L55,-0.3L56,-0.4L57,-0.4L58,-0.3L59,-0.3L60,-0.5L61,-0.5L62,-0.3L69,-0.3L70,-0.4L71,-0.4L72,-0.3L77,-0.3L77,0Z" fill="#229ef6"/>
<line x1="179.20" y1="1013.60" x2="237.00" y2="1013.60" stroke="#229ef6" stroke-width="0.9" stroke-opacity="0.28"/>
<path transform="translate(179.2,1024.6) scale(0.7506,1)" d="M0,0L0,-0.3L4,-0.3L5,-2.3L6,-2.7L7,-2.3L8,-1.7L9,-0.3L27,-0.3L28,-1.9L29,-1.9L30,-0.3L41,-0.3L42,-2.7L43,-2.7L44,-0.3L77,-0.3L77,0Z" fill="#0a5c55"/>
<line x1="179.20" y1="1024.33" x2="237.00" y2="1024.33" stroke="#0a5c55" stroke-width="0.9" stroke-opacity="0.28"/>
<path transform="translate(179.2,1035.4) scale(0.7506,1)" d="M0,0L0,-0.3L6,-0.3L7,-6.1L8,-6.1L9,-0.3L10,-0.3L11,-2.9L12,-3.1L13,-0.3L21,-0.3L22,-4L23,-4L24,-3.5L25,-0.3L28,-0.3L29,-0.6L30,-1.9L31,-4.2L32,-6L33,-5.6L34,-4.1L35,-1.6L36,-0.3L37,-2.2L38,-2.3L39,-2.3L40,-2L41,-0.3L58,-0.3L59,-2.1L61,-2.1L62,-0.3L77,-0.3L77,0Z" fill="#0a6230"/>
<line x1="179.20" y1="1035.06" x2="237.00" y2="1035.06" stroke="#0a6230" stroke-width="0.9" stroke-opacity="0.28"/>
<path transform="translate(179.2,1046.1) scale(0.7506,1)" d="M0,0L0,-0.3L2,-0.3L3,-1L4,-2.3L5,-4.7L6,-8L7,-6.9L8,-3.2L9,-1.2L10,-0.3L19,-0.3L20,-0.9L21,-2.8L22,-3.9L23,-5L24,-6.5L25,-3.6L26,-1.1L27,-0.3L29,-0.3L30,-2L31,-2L32,-2.5L33,-0.3L41,-0.3L42,-1.2L43,-1.2L44,-0.3L77,-0.3L77,0Z" fill="#149158"/>
<line x1="179.20" y1="1045.79" x2="237.00" y2="1045.79" stroke="#149158" stroke-width="0.9" stroke-opacity="0.28"/>
<path transform="translate(179.2,1056.8) scale(0.7506,1)" d="M0,0L0,-0.3L2,-0.3L3,-0.9L4,-1.6L5,-2.9L6,-6.3L7,-7.9L8,-7.2L9,-6.2L10,-4.1L11,-2.4L12,-1.4L13,-0.6L14,-0.3L15,-0.3L16,-2.1L17,-2.1L18,-1.9L19,-1.9L20,-2.6L21,-2.6L22,-1.6L23,-1.6L24,-2.4L25,-2.4L26,-3.7L27,-0.3L34,-0.3L35,-1L36,-1.4L37,-1.4L38,-2.5L39,-2.5L40,-1.5L41,-1.5L42,-2.3L43,-0.3L77,-0.3L77,0Z" fill="#18a048"/>
<line x1="179.20" y1="1056.52" x2="237.00" y2="1056.52" stroke="#18a048" stroke-width="0.9" stroke-opacity="0.28"/>
<path transform="translate(241.7,906.6) scale(0.7537,1)" d="M0,0L0,-0.3L11,-0.3L12,-0.4L13,-0.4L14,-0.3L15,-0.3L16,-0.4L17,-0.4L18,-0.3L25,-0.3L26,-0.4L27,-0.4L28,-0.3L43,-0.3L44,-0.5L45,-0.8L46,-1L47,-1.4L48,-2.2L49,-2.6L50,-2.3L51,-2.4L52,-2L53,-1.7L54,-1.7L55,-1.3L56,-1.1L57,-0.7L58,-0.3L79,-0.3L80,-0.4L81,-0.4L82,-0.3L89,-0.3L90,-0.4L91,-0.4L92,-0.3L121,-0.3L121,0Z" fill="#6e0838"/>
<line x1="241.70" y1="906.30" x2="332.90" y2="906.30" stroke="#6e0838" stroke-width="0.9" stroke-opacity="0.28"/>
<path transform="translate(241.7,917.3) scale(0.7537,1)" d="M0,0L0,-0.4L1,-0.4L2,-0.3L3,-0.3L4,-0.4L5,-0.4L6,-0.3L21,-0.3L22,-0.4L23,-0.4L24,-0.3L43,-0.3L44,-0.7L45,-2.5L46,-5.2L47,-7.2L48,-5.4L49,-2.9L50,-3L51,-3.2L52,-2.6L53,-2L54,-1.2L55,-0.7L56,-0.3L77,-0.3L78,-0.4L79,-0.4L80,-0.3L121,-0.3L121,0Z" fill="#9e0838"/>
<line x1="241.70" y1="917.03" x2="332.90" y2="917.03" stroke="#9e0838" stroke-width="0.9" stroke-opacity="0.28"/>
<path transform="translate(241.7,928.1) scale(0.7537,1)" d="M0,0L0,-0.3L43,-0.3L44,-1.1L45,-2.9L46,-5.4L47,-6.8L48,-5.1L49,-3.2L50,-1.6L51,-1.6L52,-1.8L53,-1.3L54,-1L55,-0.5L56,-0.3L121,-0.3L121,0Z" fill="#d00a0a"/>
<line x1="241.70" y1="927.76" x2="332.90" y2="927.76" stroke="#d00a0a" stroke-width="0.9" stroke-opacity="0.28"/>
<path transform="translate(241.7,938.8) scale(0.7537,1)" d="M0,0L0,-0.3L43,-0.3L44,-0.8L45,-2.1L46,-3.7L47,-4.7L48,-4.2L49,-2.7L50,-1.1L51,-0.3L121,-0.3L121,0Z" fill="#dc4410"/>
<line x1="241.70" y1="938.49" x2="332.90" y2="938.49" stroke="#dc4410" stroke-width="0.9" stroke-opacity="0.28"/>
<path transform="translate(241.7,949.5) scale(0.7537,1)" d="M0,0L0,-0.3L41,-0.3L42,-0.6L43,-0.8L44,-0.9L45,-1.1L46,-1.3L47,-1.5L48,-1.4L49,-1.6L50,-2.5L51,-2.7L52,-2.6L53,-2.7L54,-2.4L55,-2.3L56,-3L57,-2.8L58,-2.1L59,-1.8L60,-1.5L61,-1.2L62,-1.1L63,-0.9L64,-0.5L65,-0.4L66,-0.4L67,-0.3L121,-0.3L121,0Z" fill="#c8700e"/>
<line x1="241.70" y1="949.22" x2="332.90" y2="949.22" stroke="#c8700e" stroke-width="0.9" stroke-opacity="0.28"/>
<path transform="translate(241.7,960.2) scale(0.7537,1)" d="M0,0L0,-0.3L41,-0.3L42,-0.5L43,-0.7L44,-1.3L45,-1.8L46,-1.6L47,-2L48,-3.9L49,-4.5L50,-4L51,-4.4L52,-4.1L53,-4.2L54,-4L55,-3.8L56,-3.4L57,-3L58,-3.3L59,-2.8L60,-1.7L61,-1.3L62,-1.4L63,-1.1L64,-0.6L65,-0.4L66,-0.3L121,-0.3L121,0Z" fill="#ff5e08"/>
<line x1="241.70" y1="959.95" x2="332.90" y2="959.95" stroke="#ff5e08" stroke-width="0.9" stroke-opacity="0.28"/>
<path transform="translate(241.7,971.0) scale(0.7537,1)" d="M0,0L0,-0.3L38,-0.3L39,-0.5L40,-0.5L41,-0.8L42,-1.4L43,-1.8L44,-1.6L45,-2L46,-3.8L47,-4.6L48,-3.8L49,-4.3L50,-7.1L51,-7.7L52,-8.3L53,-8.5L54,-6.7L55,-6.5L56,-5.1L57,-4.6L58,-4.3L59,-3.7L60,-4.4L61,-3.6L62,-2.6L63,-2L64,-1.6L65,-1.2L66,-0.9L67,-0.6L68,-0.3L121,-0.3L121,0Z" fill="#ff9800"/>
<line x1="241.70" y1="970.68" x2="332.90" y2="970.68" stroke="#ff9800" stroke-width="0.9" stroke-opacity="0.28"/>
<path transform="translate(241.7,981.7) scale(0.7537,1)" d="M0,0L0,-0.5L1,-0.5L2,-0.6L3,-0.6L4,-0.3L5,-0.3L6,-0.4L9,-0.4L10,-0.3L11,-1L12,-1.3L13,-1L14,-0.4L15,-0.3L16,-0.4L17,-0.4L18,-0.6L19,-0.6L20,-0.5L21,-0.5L22,-0.3L23,-0.3L24,-0.4L27,-0.4L28,-0.5L29,-0.5L30,-0.3L31,-0.3L32,-0.6L33,-0.6L34,-0.5L35,-0.5L36,-0.4L37,-0.4L38,-0.3L39,-0.3L40,-0.4L41,-0.5L42,-0.7L43,-1.1L44,-1.9L45,-2.3L46,-2.2L47,-2.3L48,-4.3L49,-4.3L50,-3.4L51,-3.4L52,-6.4L55,-6.4L56,-2.7L57,-2.4L58,-1.9L59,-1.3L60,-0.8L61,-0.5L63,-0.5L64,-0.4L65,-0.4L66,-0.3L71,-0.3L72,-0.4L73,-0.4L74,-0.3L79,-0.3L80,-0.5L81,-0.5L82,-0.3L85,-0.3L86,-0.5L87,-0.5L88,-0.4L89,-0.4L90,-0.5L91,-0.5L92,-0.3L93,-0.3L94,-0.6L95,-0.6L96,-0.4L97,-0.4L98,-0.3L99,-0.3L100,-0.4L101,-0.4L102,-0.3L106,-0.3L107,-0.4L108,-1L109,-1.4L110,-0.9L111,-0.3L113,-0.3L114,-0.4L115,-0.4L116,-0.3L117,-0.3L118,-0.5L119,-0.5L120,-0.4L121,-0.4L121,0Z" fill="#04045e"/>
<line x1="241.70" y1="981.41" x2="332.90" y2="981.41" stroke="#04045e" stroke-width="0.9" stroke-opacity="0.28"/>
<path transform="translate(241.7,992.4) scale(0.7537,1)" d="M0,0L0,-0.3L5,-0.3L6,-0.4L7,-0.4L8,-0.5L9,-0.5L10,-0.3L13,-0.3L14,-0.4L15,-0.4L16,-0.5L19,-0.5L20,-0.3L27,-0.3L28,-0.4L29,-0.4L30,-0.3L31,-0.3L32,-0.5L33,-0.5L34,-0.3L35,-0.3L36,-0.4L37,-0.4L38,-0.3L39,-0.3L40,-0.5L41,-0.5L42,-1L43,-2.9L44,-5L45,-5.7L46,-6.2L47,-2.7L48,-1.5L49,-3.1L50,-3.7L51,-4.1L52,-3.5L53,-2.1L54,-1.1L55,-0.6L56,-0.6L57,-1.3L58,-2.2L59,-3L60,-3.6L62,-3.6L63,-2.5L64,-0.9L65,-0.5L66,-0.4L69,-0.4L70,-0.5L71,-0.5L72,-0.4L73,-0.4L74,-0.3L79,-0.3L80,-0.5L81,-0.5L82,-0.4L83,-0.4L84,-0.3L87,-0.3L88,-0.6L89,-0.6L90,-0.3L91,-0.3L92,-0.4L93,-0.4L94,-0.3L97,-0.3L98,-0.6L99,-0.6L100,-0.3L111,-0.3L112,-0.5L115,-0.5L116,-0.6L117,-0.6L118,-0.3L121,-0.3L121,0Z" fill="#0b2c98"/>
<line x1="241.70" y1="992.14" x2="332.90" y2="992.14" stroke="#0b2c98" stroke-width="0.9" stroke-opacity="0.28"/>
<path transform="translate(241.7,1003.2) scale(0.7537,1)" d="M0,0L0,-0.3L40,-0.3L41,-0.5L42,-0.9L43,-1.3L44,-1.4L45,-3.4L46,-1.9L47,-2L48,-3.8L49,-3.8L50,-4L51,-4L52,-3.8L53,-3.8L54,-1.9L55,-1.8L56,-2.4L57,-2.1L58,-1.7L59,-1.2L60,-0.8L61,-0.4L62,-0.3L121,-0.3L121,0Z" fill="#1a62d4"/>
<line x1="241.70" y1="1002.87" x2="332.90" y2="1002.87" stroke="#1a62d4" stroke-width="0.9" stroke-opacity="0.28"/>
<path transform="translate(241.7,1013.9) scale(0.7537,1)" d="M0,0L0,-0.3L40,-0.3L41,-0.4L42,-0.6L43,-1.1L44,-1.4L45,-1.8L46,-2.5L47,-2.2L48,-2.3L49,-1.5L50,-0.7L51,-0.3L121,-0.3L121,0Z" fill="#229ef6"/>
<line x1="241.70" y1="1013.60" x2="332.90" y2="1013.60" stroke="#229ef6" stroke-width="0.9" stroke-opacity="0.28"/>
<path transform="translate(241.7,1024.6) scale(0.7537,1)" d="M0,0L0,-0.7L1,-0.7L2,-0.8L3,-0.8L4,-0.5L5,-0.5L6,-0.3L7,-0.7L8,-2.4L9,-2.4L10,-2.5L11,-2.5L12,-2.3L13,-2.3L14,-1L15,-1L16,-2.9L17,-2.9L18,-2.2L19,-2.2L20,-2.8L21,-5.1L22,-5.7L23,-4L24,-2.8L25,-2.1L26,-1.4L27,-1.4L28,-3L29,-3L30,-2.1L31,-2.1L32,-1.7L33,-1.7L34,-1.8L35,-1.8L36,-1.7L37,-1.7L38,-0.6L39,-0.6L40,-0.8L41,-0.8L42,-2.6L43,-2.6L44,-2.7L45,-2.7L46,-1.3L47,-1.3L48,-1L49,-1L50,-2.9L51,-2.9L52,-2L53,-2L54,-1.3L55,-1.3L56,-2.4L57,-2.4L58,-1.2L59,-1.2L60,-1.8L61,-2.7L62,-6.3L63,-7.7L64,-4.6L65,-2.2L66,-1.9L67,-1.9L68,-2.5L69,-2.5L70,-0.7L71,-0.7L72,-1.5L73,-1.5L74,-1.9L75,-1.9L76,-1.2L77,-1.2L78,-1.9L79,-1.9L80,-1.7L81,-1.7L82,-1.4L83,-1.4L84,-1.8L85,-1.8L86,-0.9L87,-0.9L88,-1.6L89,-1.6L90,-0.8L91,-0.8L92,-1.4L93,-1.4L94,-1.6L95,-1.6L96,-2.3L97,-2.3L98,-1.6L99,-1.6L100,-1.5L101,-1.5L102,-1.3L103,-1.3L104,-3.1L105,-3.1L106,-2.9L107,-2.9L108,-1L109,-1L110,-1.8L111,-1.8L112,-0.9L113,-2.8L114,-6.5L115,-8L116,-7.4L117,-3.6L118,-0.9L119,-0.4L120,-0.5L121,-0.5L121,0Z" fill="#0a5c55"/>
<line x1="241.70" y1="1024.33" x2="332.90" y2="1024.33" stroke="#0a5c55" stroke-width="0.9" stroke-opacity="0.28"/>
<path transform="translate(241.7,1035.4) scale(0.7537,1)" d="M0,0L0,-0.3L6,-0.3L7,-1.8L8,-1.9L9,-1.9L10,-1.1L11,-1.1L12,-0.8L13,-0.8L14,-2.1L15,-2.1L16,-1.6L17,-1.6L18,-2.3L19,-2.3L20,-3.5L21,-6.5L22,-5.3L23,-3.8L24,-1.7L25,-1.1L26,-0.8L27,-0.8L28,-1.4L29,-1.4L30,-2L31,-2L32,-0.8L33,-0.8L34,-1.6L35,-1.6L36,-1L37,-1L38,-0.6L39,-0.6L40,-1.9L41,-1.9L42,-1.7L43,-1.7L44,-0.5L45,-0.5L46,-0.8L47,-0.9L48,-2L49,-2.9L50,-2.5L51,-2.6L52,-3.5L53,-2.7L54,-1.9L55,-1.9L56,-1.1L57,-1.1L58,-0.8L59,-0.8L60,-1.5L61,-1.5L62,-0.8L63,-0.8L64,-1.8L65,-1.8L66,-1.2L67,-1.2L68,-0.7L69,-0.7L70,-1.3L71,-1.3L72,-1.4L73,-1.4L74,-1.1L75,-1.1L76,-1L77,-1L78,-1.5L79,-1.5L80,-1.1L81,-1.1L82,-1.6L83,-1.6L84,-2L85,-2L86,-1.4L87,-1.4L88,-1.5L89,-1.5L90,-1.2L91,-1.2L92,-1.7L93,-1.7L94,-2.1L95,-2.1L96,-0.9L97,-0.9L98,-1.3L99,-1.3L100,-1L101,-1L102,-1.8L103,-1.8L104,-0.7L105,-0.7L106,-2.2L107,-2.2L108,-1.7L109,-1.7L110,-1.1L111,-1.3L112,-2.2L113,-2.2L114,-2.1L115,-0.8L116,-0.3L121,-0.3L121,0Z" fill="#0a6230"/>
<line x1="241.70" y1="1035.06" x2="332.90" y2="1035.06" stroke="#0a6230" stroke-width="0.9" stroke-opacity="0.28"/>
<path transform="translate(241.7,1046.1) scale(0.7537,1)" d="M0,0L0,-1L1,-1L2,-1.2L3,-1.2L4,-0.5L7,-0.5L8,-0.6L9,-0.6L10,-0.5L13,-0.5L14,-0.7L17,-0.7L18,-0.6L19,-0.6L20,-0.7L21,-0.7L22,-0.8L23,-0.8L24,-1.1L25,-1.1L26,-0.7L29,-0.7L30,-1.3L31,-1.3L32,-3.1L33,-3.1L34,-0.8L35,-0.8L36,-1.7L37,-1.7L38,-2.7L39,-2.7L40,-1.5L41,-1.5L42,-2L43,-2L44,-0.6L45,-0.6L46,-0.9L47,-0.9L48,-0.4L49,-0.4L50,-0.5L51,-0.5L52,-0.6L53,-0.6L54,-0.5L55,-0.5L56,-0.9L57,-0.9L58,-1L59,-1L60,-0.4L61,-0.4L62,-1.3L63,-2.6L64,-0.9L67,-0.9L68,-1.5L69,-1.5L70,-1.7L71,-1.7L72,-2L73,-2L74,-1.4L75,-1.4L76,-0.9L77,-0.9L78,-1.9L79,-1.9L80,-1.8L81,-1.8L82,-1.5L83,-0.8L85,-0.8L86,-0.6L87,-0.6L88,-0.8L91,-0.8L92,-0.5L93,-0.5L94,-1.2L95,-1.2L96,-0.7L97,-0.7L98,-0.4L99,-0.4L100,-0.8L103,-0.8L104,-0.6L105,-0.6L106,-1L107,-1L108,-0.9L109,-0.9L110,-1L111,-1L112,-0.5L113,-0.5L114,-1L115,-1L116,-1.2L117,-1.2L118,-0.6L119,-0.6L120,-0.8L121,-0.8L121,0Z" fill="#149158"/>
<line x1="241.70" y1="1045.79" x2="332.90" y2="1045.79" stroke="#149158" stroke-width="0.9" stroke-opacity="0.28"/>
<path transform="translate(241.7,1056.8) scale(0.7537,1)" d="M0,0L0,-0.6L1,-0.6L2,-0.7L3,-0.7L4,-0.6L5,-0.6L6,-1L7,-1L8,-0.8L9,-0.8L10,-0.5L15,-0.5L16,-0.8L17,-0.8L18,-0.9L19,-0.9L20,-0.8L21,-0.8L22,-0.7L23,-0.7L24,-0.5L25,-1L26,-2.5L27,-2.5L28,-2.8L29,-2.8L30,-1.6L31,-1.6L32,-2L33,-2L34,-1.9L35,-1.9L36,-1.7L37,-0.8L38,-0.6L39,-0.6L40,-0.9L41,-0.9L42,-1.1L43,-1.1L44,-1L45,-1L46,-0.6L47,-0.6L48,-0.7L49,-0.7L50,-0.5L51,-0.5L52,-0.7L53,-0.7L54,-0.6L55,-0.6L56,-0.8L57,-0.8L58,-1.1L59,-1.1L60,-0.8L61,-0.8L62,-1.5L63,-1.5L64,-1.2L65,-1.2L66,-1.8L67,-1.8L68,-1.3L69,-1.3L70,-1.5L71,-1.5L72,-0.9L73,-0.9L74,-1L75,-1L76,-0.8L79,-0.8L80,-0.6L81,-0.6L82,-0.9L83,-0.9L84,-0.5L85,-0.5L86,-0.8L87,-0.8L88,-1L89,-1L90,-0.9L91,-0.9L92,-0.7L93,-0.7L94,-0.9L95,-0.9L96,-0.8L97,-0.8L98,-0.5L99,-0.5L100,-0.7L107,-0.7L108,-0.8L109,-0.8L110,-0.7L111,-0.7L112,-0.8L113,-0.8L114,-1.3L115,-1.3L116,-0.8L117,-0.8L118,-1L119,-1L120,-0.6L121,-0.6L121,0Z" fill="#18a048"/>
<line x1="241.70" y1="1056.52" x2="332.90" y2="1056.52" stroke="#18a048" stroke-width="0.9" stroke-opacity="0.28"/>
<path transform="translate(337.9,906.6) scale(0.7582,1)" d="M0,0L0,-0.6L1,-0.6L2,-0.4L5,-0.4L6,-0.3L7,-0.3L8,-0.5L9,-0.5L10,-0.4L11,-0.4L12,-0.5L13,-0.5L14,-0.4L15,-0.4L16,-0.3L17,-0.3L18,-0.5L19,-0.5L20,-0.3L21,-0.3L22,-0.4L27,-0.4L28,-0.5L29,-0.5L30,-0.3L35,-0.3L36,-0.4L37,-0.4L38,-0.3L39,-0.3L40,-0.5L41,-0.5L42,-0.3L45,-0.3L46,-0.4L47,-0.4L48,-0.5L49,-0.5L50,-0.4L53,-0.4L54,-0.5L55,-0.5L56,-0.4L59,-0.4L60,-0.3L67,-0.3L68,-0.4L69,-0.4L70,-0.5L71,-0.5L72,-0.4L79,-0.4L79,0Z" fill="#6e0838"/>
<line x1="337.90" y1="906.30" x2="397.80" y2="906.30" stroke="#6e0838" stroke-width="0.9" stroke-opacity="0.28"/>
<path transform="translate(337.9,917.3) scale(0.7582,1)" d="M0,0L0,-0.3L3,-0.3L4,-0.5L7,-0.5L8,-0.3L9,-0.3L10,-0.5L11,-0.5L12,-0.4L15,-0.4L16,-0.3L25,-0.3L26,-0.4L27,-0.4L28,-0.3L31,-0.3L32,-0.4L33,-0.4L34,-0.3L35,-0.3L36,-0.4L37,-0.4L38,-0.3L41,-0.3L42,-0.4L43,-0.4L44,-0.7L45,-3.1L46,-6.3L47,-6.8L48,-4L49,-1L50,-0.4L51,-0.4L52,-0.5L55,-0.5L56,-0.3L59,-0.3L60,-0.4L61,-0.4L62,-0.3L63,-0.3L64,-0.4L69,-0.4L70,-0.5L71,-0.5L72,-0.3L75,-0.3L76,-0.4L77,-0.4L78,-0.3L79,-0.3L79,0Z" fill="#9e0838"/>
<line x1="337.90" y1="917.03" x2="397.80" y2="917.03" stroke="#9e0838" stroke-width="0.9" stroke-opacity="0.28"/>
<path transform="translate(337.9,928.1) scale(0.7582,1)" d="M0,0L0,-0.3L5,-0.3L6,-0.4L7,-0.4L8,-0.3L11,-0.3L12,-0.4L13,-0.4L14,-0.3L27,-0.3L28,-0.4L29,-0.4L30,-0.3L43,-0.3L44,-0.4L45,-1.8L46,-5.7L47,-6.2L48,-2.8L49,-0.7L50,-0.3L57,-0.3L58,-0.4L59,-0.4L60,-0.3L63,-0.3L64,-0.4L65,-0.4L66,-0.3L79,-0.3L79,0Z" fill="#d00a0a"/>
<line x1="337.90" y1="927.76" x2="397.80" y2="927.76" stroke="#d00a0a" stroke-width="0.9" stroke-opacity="0.28"/>
<path transform="translate(337.9,938.8) scale(0.7582,1)" d="M0,0L0,-0.3L1,-0.3L2,-0.4L3,-0.4L4,-0.3L21,-0.3L22,-0.4L23,-0.4L24,-0.3L25,-0.3L26,-0.4L27,-0.4L28,-0.3L39,-0.3L40,-0.4L41,-0.4L42,-0.3L43,-0.3L44,-0.5L45,-2.1L46,-3.3L47,-3.5L48,-2.4L49,-0.6L50,-0.3L51,-0.3L52,-0.4L53,-0.4L54,-0.3L79,-0.3L79,0Z" fill="#dc4410"/>
<line x1="337.90" y1="938.49" x2="397.80" y2="938.49" stroke="#dc4410" stroke-width="0.9" stroke-opacity="0.28"/>
<path transform="translate(337.9,949.5) scale(0.7582,1)" d="M0,0L0,-0.3L31,-0.3L32,-0.7L33,-1.2L34,-1.7L35,-2L36,-1.7L37,-1.4L38,-1.1L39,-0.7L40,-0.3L42,-0.3L43,-0.8L44,-1.2L45,-2.1L46,-2.9L47,-3.4L48,-3.6L49,-2.9L50,-2.6L51,-1.5L52,-0.5L53,-0.3L54,-0.3L55,-0.7L56,-2L57,-3.3L58,-3.4L59,-3.8L60,-4.2L61,-3.4L62,-2.2L63,-1.2L64,-0.4L65,-0.3L79,-0.3L79,0Z" fill="#c8700e"/>
<line x1="337.90" y1="949.22" x2="397.80" y2="949.22" stroke="#c8700e" stroke-width="0.9" stroke-opacity="0.28"/>
<path transform="translate(337.9,960.2) scale(0.7582,1)" d="M0,0L0,-0.3L21,-0.3L22,-0.6L23,-1L24,-1.4L25,-1.9L26,-2.3L27,-2.6L28,-3.4L29,-3.1L30,-2.7L31,-2.1L32,-1.4L33,-0.8L34,-0.6L35,-0.5L36,-1.1L37,-1.8L38,-2.8L39,-3.3L40,-3.3L41,-2.8L42,-1.7L43,-1L44,-0.3L45,-0.8L46,-4.3L47,-8.2L48,-8.8L49,-4L50,-0.6L51,-0.3L53,-0.3L54,-0.4L55,-1L56,-1.3L57,-2.2L58,-3.1L59,-3.6L60,-4.1L61,-3.3L62,-2.1L63,-1.2L64,-0.7L65,-0.3L79,-0.3L79,0Z" fill="#ff5e08"/>
<line x1="337.90" y1="959.95" x2="397.80" y2="959.95" stroke="#ff5e08" stroke-width="0.9" stroke-opacity="0.28"/>
<path transform="translate(337.9,971.0) scale(0.7582,1)" d="M0,0L0,-0.3L21,-0.3L22,-0.5L23,-0.9L24,-0.9L25,-1.4L26,-3.1L27,-4.3L28,-3.9L29,-4.8L30,-6.3L31,-6.7L32,-8.8L33,-8.3L34,-4.8L35,-4L36,-4.2L37,-3L38,-1.8L39,-1.2L40,-0.6L41,-0.4L42,-1.3L43,-2.5L44,-2.4L45,-3.6L46,-6.3L47,-7.1L48,-8.8L49,-7.6L50,-3.6L51,-2.4L52,-1.9L53,-1L54,-1.9L55,-3.3L56,-5.7L57,-7L58,-8.1L59,-7L60,-3.8L61,-2.3L62,-1.2L63,-0.5L64,-0.3L79,-0.3L79,0Z" fill="#ff9800"/>
<line x1="337.90" y1="970.68" x2="397.80" y2="970.68" stroke="#ff9800" stroke-width="0.9" stroke-opacity="0.28"/>
<path transform="translate(337.9,981.7) scale(0.7582,1)" d="M0,0L0,-0.3L7,-0.3L8,-0.9L9,-0.9L10,-1.3L11,-1.3L12,-1.5L15,-1.5L16,-1.6L17,-1.6L18,-1.4L19,-1.4L20,-1.6L21,-1.6L22,-1.8L23,-1.8L24,-1.7L25,-1.7L26,-0.8L27,-0.8L28,-1.8L29,-1.8L30,-1.4L31,-1.4L32,-1L33,-1L34,-1.8L35,-1.8L36,-1.1L37,-1.1L38,-1.4L39,-1.4L40,-0.8L41,-0.8L42,-1.4L43,-1.4L44,-0.9L45,-2.3L46,-5.1L47,-5.5L48,-3.7L49,-1.2L50,-0.6L51,-0.6L52,-1.2L53,-1.2L54,-1.1L55,-1.1L56,-1.2L57,-1.3L58,-2.2L59,-2.2L60,-1.4L61,-1.1L62,-0.7L63,-0.7L64,-0.3L79,-0.3L79,0Z" fill="#04045e"/>
<line x1="337.90" y1="981.41" x2="397.80" y2="981.41" stroke="#04045e" stroke-width="0.9" stroke-opacity="0.28"/>
<path transform="translate(337.9,992.4) scale(0.7582,1)" d="M0,0L0,-0.3L14,-0.3L15,-1.1L16,-1.7L17,-1.7L18,-1.6L19,-1.6L20,-1.4L21,-2.7L22,-3L23,-2.5L24,-2.5L25,-1.4L26,-1.6L27,-1.6L28,-0.9L29,-0.9L30,-1.2L31,-1.2L32,-2.3L33,-3.2L34,-3L35,-2.4L36,-1.6L39,-1.6L40,-1.1L43,-1.1L44,-0.9L45,-2L46,-5L47,-5.2L48,-3.5L49,-1.6L50,-1.2L51,-2.4L52,-2.5L53,-2.2L54,-1.1L55,-0.7L56,-0.9L57,-0.9L58,-2L59,-2L60,-1.3L61,-2.1L62,-2.1L63,-1.5L64,-1.1L65,-1.1L66,-1.7L67,-1.7L68,-0.3L79,-0.3L79,0Z" fill="#0b2c98"/>
<line x1="337.90" y1="992.14" x2="397.80" y2="992.14" stroke="#0b2c98" stroke-width="0.9" stroke-opacity="0.28"/>
<path transform="translate(337.9,1003.2) scale(0.7582,1)" d="M0,0L0,-0.8L1,-0.8L2,-1.2L3,-1.2L4,-0.9L5,-0.9L6,-1.1L7,-1.1L8,-0.9L11,-0.9L12,-0.5L13,-0.5L14,-1.4L15,-1.4L16,-1.1L17,-1.1L18,-1.3L19,-1.3L20,-1.5L21,-2.1L22,-2.7L23,-1.7L24,-1.2L25,-1.2L26,-0.7L27,-0.7L28,-0.9L29,-0.9L30,-1.1L32,-1.1L33,-1.3L34,-1.2L35,-1L36,-0.9L37,-0.9L38,-1.1L39,-1.1L40,-1.3L41,-1.3L42,-0.9L43,-0.9L44,-1L45,-1.8L46,-4.1L47,-4.3L48,-2.9L49,-1.4L50,-1L51,-1.4L52,-2L53,-1.8L54,-1.2L55,-1.2L56,-0.6L57,-0.6L58,-1.5L59,-2L60,-1.3L61,-0.9L62,-1L63,-1L64,-1.4L65,-1.4L66,-0.7L67,-0.7L68,-1.1L69,-1.1L70,-0.9L71,-0.9L72,-1.1L74,-1.1L75,-1.7L76,-0.9L79,-0.9L79,0Z" fill="#1a62d4"/>
<line x1="337.90" y1="1002.87" x2="397.80" y2="1002.87" stroke="#1a62d4" stroke-width="0.9" stroke-opacity="0.28"/>
<path transform="translate(337.9,1013.9) scale(0.7582,1)" d="M0,0L0,-0.6L1,-0.6L2,-0.8L5,-0.8L6,-0.5L7,-0.5L8,-1L9,-1L10,-0.6L11,-0.6L12,-0.8L13,-0.8L14,-0.7L15,-0.7L16,-1L17,-1L18,-1.2L19,-1.2L20,-2.3L21,-3.2L22,-2.1L23,-1.3L24,-0.7L25,-0.5L26,-0.7L27,-0.7L28,-0.9L29,-0.9L30,-0.4L31,-0.4L32,-1.3L33,-1.4L34,-1.2L35,-0.9L36,-0.7L39,-0.7L40,-0.6L41,-0.6L42,-1L43,-1L44,-0.9L45,-2.2L46,-3.6L47,-3.7L48,-1.6L49,-0.8L50,-0.9L53,-0.9L54,-1.2L55,-1.6L56,-1L57,-0.6L58,-0.8L59,-0.8L60,-0.6L61,-0.6L62,-0.8L63,-0.8L64,-1.2L65,-1.2L66,-0.6L69,-0.6L70,-1L73,-1L74,-0.7L75,-0.7L76,-0.6L77,-0.6L78,-1L79,-1L79,0Z" fill="#229ef6"/>
<line x1="337.90" y1="1013.60" x2="397.80" y2="1013.60" stroke="#229ef6" stroke-width="0.9" stroke-opacity="0.28"/>
<path transform="translate(337.9,1024.6) scale(0.7582,1)" d="M0,0L0,-2.7L1,-2.7L2,-3.5L3,-3.5L4,-2L5,-2L6,-1.9L7,-1.9L8,-4.1L9,-4.1L10,-5.1L11,-5.1L12,-2.1L13,-2.1L14,-3L15,-3L16,-1.3L17,-1.3L18,-5.2L19,-8.7L20,-3.9L21,-2.1L22,-2.9L23,-2.9L24,-3.2L25,-3.2L26,-3L27,-3L28,-2L29,-2L30,-3.6L31,-3.6L32,-2.2L33,-2.2L34,-1.9L35,-1.9L36,-3.9L37,-3.9L38,-3.4L39,-3.4L40,-1.8L41,-1.8L42,-2.9L43,-0.5L44,-0.6L45,-0.6L46,-0.4L47,-0.4L48,-0.7L49,-0.7L50,-0.4L51,-0.4L52,-0.6L53,-0.6L54,-0.3L55,-0.3L56,-0.8L57,-0.8L58,-0.7L59,-0.7L60,-0.8L61,-0.8L62,-0.3L63,-0.3L64,-0.5L65,-0.5L66,-0.6L67,-0.6L68,-0.4L69,-0.4L70,-0.3L79,-0.3L79,0Z" fill="#0a5c55"/>
<line x1="337.90" y1="1024.33" x2="397.80" y2="1024.33" stroke="#0a5c55" stroke-width="0.9" stroke-opacity="0.28"/>
<path transform="translate(337.9,1035.4) scale(0.7582,1)" d="M0,0L0,-3.4L1,-3.4L2,-1.6L3,-1.6L4,-5L5,-5L6,-1.7L7,-1.7L8,-3.6L9,-3.6L10,-3.1L11,-3.1L12,-2.5L13,-2.5L14,-2.8L15,-2.8L16,-4.7L17,-4.7L18,-3L19,-3L20,-1.9L21,-2.6L22,-4.7L23,-3.2L24,-0.9L25,-0.3L31,-0.3L32,-2.2L33,-4.6L34,-3.4L35,-0.8L36,-0.3L46,-0.3L47,-2.4L48,-2.4L49,-0.3L70,-0.3L71,-0.8L72,-0.3L79,-0.3L79,0Z" fill="#0a6230"/>
<line x1="337.90" y1="1035.06" x2="397.80" y2="1035.06" stroke="#0a6230" stroke-width="0.9" stroke-opacity="0.28"/>
<path transform="translate(337.9,1046.1) scale(0.7582,1)" d="M0,0L0,-2.2L1,-2.2L2,-3.1L3,-3.1L4,-2.5L5,-2.5L6,-2.3L7,-2.3L8,-3.3L9,-3.3L10,-1.7L13,-1.7L14,-2.8L15,-2.8L16,-2.9L17,-2.9L18,-3.7L19,-6.2L20,-5.7L21,-4.2L22,-2.5L23,-2.1L24,-2.6L25,-2.6L26,-1.8L27,-1.8L28,-4.3L29,-4.3L30,-3.8L31,-3.8L32,-2.5L33,-2.5L34,-2.6L35,-0.3L39,-0.3L40,-0.8L41,-0.8L42,-1.2L43,-1.2L44,-1.3L45,-1.3L46,-0.7L47,-0.7L48,-1.2L49,-1.2L50,-0.8L51,-0.8L52,-1L53,-1L54,-1.4L55,-1.4L56,-0.3L79,-0.3L79,0Z" fill="#149158"/>
<line x1="337.90" y1="1045.79" x2="397.80" y2="1045.79" stroke="#149158" stroke-width="0.9" stroke-opacity="0.28"/>
<path transform="translate(337.9,1056.8) scale(0.7582,1)" d="M0,0L0,-2.6L1,-2.6L2,-4.1L3,-4.1L4,-3.3L5,-3.3L6,-3.7L7,-3.7L8,-4.6L9,-4.6L10,-3.7L11,-3.7L12,-5.4L13,-5.4L14,-2L15,-2L16,-4.1L17,-4.1L18,-3L19,-3L20,-2.9L21,-5.6L22,-8.5L23,-7.3L24,-4.2L25,-4.2L26,-5.8L27,-5.8L28,-2.6L29,-2.6L30,-4.5L31,-4.5L32,-1.8L33,-1.8L34,-2.3L35,-2.3L36,-2.2L37,-2.2L38,-3.1L39,-3.1L40,-0.8L41,-0.8L42,-0.7L43,-0.7L44,-0.9L45,-0.9L46,-0.7L47,-0.7L48,-0.5L49,-0.5L50,-0.8L51,-0.8L52,-0.5L53,-0.5L54,-0.4L55,-0.4L56,-1.1L57,-1.1L58,-0.6L59,-0.6L60,-0.8L61,-0.8L62,-0.4L63,-0.4L64,-0.3L79,-0.3L79,0Z" fill="#18a048"/>
<line x1="337.90" y1="1056.52" x2="397.80" y2="1056.52" stroke="#18a048" stroke-width="0.9" stroke-opacity="0.28"/>
<path transform="translate(401.7,906.6) scale(0.7506,1)" d="M0,0L0,-1.5L1,-1.5L2,-1.6L3,-1.6L4,-1L5,-1L6,-0.8L9,-0.8L10,-1L11,-1L12,-1.9L13,-1.9L14,-1.1L15,-1.1L16,-1L17,-1L18,-0.6L19,-0.6L20,-0.9L21,-0.9L22,-0.8L23,-0.8L24,-0.5L25,-0.5L26,-1.5L27,-1.5L28,-0.9L29,-1.1L30,-1.6L31,-1.8L32,-2.5L33,-2.8L34,-1.9L35,-2L36,-3L37,-3.1L38,-3.3L39,-3.4L40,-2.4L41,-2.4L42,-3.6L43,-3.7L44,-2.4L45,-2.4L46,-3.8L47,-3.8L48,-2.5L49,-2.5L50,-3.8L53,-3.8L54,-2.6L55,-2.6L56,-2.2L57,-2.1L58,-2L59,-1.9L60,-1.8L61,-1.7L62,-2.1L63,-1.8L64,-1.1L65,-0.9L66,-0.7L67,-0.7L68,-1.1L69,-1.1L70,-0.9L71,-0.9L72,-1.1L73,-1.1L74,-0.9L75,-0.9L76,-1L77,-1L77,0Z" fill="#6e0838"/>
<line x1="401.70" y1="906.30" x2="459.50" y2="906.30" stroke="#6e0838" stroke-width="0.9" stroke-opacity="0.28"/>
<path transform="translate(401.7,917.3) scale(0.7506,1)" d="M0,0L0,-0.3L10,-0.3L11,-1L12,-0.9L13,-0.9L14,-1.2L16,-1.2L17,-1.4L18,-1.6L19,-1.8L20,-1.8L21,-1.9L22,-2L23,-2.1L24,-2.3L25,-2.4L26,-3.8L27,-3.9L28,-3.5L29,-3.5L30,-3.6L31,-5.6L32,-3L33,-3L34,-5.3L35,-5.3L36,-4L37,-4L38,-2.8L39,-2.8L40,-2.5L41,-2.5L42,-3.1L43,-3.1L44,-3.3L45,-3.2L46,-2.3L47,-2.3L48,-2.7L49,-2.7L50,-2.4L51,-2.2L52,-3.3L53,-3.3L54,-2.8L55,-2.8L56,-1.4L57,-1.4L58,-1.1L59,-1.1L60,-1.4L61,-1.4L62,-0.8L63,-1.5L64,-5.1L65,-9.5L66,-4.9L67,-6.9L68,-9.2L69,-3.2L70,-1.4L71,-1.3L72,-0.8L73,-0.8L74,-0.4L75,-0.3L77,-0.3L77,0Z" fill="#9e0838"/>
<line x1="401.70" y1="917.03" x2="459.50" y2="917.03" stroke="#9e0838" stroke-width="0.9" stroke-opacity="0.28"/>
<path transform="translate(401.7,928.1) scale(0.7506,1)" d="M0,0L0,-0.3L10,-0.3L11,-0.8L12,-0.9L13,-0.9L14,-1.4L15,-1.7L16,-1.3L17,-1.5L18,-2.8L19,-3.1L20,-2.4L21,-2.6L22,-3.1L23,-3.2L24,-3.4L25,-3.4L26,-3.6L27,-3.7L28,-2.6L29,-2.6L30,-4.2L31,-6.3L32,-3.5L33,-3.5L34,-5.4L35,-5.4L36,-3.5L37,-3.5L38,-2.9L39,-2.9L40,-3.7L41,-3.7L42,-2.6L43,-2.5L44,-4.7L45,-4.7L46,-2.4L47,-2.3L48,-3.5L49,-3.5L50,-5.4L51,-5.4L52,-2.6L53,-2.6L54,-2.8L55,-2.8L56,-1.1L57,-1.1L58,-1.8L59,-1.8L60,-0.6L61,-0.6L62,-1.2L63,-2.1L64,-3L65,-5.8L66,-4.2L67,-6.3L68,-9.5L69,-3.7L70,-1.2L71,-1.2L72,-1L73,-1L74,-1.1L75,-0.3L77,-0.3L77,0Z" fill="#d00a0a"/>
<line x1="401.70" y1="927.76" x2="459.50" y2="927.76" stroke="#d00a0a" stroke-width="0.9" stroke-opacity="0.28"/>
<path transform="translate(401.7,938.8) scale(0.7506,1)" d="M0,0L0,-0.3L10,-0.3L11,-0.4L12,-0.8L13,-0.8L14,-1L16,-1L17,-1.2L18,-1.5L19,-1.6L20,-1.8L21,-1.9L22,-1.9L23,-2L24,-1.6L25,-1.6L26,-1.5L28,-1.5L29,-1.6L30,-2.3L31,-3.8L32,-2.2L33,-2.2L34,-1.8L35,-1.8L36,-1.9L37,-1.9L38,-2.8L39,-2.8L40,-3.4L41,-3.4L42,-1.9L43,-1.9L44,-2.2L45,-2.2L46,-1.8L47,-1.8L48,-3.6L49,-3.6L50,-2L51,-2L52,-3.4L53,-3.4L54,-3.6L55,-3.6L56,-0.8L57,-0.8L58,-0.9L59,-0.9L60,-0.5L61,-0.5L62,-0.4L63,-1.2L64,-1.6L65,-3.1L66,-2.7L67,-3.6L68,-4.6L69,-2L70,-0.7L71,-0.5L72,-1.1L73,-1.1L74,-1L75,-0.3L77,-0.3L77,0Z" fill="#dc4410"/>
<line x1="401.70" y1="938.49" x2="459.50" y2="938.49" stroke="#dc4410" stroke-width="0.9" stroke-opacity="0.28"/>
<path transform="translate(401.7,949.5) scale(0.7506,1)" d="M0,0L0,-0.3L33,-0.3L34,-1.1L35,-2.1L36,-2.2L37,-1.9L38,-1.6L39,-1.4L40,-1.1L41,-1.3L42,-2.2L43,-2.2L44,-1.4L45,-1.4L46,-2.1L47,-2.9L48,-2.9L49,-3.4L50,-5.1L51,-4.9L52,-3.8L53,-3L54,-1.9L55,-2.1L56,-2L57,-1.8L58,-1.2L59,-0.5L60,-0.3L77,-0.3L77,0Z" fill="#c8700e"/>
<line x1="401.70" y1="949.22" x2="459.50" y2="949.22" stroke="#c8700e" stroke-width="0.9" stroke-opacity="0.28"/>
<path transform="translate(401.7,960.2) scale(0.7506,1)" d="M0,0L0,-0.3L35,-0.3L36,-4.2L37,-4.2L38,-0.9L39,-1.1L40,-1L41,-1.1L42,-1.2L43,-1.2L44,-1.6L45,-1.6L46,-1.2L47,-2.4L48,-5.9L49,-7.9L50,-8.9L51,-8.2L52,-5.9L53,-3.7L54,-2.2L55,-3.6L56,-3.4L57,-3L58,-2.2L59,-0.8L60,-0.3L77,-0.3L77,0Z" fill="#ff5e08"/>
<line x1="401.70" y1="959.95" x2="459.50" y2="959.95" stroke="#ff5e08" stroke-width="0.9" stroke-opacity="0.28"/>
<path transform="translate(401.7,971.0) scale(0.7506,1)" d="M0,0L0,-0.3L32,-0.3L33,-0.4L34,-0.9L35,-1.8L36,-3.4L37,-3L38,-2.1L39,-2.4L40,-2.2L41,-2.4L42,-2.1L43,-2.1L44,-1.9L45,-1.9L46,-3.1L47,-5.1L48,-6.1L49,-7.6L50,-6.7L51,-6.3L52,-5.8L53,-4.1L54,-3.4L55,-3.9L56,-4.2L57,-3.7L58,-2.5L59,-1L60,-0.3L77,-0.3L77,0Z" fill="#ff9800"/>
<line x1="401.70" y1="970.68" x2="459.50" y2="970.68" stroke="#ff9800" stroke-width="0.9" stroke-opacity="0.28"/>
<path transform="translate(401.7,981.7) scale(0.7506,1)" d="M0,0L0,-0.3L8,-0.3L9,-0.4L11,-0.4L12,-0.7L13,-0.8L14,-0.7L15,-0.8L16,-0.7L17,-0.7L18,-1.1L19,-1.2L20,-0.9L21,-1L22,-1.5L23,-1.5L24,-1.4L25,-1.4L26,-1.1L27,-1.1L28,-1.7L29,-1.7L30,-1.2L31,-1.2L32,-1.7L33,-2.2L34,-2.1L35,-2.9L36,-4L37,-3.8L38,-3.5L39,-2.3L40,-1.5L41,-2.3L42,-3.4L43,-4.2L44,-4.1L45,-4.2L46,-5.2L47,-4.7L48,-6.9L49,-8.1L50,-6.4L51,-6.1L52,-6.5L53,-5L54,-3.2L55,-2.4L56,-3L57,-2.8L58,-2.6L59,-1.7L60,-0.9L61,-0.9L62,-0.7L63,-0.7L64,-0.6L66,-0.6L67,-0.7L68,-1.6L69,-2.3L70,-2.1L71,-1.2L72,-0.3L77,-0.3L77,0Z" fill="#04045e"/>
<line x1="401.70" y1="981.41" x2="459.50" y2="981.41" stroke="#04045e" stroke-width="0.9" stroke-opacity="0.28"/>
<path transform="translate(401.7,992.4) scale(0.7506,1)" d="M0,0L0,-0.4L1,-0.4L2,-0.5L3,-0.5L4,-0.3L9,-0.3L10,-0.4L11,-0.4L12,-0.3L13,-0.3L14,-0.5L15,-0.5L16,-0.4L17,-0.4L18,-0.3L25,-0.3L26,-0.4L27,-0.4L28,-0.3L35,-0.3L36,-4.7L37,-4.7L38,-0.4L39,-0.4L40,-0.6L41,-1.3L42,-2.3L43,-2.8L44,-2.7L45,-2.8L46,-3.2L47,-3.7L48,-6.1L49,-8.2L50,-6.9L51,-6.4L52,-6.2L53,-3.9L54,-1.5L55,-1.8L56,-3.4L57,-3L58,-1.9L59,-0.7L60,-0.4L61,-0.4L62,-0.5L63,-0.5L64,-0.3L65,-0.3L66,-0.5L67,-0.5L68,-0.3L75,-0.3L76,-0.4L77,-0.4L77,0Z" fill="#0b2c98"/>
<line x1="401.70" y1="992.14" x2="459.50" y2="992.14" stroke="#0b2c98" stroke-width="0.9" stroke-opacity="0.28"/>
<path transform="translate(401.7,1003.2) scale(0.7506,1)" d="M0,0L0,-0.5L1,-0.5L2,-0.4L3,-0.4L4,-0.3L5,-0.3L6,-0.4L7,-0.4L8,-0.3L11,-0.3L12,-0.4L13,-0.4L14,-0.7L15,-0.7L16,-0.4L17,-0.4L18,-0.3L19,-0.3L20,-0.4L21,-0.6L22,-0.6L23,-0.9L24,-1L25,-1.2L26,-1.5L27,-1.8L28,-1.9L29,-2.1L30,-2.8L31,-3L32,-4.4L33,-4.6L34,-4.5L35,-4.6L36,-5L37,-5L38,-3.4L39,-3.4L40,-4.1L41,-4.1L42,-3.1L43,-3.1L44,-3.6L45,-4.3L46,-6.5L47,-7.4L48,-8.1L49,-8.1L50,-6.2L51,-5.4L52,-4.3L53,-3.4L54,-4.2L55,-4L56,-2.3L57,-2.1L58,-3L59,-2.7L60,-2L61,-1.7L62,-1.4L63,-1.1L64,-0.9L65,-0.6L66,-0.3L67,-0.3L68,-0.4L69,-0.4L70,-0.3L77,-0.3L77,0Z" fill="#1a62d4"/>
<line x1="401.70" y1="1002.87" x2="459.50" y2="1002.87" stroke="#1a62d4" stroke-width="0.9" stroke-opacity="0.28"/>
<path transform="translate(401.7,1013.9) scale(0.7506,1)" d="M0,0L0,-0.3L1,-0.3L2,-0.6L3,-0.6L4,-0.5L7,-0.5L8,-0.3L13,-0.3L14,-0.5L17,-0.5L18,-0.4L20,-0.4L21,-0.5L22,-0.6L23,-0.9L24,-1L25,-1.3L26,-1.3L27,-1.5L28,-2.1L29,-2.3L30,-2.8L31,-3L32,-2.6L33,-2.7L34,-3.5L35,-3.5L36,-3.2L37,-3.3L38,-4.1L39,-4.1L40,-3.4L41,-3.5L42,-2.9L43,-2.9L44,-3.4L45,-4.2L46,-6.2L47,-7.1L48,-4.9L49,-4.9L50,-5.9L51,-5.2L52,-4.6L53,-3.5L54,-2.3L55,-2.2L56,-2.6L57,-2.4L58,-2.2L59,-1.9L60,-2L61,-1.7L62,-1.2L63,-0.9L64,-0.8L65,-0.6L66,-0.4L67,-0.3L68,-0.6L69,-0.6L70,-0.5L71,-0.5L72,-0.3L75,-0.3L76,-0.4L77,-0.4L77,0Z" fill="#229ef6"/>
<line x1="401.70" y1="1013.60" x2="459.50" y2="1013.60" stroke="#229ef6" stroke-width="0.9" stroke-opacity="0.28"/>
<path transform="translate(401.7,1024.6) scale(0.7506,1)" d="M0,0L0,-1.3L1,-1.3L2,-0.7L3,-0.7L4,-0.8L5,-0.8L6,-1.4L7,-1.4L8,-0.6L9,-0.6L10,-0.5L11,-0.5L12,-1L13,-1L14,-0.7L15,-0.7L16,-1.4L17,-1.4L18,-1.5L19,-1.5L20,-0.4L21,-0.4L22,-1L23,-1L24,-1.7L25,-1.7L26,-1.3L27,-1.3L28,-0.5L29,-0.5L30,-0.7L31,-0.7L32,-0.8L33,-0.8L34,-0.9L35,-0.9L36,-1L37,-1L38,-0.9L39,-0.9L40,-1.2L41,-1.2L42,-0.5L43,-0.5L44,-1.3L45,-1.3L46,-0.9L47,-0.9L48,-0.8L49,-0.8L50,-1.1L51,-1.1L52,-0.7L53,-0.7L54,-1L55,-1L56,-0.8L57,-0.8L58,-0.7L59,-0.7L60,-0.6L61,-0.6L62,-0.7L63,-0.7L64,-1.2L65,-1.2L66,-0.7L67,-0.7L68,-0.9L69,-0.9L70,-0.6L71,-0.6L72,-1.1L73,-1.1L74,-1.2L75,-1.2L76,-0.8L77,-0.8L77,0Z" fill="#0a5c55"/>
<line x1="401.70" y1="1024.33" x2="459.50" y2="1024.33" stroke="#0a5c55" stroke-width="0.9" stroke-opacity="0.28"/>
<path transform="translate(401.7,1035.4) scale(0.7506,1)" d="M0,0L0,-1.3L1,-1.3L2,-1.2L3,-1.2L4,-1.3L5,-1.3L6,-2.2L7,-2.2L8,-1.3L9,-1.3L10,-1.6L11,-1.6L12,-1.9L13,-1.9L14,-1.5L15,-1.5L16,-1.1L17,-1.1L18,-2L19,-2L20,-1.7L23,-1.7L24,-1.4L25,-1.4L26,-2.3L27,-2.3L28,-2.1L29,-2.1L30,-1.9L31,-1.9L32,-1.5L33,-1.5L34,-1.6L35,-1.6L36,-2.5L37,-2.5L38,-1.8L39,-1.8L40,-2.2L43,-2.2L44,-2.1L45,-2.1L46,-2.2L47,-2.2L48,-2.6L49,-2.6L50,-1.6L51,-1.6L52,-2.2L53,-2.2L54,-1.8L55,-1.8L56,-2.1L57,-2.1L58,-2L59,-2L60,-0.8L61,-0.8L62,-1.6L63,-1.6L64,-1.2L65,-1.2L66,-1.7L67,-1.7L68,-1.9L69,-1.9L70,-1.6L71,-1.6L72,-1.1L73,-1.1L74,-1.5L75,-1.5L76,-2.1L77,-2.1L77,0Z" fill="#0a6230"/>
<line x1="401.70" y1="1035.06" x2="459.50" y2="1035.06" stroke="#0a6230" stroke-width="0.9" stroke-opacity="0.28"/>
<path transform="translate(401.7,1046.1) scale(0.7506,1)" d="M0,0L0,-1.7L1,-1.7L2,-1.2L3,-1.2L4,-2.2L5,-2.2L6,-1.7L7,-1.7L8,-1.3L9,-1.3L10,-1.2L13,-1.2L14,-1.1L15,-1.1L16,-1.5L17,-1.5L18,-1.7L21,-1.7L22,-0.9L23,-0.9L24,-1.4L25,-1.4L26,-2L27,-2L28,-1.2L29,-1.2L30,-1.7L31,-1.7L32,-1.6L33,-1.6L34,-1L37,-1L38,-1.3L39,-1.3L40,-1.2L41,-1.2L42,-1.5L43,-1.5L44,-0.8L45,-0.8L46,-1.1L47,-1.1L48,-1.6L49,-1.6L50,-1.3L51,-1.3L52,-1.1L53,-1.1L54,-1.3L55,-1.3L56,-1.6L57,-1.6L58,-1.4L59,-1.4L60,-1.6L61,-1.6L62,-1.2L63,-1.2L64,-1L65,-1L66,-1.7L67,-1.7L68,-0.8L69,-0.8L70,-1.2L71,-1.2L72,-1.1L73,-1.1L74,-1L77,-1L77,0Z" fill="#149158"/>
<line x1="401.70" y1="1045.79" x2="459.50" y2="1045.79" stroke="#149158" stroke-width="0.9" stroke-opacity="0.28"/>
<path transform="translate(401.7,1056.8) scale(0.7506,1)" d="M0,0L0,-1.7L3,-1.7L4,-2.8L5,-2.8L6,-1.8L7,-1.8L8,-2.2L9,-2.2L10,-3.2L11,-3.2L12,-1.3L13,-1.3L14,-2.7L15,-2.7L16,-2.5L17,-2.5L18,-2.3L19,-2.3L20,-1L21,-1L22,-1.5L23,-1.5L24,-1.7L25,-1.7L26,-3L27,-3L28,-2.3L29,-2.3L30,-2.5L31,-2.5L32,-1.2L33,-1.2L34,-1.8L35,-1.8L36,-1.4L37,-1.4L38,-1.8L39,-1.8L40,-2.5L41,-2.5L42,-2.2L43,-2.2L44,-3.1L45,-3.1L46,-2.8L47,-2.8L48,-2.4L49,-4.3L50,-5.4L51,-4.4L52,-2.9L53,-2.6L54,-1.1L55,-1.1L56,-2.1L59,-2.1L60,-1L61,-1L62,-1.9L63,-1.9L64,-2.9L65,-2.9L66,-1.5L67,-1.5L68,-1.9L69,-1.9L70,-2.7L71,-2.7L72,-1.1L73,-1.1L74,-2.9L75,-2.9L76,-1.7L77,-1.7L77,0Z" fill="#18a048"/>
<line x1="401.70" y1="1056.52" x2="459.50" y2="1056.52" stroke="#18a048" stroke-width="0.9" stroke-opacity="0.28"/>
<path transform="translate(465.0,906.6) scale(0.7521,1)" d="M0,0L0,-0.4L5,-0.4L6,-0.3L7,-0.3L8,-0.4L9,-0.4L10,-0.3L11,-0.3L12,-0.5L13,-0.5L14,-0.4L17,-0.4L18,-0.5L19,-0.5L20,-0.4L21,-0.4L22,-0.5L23,-0.5L24,-0.4L25,-0.4L26,-0.6L27,-0.6L28,-0.3L29,-0.3L30,-0.6L31,-0.6L32,-0.5L33,-0.5L34,-0.7L35,-0.7L36,-0.6L37,-0.6L38,-0.4L39,-0.4L40,-0.9L41,-0.9L42,-0.4L45,-0.4L46,-0.6L47,-0.6L48,-0.3L49,-0.3L50,-0.4L51,-0.4L52,-0.8L53,-0.8L54,-0.4L55,-0.4L56,-0.7L57,-0.7L58,-0.5L59,-0.5L60,-0.4L63,-0.4L64,-0.9L65,-0.9L66,-0.6L67,-0.6L68,-0.3L73,-0.3L74,-0.5L75,-0.5L76,-0.7L77,-0.7L78,-0.4L79,-0.4L80,-0.3L81,-0.3L82,-0.4L85,-0.4L86,-0.5L87,-0.5L88,-0.8L89,-0.8L90,-0.4L91,-0.4L92,-0.8L93,-0.8L94,-0.4L95,-0.4L96,-0.5L97,-0.5L98,-0.6L99,-0.6L100,-0.4L101,-0.4L102,-0.9L103,-0.9L104,-0.8L105,-0.8L106,-0.3L107,-0.3L108,-0.4L109,-0.4L110,-0.7L113,-0.7L114,-0.6L115,-0.6L116,-0.4L117,-0.4L117,0Z" fill="#6e0838"/>
<line x1="465.00" y1="906.30" x2="553.00" y2="906.30" stroke="#6e0838" stroke-width="0.9" stroke-opacity="0.28"/>
<path transform="translate(465.0,917.3) scale(0.7521,1)" d="M0,0L0,-0.7L1,-0.7L2,-0.3L3,-0.3L4,-0.4L5,-0.4L6,-0.5L7,-0.5L8,-0.4L9,-0.4L10,-0.7L11,-0.7L12,-0.4L13,-0.4L14,-0.7L15,-0.7L16,-0.5L17,-0.7L18,-1.7L19,-3L20,-3.4L21,-4.8L22,-6.9L23,-7.7L24,-7.6L25,-6.7L26,-5.3L27,-3.7L28,-1.7L29,-0.9L30,-0.6L31,-0.4L33,-0.4L34,-0.5L35,-0.5L36,-1L37,-1.5L38,-1.5L39,-1.9L40,-2.4L41,-2.5L42,-2.3L43,-2L44,-1.4L45,-1.1L46,-0.8L47,-0.5L48,-0.6L49,-0.6L50,-0.5L51,-0.5L52,-0.3L53,-0.3L54,-0.4L55,-0.4L56,-0.5L57,-0.5L58,-0.7L59,-0.7L60,-0.4L61,-0.4L62,-0.5L63,-0.5L64,-0.6L65,-0.6L66,-0.3L67,-0.3L68,-0.5L71,-0.5L72,-0.6L75,-0.6L76,-0.5L77,-0.5L78,-0.3L79,-0.3L80,-0.4L81,-0.4L82,-0.5L83,-0.8L84,-0.9L85,-1.2L86,-1.8L87,-2L88,-1.6L89,-1.5L90,-1.7L91,-1.3L92,-0.9L93,-0.6L94,-0.4L95,-0.4L96,-0.3L97,-0.3L98,-0.7L99,-0.7L100,-0.3L101,-0.3L102,-0.7L103,-0.7L104,-0.5L105,-0.5L106,-0.7L107,-0.7L108,-0.8L109,-1L110,-1L111,-1.1L112,-1.2L113,-0.9L114,-0.5L115,-0.4L116,-0.7L117,-0.7L117,0Z" fill="#9e0838"/>
<line x1="465.00" y1="917.03" x2="553.00" y2="917.03" stroke="#9e0838" stroke-width="0.9" stroke-opacity="0.28"/>
<path transform="translate(465.0,928.1) scale(0.7521,1)" d="M0,0L0,-0.3L5,-0.3L6,-0.4L9,-0.4L10,-0.5L13,-0.5L14,-0.3L15,-0.3L16,-0.4L17,-0.4L18,-0.6L19,-1.6L20,-2.8L21,-4.8L22,-5.1L23,-6L24,-7.7L25,-6.3L26,-4.1L27,-2.3L28,-1.1L29,-0.5L30,-0.3L31,-0.3L32,-0.5L33,-0.5L34,-0.3L35,-0.4L36,-0.7L37,-1.1L38,-1.4L39,-1.6L40,-1.9L41,-2L42,-1.8L43,-1.6L44,-1.8L45,-1.3L46,-0.9L47,-0.6L48,-0.4L51,-0.4L52,-0.3L55,-0.3L56,-0.5L58,-0.5L59,-0.6L60,-1L61,-1.3L62,-1.7L63,-1.9L64,-2L65,-2L66,-1.4L67,-1.2L68,-0.8L69,-0.6L70,-0.5L71,-0.4L72,-0.3L75,-0.3L76,-0.6L77,-0.6L78,-0.3L79,-0.3L80,-0.5L83,-0.5L84,-0.4L85,-0.4L86,-0.5L87,-0.5L88,-0.4L89,-0.6L90,-1L91,-1.3L92,-1.9L93,-2.1L94,-2.2L95,-2.1L96,-1.4L97,-1.1L98,-0.7L99,-0.5L100,-0.4L101,-0.4L102,-0.3L107,-0.3L108,-0.4L109,-0.4L110,-0.3L111,-0.3L112,-0.5L113,-0.5L114,-0.4L115,-0.4L116,-0.3L117,-0.3L117,0Z" fill="#d00a0a"/>
<line x1="465.00" y1="927.76" x2="553.00" y2="927.76" stroke="#d00a0a" stroke-width="0.9" stroke-opacity="0.28"/>
<path transform="translate(465.0,938.8) scale(0.7521,1)" d="M0,0L0,-0.3L1,-0.3L2,-0.5L3,-0.5L4,-0.3L11,-0.3L12,-0.4L13,-0.4L14,-0.3L15,-0.3L16,-0.4L17,-0.7L18,-1.2L19,-1.8L20,-2.1L21,-2.7L22,-2.7L23,-2.9L24,-2.5L25,-2.3L26,-3.1L27,-2.4L28,-1.2L29,-0.8L30,-0.6L31,-0.4L32,-0.3L35,-0.3L36,-0.4L37,-0.4L38,-0.3L49,-0.3L50,-0.4L53,-0.4L54,-0.5L55,-0.6L56,-0.9L57,-1L59,-1L60,-0.9L61,-0.8L62,-0.6L63,-0.4L64,-0.3L67,-0.3L68,-0.4L71,-0.4L72,-0.3L79,-0.3L80,-0.5L81,-0.5L82,-0.3L91,-0.3L92,-0.5L93,-0.5L94,-0.3L95,-0.3L96,-0.4L101,-0.4L102,-0.3L111,-0.3L112,-0.4L113,-0.4L114,-0.3L115,-0.3L116,-0.4L117,-0.4L117,0Z" fill="#dc4410"/>
<line x1="465.00" y1="938.49" x2="553.00" y2="938.49" stroke="#dc4410" stroke-width="0.9" stroke-opacity="0.28"/>
<path transform="translate(465.0,949.5) scale(0.7521,1)" d="M0,0L0,-0.4L3,-0.4L4,-0.3L11,-0.3L12,-0.4L13,-0.4L14,-0.3L19,-0.3L20,-0.6L21,-0.6L22,-0.7L23,-0.8L24,-0.7L25,-0.6L26,-0.6L27,-0.3L28,-0.6L29,-0.6L30,-0.3L33,-0.3L34,-0.4L37,-0.4L38,-0.3L39,-0.3L40,-0.5L41,-0.5L42,-0.3L43,-0.3L44,-0.4L45,-0.4L46,-0.3L47,-0.3L48,-0.5L49,-0.5L50,-0.4L51,-0.5L52,-0.9L53,-0.9L54,-0.6L55,-0.4L56,-0.3L63,-0.3L64,-0.4L65,-0.4L66,-0.3L69,-0.3L70,-0.4L71,-0.4L72,-0.3L73,-0.3L74,-0.4L75,-0.4L76,-0.6L77,-0.6L78,-0.5L81,-0.5L82,-0.3L83,-0.3L84,-0.5L85,-0.5L86,-0.3L89,-0.3L90,-0.5L91,-0.5L92,-0.3L93,-0.3L94,-0.5L99,-0.5L100,-0.3L103,-0.3L104,-0.4L105,-0.4L106,-0.3L111,-0.3L112,-0.5L113,-0.5L114,-0.4L117,-0.4L117,0Z" fill="#c8700e"/>
<line x1="465.00" y1="949.22" x2="553.00" y2="949.22" stroke="#c8700e" stroke-width="0.9" stroke-opacity="0.28"/>
<path transform="translate(465.0,960.2) scale(0.7521,1)" d="M0,0L0,-0.3L15,-0.3L16,-0.5L17,-0.9L18,-2.4L19,-3.1L20,-2L21,-1.8L22,-1.8L23,-1.1L24,-0.6L25,-0.3L50,-0.3L51,-0.6L52,-0.6L53,-0.7L54,-0.6L55,-0.3L65,-0.3L66,-0.6L67,-1.1L68,-1.5L69,-2.1L70,-1.9L71,-1.8L72,-2.1L73,-1.4L74,-0.6L75,-0.3L86,-0.3L87,-1.8L88,-3.8L89,-5.8L90,-7.5L91,-7.5L92,-5.9L93,-5.9L94,-6L95,-6L96,-9L97,-9L98,-9.5L99,-9.5L100,-9.2L101,-9.2L102,-7.7L103,-7.7L104,-9.5L105,-9.5L106,-7.7L107,-7.7L108,-4.5L109,-2.7L110,-1.2L111,-0.3L117,-0.3L117,0Z" fill="#ff5e08"/>
<line x1="465.00" y1="959.95" x2="553.00" y2="959.95" stroke="#ff5e08" stroke-width="0.9" stroke-opacity="0.28"/>
<path transform="translate(465.0,971.0) scale(0.7521,1)" d="M0,0L0,-0.3L14,-0.3L15,-0.4L16,-0.7L17,-1.3L18,-1.7L19,-2.2L20,-2.7L21,-2.4L22,-2.1L23,-1.3L24,-0.7L25,-0.3L43,-0.3L44,-0.5L45,-0.7L46,-0.9L47,-1L48,-0.7L49,-0.5L50,-0.4L51,-0.3L72,-0.3L73,-0.5L74,-0.8L75,-1L76,-0.8L78,-0.8L79,-0.5L80,-0.3L91,-0.3L92,-0.4L93,-0.6L94,-0.6L95,-0.7L96,-0.8L97,-0.9L98,-1.2L99,-1.3L100,-1.1L102,-1.1L103,-1L104,-1L105,-0.8L106,-0.5L107,-0.4L108,-0.3L117,-0.3L117,0Z" fill="#ff9800"/>
<line x1="465.00" y1="970.68" x2="553.00" y2="970.68" stroke="#ff9800" stroke-width="0.9" stroke-opacity="0.28"/>
<path transform="translate(465.0,981.7) scale(0.7521,1)" d="M0,0L0,-0.7L1,-0.7L2,-0.6L4,-0.6L5,-0.7L6,-0.6L7,-0.8L8,-1.4L9,-1.7L10,-2L11,-2.3L12,-2L13,-2.3L14,-2.2L15,-2.4L16,-3.4L17,-3.5L18,-3.7L19,-3.6L20,-3.3L21,-3.2L22,-2.9L23,-2.6L24,-1.9L25,-1.6L26,-1.2L27,-1L28,-0.9L29,-0.7L30,-0.5L31,-0.4L32,-0.7L33,-0.7L34,-0.3L39,-0.3L40,-0.7L41,-0.7L42,-0.5L43,-0.6L44,-1.1L45,-1.2L46,-1.2L47,-1.3L48,-1.9L49,-2L50,-1.7L51,-1.8L52,-1.8L53,-1.9L55,-1.9L56,-2.6L57,-2.6L58,-1.8L59,-1.7L60,-2.3L61,-2.2L62,-2.3L63,-2.2L64,-2L65,-1.8L66,-1.2L67,-1L68,-1L69,-0.9L70,-0.9L71,-0.8L72,-0.6L73,-0.5L74,-0.9L75,-0.9L76,-0.7L77,-0.7L78,-0.3L79,-0.3L80,-0.4L81,-0.4L82,-0.7L83,-0.7L84,-0.4L85,-0.4L86,-0.7L87,-0.7L88,-0.4L89,-0.4L90,-0.8L91,-0.8L92,-0.4L95,-0.4L96,-0.7L97,-0.7L98,-0.3L99,-0.3L100,-0.5L103,-0.5L104,-0.6L105,-0.6L106,-0.3L107,-0.3L108,-0.5L109,-0.5L110,-0.4L113,-0.4L114,-0.8L115,-0.8L116,-0.5L117,-0.5L117,0Z" fill="#04045e"/>
<line x1="465.00" y1="981.41" x2="553.00" y2="981.41" stroke="#04045e" stroke-width="0.9" stroke-opacity="0.28"/>
<path transform="translate(465.0,992.4) scale(0.7521,1)" d="M0,0L0,-2.4L1,-2.4L2,-1.9L3,-2.1L4,-2.6L5,-3.3L6,-4.1L7,-4.7L8,-4.8L9,-5.2L10,-5.4L11,-5.6L12,-4.8L13,-4.8L14,-6.2L15,-6.2L16,-6L17,-6L18,-7.4L19,-7.4L20,-5.7L21,-5.6L22,-7.5L23,-7.4L24,-7L25,-6.7L26,-4.4L27,-4.1L28,-4L29,-3.5L30,-3.1L31,-2.5L32,-2.6L33,-1.8L34,-1.1L37,-1.1L38,-2.4L39,-2.4L40,-1.1L41,-1.1L42,-1.9L43,-1.9L44,-1.5L45,-1.9L46,-3.3L47,-4L48,-4L49,-4.4L50,-5.7L51,-6L52,-4.6L53,-4.7L54,-6.6L55,-6.6L56,-4.5L57,-4.5L58,-4.7L59,-4.7L60,-5.1L61,-5.1L62,-5.6L63,-5.5L64,-5.6L65,-5.5L66,-5.4L67,-5.1L68,-5.5L69,-5L70,-2.6L71,-2.2L72,-2.1L73,-1.9L74,-1.5L75,-1.5L76,-1.2L77,-1.2L78,-2.2L81,-2.2L82,-1.2L85,-1.2L86,-1.6L87,-1.6L88,-2.6L89,-2.6L90,-1.7L91,-1.7L92,-2.1L93,-3L94,-4.1L95,-4.9L96,-4.8L97,-5.2L98,-4.3L99,-4.4L100,-5.5L101,-5.5L102,-4.4L104,-4.4L105,-4.3L106,-4.4L107,-4.2L108,-5.1L109,-4.5L110,-2.9L111,-2.2L112,-1.1L113,-0.7L114,-2.4L115,-2.4L116,-1.3L117,-1.3L117,0Z" fill="#0b2c98"/>
<line x1="465.00" y1="992.14" x2="553.00" y2="992.14" stroke="#0b2c98" stroke-width="0.9" stroke-opacity="0.28"/>
<path transform="translate(465.0,1003.2) scale(0.7521,1)" d="M0,0L0,-1.2L1,-1.2L2,-1.5L3,-1.8L4,-1.8L5,-2L6,-1.7L7,-1.9L8,-2L9,-2.1L10,-2.6L11,-2.7L12,-2.7L13,-2.8L14,-3.2L15,-3.3L16,-3.4L17,-3.4L18,-4.5L19,-4.5L20,-3.5L21,-3.5L22,-3.7L23,-3.7L24,-3.2L25,-3.2L26,-4.4L27,-4.4L28,-4.2L29,-4.2L30,-2.9L31,-2.9L32,-4.1L33,-4.1L34,-3.2L35,-3.1L36,-2.6L37,-2.5L38,-2.8L39,-2.6L40,-2L41,-1.8L42,-2L43,-1.7L44,-1.7L45,-1.4L46,-1.3L47,-1.6L48,-1.9L49,-2.1L50,-2.6L51,-2.7L52,-2.4L53,-2.5L54,-2.8L55,-2.8L56,-2.5L57,-2.5L58,-2.3L59,-2.3L60,-3.4L61,-3.4L62,-2.6L63,-2.6L64,-3.3L65,-3.2L66,-2.8L67,-2.7L68,-2L69,-1.8L70,-2L71,-1.6L72,-1L73,-0.7L74,-1.1L75,-1.1L76,-0.9L77,-0.9L78,-1.5L79,-1.5L80,-0.9L81,-0.9L82,-1.1L83,-1.1L84,-1L85,-1L86,-0.9L89,-0.9L90,-1L91,-1L92,-1.1L93,-1.1L94,-1.6L95,-1.6L96,-1.1L97,-1.1L98,-0.7L99,-0.7L100,-0.5L101,-0.5L102,-1.3L105,-1.3L106,-1.1L109,-1.1L110,-0.5L111,-0.5L112,-1.4L113,-1.4L114,-0.5L117,-0.5L117,0Z" fill="#1a62d4"/>
<line x1="465.00" y1="1002.87" x2="553.00" y2="1002.87" stroke="#1a62d4" stroke-width="0.9" stroke-opacity="0.28"/>
<path transform="translate(465.0,1013.9) scale(0.7521,1)" d="M0,0L0,-1.3L1,-1.3L2,-1L3,-1.1L4,-1.5L5,-1.5L6,-1.6L7,-1.6L8,-1.2L9,-1.2L10,-2.1L12,-2.1L13,-2.2L14,-1.8L15,-1.8L16,-2L17,-2L18,-2.3L19,-2.3L20,-1.7L21,-1.7L22,-2.2L23,-2.2L24,-1.9L25,-1.9L26,-2.4L27,-2.4L28,-2.3L31,-2.3L32,-1.5L33,-1.5L34,-2.5L35,-2.5L36,-1.6L37,-1.6L38,-2.4L39,-2.4L40,-2.2L41,-2.2L42,-1.5L43,-1.5L44,-1.8L45,-1.8L46,-2.4L47,-2.4L48,-2.5L49,-2.5L50,-1.9L51,-1.9L52,-2.3L53,-2.3L54,-2.4L55,-2.4L56,-1.6L57,-1.6L58,-1.4L59,-1.4L60,-1.9L61,-1.8L63,-1.8L64,-1.2L65,-1.2L66,-1.6L67,-1.5L68,-1.1L69,-1.1L70,-1.5L71,-1.5L72,-1L73,-0.9L74,-1.3L75,-1.3L76,-1.1L77,-1.1L78,-1L79,-1L80,-1.1L81,-1.1L82,-0.9L83,-0.9L84,-1.6L85,-1.6L86,-1.8L87,-1.8L88,-1.1L89,-1.1L90,-1L93,-1L94,-1.3L95,-1.3L96,-1.4L97,-1.4L98,-1.9L99,-1.9L100,-1.2L101,-1.2L102,-0.8L105,-0.8L106,-0.6L107,-0.6L108,-0.9L109,-0.9L110,-1.1L111,-1.1L112,-1.6L113,-1.6L114,-1.4L115,-1.4L116,-1.1L117,-1.1L117,0Z" fill="#229ef6"/>
<line x1="465.00" y1="1013.60" x2="553.00" y2="1013.60" stroke="#229ef6" stroke-width="0.9" stroke-opacity="0.28"/>
<path transform="translate(465.0,1024.6) scale(0.7521,1)" d="M0,0L0,-0.3L35,-0.3L36,-2L37,-2L38,-2.6L39,-2.6L40,-0.3L43,-0.3L44,-2L45,-2L46,-0.3L102,-0.3L103,-3.1L104,-0.3L108,-0.3L109,-4.6L110,-6L111,-6L112,-5.2L114,-5.2L115,-0.3L117,-0.3L117,0Z" fill="#0a5c55"/>
<line x1="465.00" y1="1024.33" x2="553.00" y2="1024.33" stroke="#0a5c55" stroke-width="0.9" stroke-opacity="0.28"/>
<path transform="translate(465.0,1035.4) scale(0.7521,1)" d="M0,0L0,-3.4L1,-3.4L2,-4.3L3,-4.3L4,-3.4L5,-3.4L6,-3.1L7,-3.1L8,-5.2L9,-5.2L10,-5.7L11,-5.7L12,-4.6L13,-4.6L14,-2.7L15,-2.7L16,-6.1L17,-6.1L18,-1.9L19,-1.9L20,-3.5L21,-3.5L22,-4.9L23,-4.9L24,-0.3L28,-0.3L29,-1.7L30,-1.7L31,-0.3L47,-0.3L48,-2.3L49,-2.3L50,-1.7L51,-0.3L58,-0.3L59,-4.7L60,-2.8L61,-2.8L62,-1.9L63,-1.9L64,-2.6L65,-2.6L66,-3.5L67,-3.5L68,-4.1L69,-4.1L70,-2.9L71,-0.3L88,-0.3L89,-2L90,-2.3L91,-2.3L92,-1.4L93,-1.4L94,-0.3L117,-0.3L117,0Z" fill="#0a6230"/>
<line x1="465.00" y1="1035.06" x2="553.00" y2="1035.06" stroke="#0a6230" stroke-width="0.9" stroke-opacity="0.28"/>
<path transform="translate(465.0,1046.1) scale(0.7521,1)" d="M0,0L0,-0.3L19,-0.3L20,-5.1L21,-5.1L22,-5.5L23,-0.3L30,-0.3L31,-1.5L32,-1.7L33,-0.3L43,-0.3L44,-0.7L45,-0.7L46,-0.3L52,-0.3L53,-2.5L54,-2.2L55,-2.2L56,-2.8L57,-2.8L58,-3.7L59,-3.7L60,-1.5L61,-1.5L62,-2L63,-2L64,-1.9L65,-1.9L66,-3.5L67,-3.5L68,-2.5L69,-2.5L70,-0.3L87,-0.3L88,-1.8L89,-1.8L90,-1.2L91,-1.2L92,-2.4L93,-2.4L94,-1.9L95,-1.9L96,-2L97,-2L98,-1.4L99,-1.4L100,-2.6L101,-2.6L102,-1.6L103,-1.6L104,-1.9L105,-0.3L117,-0.3L117,0Z" fill="#149158"/>
<line x1="465.00" y1="1045.79" x2="553.00" y2="1045.79" stroke="#149158" stroke-width="0.9" stroke-opacity="0.28"/>
<path transform="translate(465.0,1056.8) scale(0.7521,1)" d="M0,0L0,-1.4L1,-1.4L2,-1.3L3,-1.3L4,-1.4L5,-1.4L6,-0.3L22,-0.3L23,-0.8L24,-1.1L25,-0.3L44,-0.3L45,-2.6L46,-3L47,-3L48,-3.2L49,-3.2L50,-2.2L51,-2.2L52,-0.3L57,-0.3L58,-3.8L59,-3.8L60,-0.3L65,-0.3L66,-1.2L67,-1.2L68,-1.3L69,-1.3L70,-1.7L71,-1.7L72,-1.6L73,-1.6L74,-1.2L75,-1.2L76,-2.1L77,-2.1L78,-1.2L79,-1.2L80,-0.3L117,-0.3L117,0Z" fill="#18a048"/>
<line x1="465.00" y1="1056.52" x2="553.00" y2="1056.52" stroke="#18a048" stroke-width="0.9" stroke-opacity="0.28"/>
<path transform="translate(557.4,906.6) scale(0.7688,1)" d="M0,0L0,-0.3L1,-0.3L2,-0.4L3,-0.4L4,-0.3L9,-0.3L10,-0.4L11,-0.4L12,-0.3L13,-0.3L14,-0.6L15,-0.6L16,-0.4L19,-0.4L20,-0.3L21,-0.3L22,-0.4L23,-0.4L24,-0.6L25,-0.6L26,-0.4L32,-0.4L32,0Z" fill="#6e0838"/>
<line x1="557.40" y1="906.30" x2="582.00" y2="906.30" stroke="#6e0838" stroke-width="0.9" stroke-opacity="0.28"/>
<path transform="translate(557.4,917.3) scale(0.7688,1)" d="M0,0L0,-0.6L1,-0.6L2,-0.3L7,-0.3L8,-0.5L9,-0.5L10,-0.4L11,-0.4L12,-0.3L13,-0.3L14,-0.5L15,-0.5L16,-0.3L19,-0.3L20,-0.4L21,-0.4L22,-1.6L23,-3.9L24,-8L25,-5.9L26,-2.1L27,-0.5L28,-0.6L29,-0.6L30,-0.3L32,-0.3L32,0Z" fill="#9e0838"/>
<line x1="557.40" y1="917.03" x2="582.00" y2="917.03" stroke="#9e0838" stroke-width="0.9" stroke-opacity="0.28"/>
<path transform="translate(557.4,928.1) scale(0.7688,1)" d="M0,0L0,-0.4L1,-0.4L2,-0.5L3,-0.5L4,-0.3L5,-0.3L6,-0.5L7,-0.5L8,-0.3L17,-0.3L18,-0.4L19,-0.4L20,-0.3L21,-0.4L22,-1.8L23,-4.6L24,-5.1L25,-3.8L26,-1.7L27,-0.4L28,-0.5L29,-0.5L30,-0.6L31,-0.6L32,-0.3L32,0Z" fill="#d00a0a"/>
<line x1="557.40" y1="927.76" x2="582.00" y2="927.76" stroke="#d00a0a" stroke-width="0.9" stroke-opacity="0.28"/>
<path transform="translate(557.4,938.8) scale(0.7688,1)" d="M0,0L0,-0.3L21,-0.3L22,-1.4L23,-3.4L24,-3.3L25,-2.4L26,-1.6L27,-0.3L32,-0.3L32,0Z" fill="#dc4410"/>
<line x1="557.40" y1="938.49" x2="582.00" y2="938.49" stroke="#dc4410" stroke-width="0.9" stroke-opacity="0.28"/>
<path transform="translate(557.4,949.5) scale(0.7688,1)" d="M0,0L0,-0.3L9,-0.3L10,-0.4L11,-0.6L12,-0.8L13,-1.2L14,-2L15,-2.7L16,-3.9L17,-5L18,-6.6L19,-7.8L20,-5.8L21,-6.4L22,-9.5L23,-9.5L24,-8.1L25,-7.6L26,-6.4L27,-5.6L28,-7.2L29,-5.8L30,-3.9L31,-3L32,-1.9L32,0Z" fill="#c8700e"/>
<line x1="557.40" y1="949.22" x2="582.00" y2="949.22" stroke="#c8700e" stroke-width="0.9" stroke-opacity="0.28"/>
<path transform="translate(557.4,960.2) scale(0.7688,1)" d="M0,0L0,-0.3L4,-0.3L5,-0.5L6,-0.6L7,-0.9L8,-1.6L9,-2.1L10,-1.9L11,-2.5L12,-4.5L13,-5.5L14,-4.1L15,-4.7L16,-6.1L17,-6.6L18,-7.1L19,-7.3L20,-8.2L21,-7.9L22,-5.3L23,-4.8L24,-4.9L25,-4.1L26,-3L27,-2.4L28,-2.4L29,-1.8L30,-1.3L31,-0.9L32,-0.7L32,0Z" fill="#ff5e08"/>
<line x1="557.40" y1="959.95" x2="582.00" y2="959.95" stroke="#ff5e08" stroke-width="0.9" stroke-opacity="0.28"/>
<path transform="translate(557.4,971.0) scale(0.7688,1)" d="M0,0L0,-0.3L16,-0.3L17,-0.4L18,-1L19,-1.7L20,-1.6L21,-2.2L22,-4.7L23,-5.5L24,-3.8L25,-3.6L26,-4.3L27,-3.3L28,-2.4L29,-1.5L30,-0.7L31,-0.4L32,-0.3L32,0Z" fill="#ff9800"/>
<line x1="557.40" y1="970.68" x2="582.00" y2="970.68" stroke="#ff9800" stroke-width="0.9" stroke-opacity="0.28"/>
<path transform="translate(557.4,981.7) scale(0.7688,1)" d="M0,0L0,-1.2L1,-1.2L2,-1.6L3,-1.6L4,-1.5L5,-1.5L6,-0.9L7,-0.9L8,-1.8L9,-1.8L10,-0.7L11,-0.7L12,-1.8L13,-1.8L14,-1.4L15,-1.4L16,-0.9L19,-0.9L20,-0.8L21,-0.8L22,-1.2L23,-2.1L24,-3.8L25,-2.2L26,-1.4L27,-1.4L28,-0.8L29,-0.8L30,-1.3L31,-1.3L32,-1L32,0Z" fill="#04045e"/>
<line x1="557.40" y1="981.41" x2="582.00" y2="981.41" stroke="#04045e" stroke-width="0.9" stroke-opacity="0.28"/>
<path transform="translate(557.4,992.4) scale(0.7688,1)" d="M0,0L0,-0.9L1,-0.9L2,-1.1L3,-1.1L4,-0.6L7,-0.6L8,-1L9,-1L10,-0.6L11,-0.6L12,-1.2L13,-1.2L14,-1.5L15,-1.5L16,-0.8L17,-0.8L18,-1L19,-1L20,-1.3L21,-1.3L22,-3.3L23,-5.9L24,-4.6L25,-1.2L26,-1.1L27,-2.5L28,-2L29,-1.3L30,-1.2L31,-1.2L32,-0.7L32,0Z" fill="#0b2c98"/>
<line x1="557.40" y1="992.14" x2="582.00" y2="992.14" stroke="#0b2c98" stroke-width="0.9" stroke-opacity="0.28"/>
<path transform="translate(557.4,1003.2) scale(0.7688,1)" d="M0,0L0,-0.4L1,-0.4L2,-0.6L3,-0.6L4,-0.8L5,-0.8L6,-0.9L7,-0.9L8,-0.5L9,-0.5L10,-0.8L11,-0.8L12,-0.5L13,-0.5L14,-0.8L15,-0.8L16,-0.3L17,-0.3L18,-0.5L19,-0.5L20,-0.6L21,-0.6L22,-1.8L23,-3.3L24,-3.1L25,-0.6L26,-0.4L27,-0.4L28,-1L29,-1L30,-0.8L31,-0.8L32,-0.7L32,0Z" fill="#1a62d4"/>
<line x1="557.40" y1="1002.87" x2="582.00" y2="1002.87" stroke="#1a62d4" stroke-width="0.9" stroke-opacity="0.28"/>
<path transform="translate(557.4,1013.9) scale(0.7688,1)" d="M0,0L0,-0.6L1,-0.6L2,-0.3L3,-0.3L4,-0.7L5,-0.7L6,-0.5L7,-0.5L8,-0.4L9,-0.4L10,-0.5L11,-0.5L12,-0.8L13,-0.8L14,-0.3L15,-0.3L16,-0.4L17,-0.4L18,-0.6L19,-0.6L20,-0.4L21,-0.4L22,-0.5L23,-0.5L24,-0.4L27,-0.4L28,-0.7L31,-0.7L32,-0.4L32,0Z" fill="#229ef6"/>
<line x1="557.40" y1="1013.60" x2="582.00" y2="1013.60" stroke="#229ef6" stroke-width="0.9" stroke-opacity="0.28"/>
<path transform="translate(557.4,1024.6) scale(0.7688,1)" d="M0,0L0,-0.3L12,-0.3L13,-1.2L14,-3.3L15,-3.3L16,-2.2L17,-2.2L18,-2.9L19,-2.9L20,-1.8L21,-1.8L22,-2.7L23,-2.7L24,-2.3L25,-2.3L26,-1.6L27,-1.6L28,-1.8L29,-1.8L30,-1.5L31,-1.5L32,-0.3L32,0Z" fill="#0a5c55"/>
<line x1="557.40" y1="1024.33" x2="582.00" y2="1024.33" stroke="#0a5c55" stroke-width="0.9" stroke-opacity="0.28"/>
<path transform="translate(557.4,1035.4) scale(0.7688,1)" d="M0,0L0,-3.3L1,-3.3L2,-3.4L3,-3.4L4,-3.6L5,-3.6L6,-2.2L7,-2.2L8,-2.7L9,-2.7L10,-1.5L11,-1.5L12,-2.8L13,-2.8L14,-3.2L15,-3.2L16,-2.6L19,-2.6L20,-3.8L21,-3.8L22,-1.3L23,-1.3L24,-3.4L25,-3.4L26,-1.4L27,-1.4L28,-1.7L29,-1.7L30,-1.6L31,-1.6L32,-2.6L32,0Z" fill="#0a6230"/>
<line x1="557.40" y1="1035.06" x2="582.00" y2="1035.06" stroke="#0a6230" stroke-width="0.9" stroke-opacity="0.28"/>
<path transform="translate(557.4,1046.1) scale(0.7688,1)" d="M0,0L0,-2.1L1,-2.1L2,-1.2L5,-1.2L6,-1.8L7,-1.8L8,-2.9L9,-2.9L10,-3.6L11,-3.6L12,-3.7L13,-3.7L14,-2.5L15,-2.5L16,-1.5L17,-1.5L18,-1.8L19,-1.8L20,-3.1L21,-3.1L22,-3L23,-3L24,-2.3L25,-2.3L26,-1.4L27,-1.4L28,-2.6L29,-2.6L30,-2.7L31,-2.7L32,-2.5L32,0Z" fill="#149158"/>
<line x1="557.40" y1="1045.79" x2="582.00" y2="1045.79" stroke="#149158" stroke-width="0.9" stroke-opacity="0.28"/>
<path transform="translate(557.4,1056.8) scale(0.7688,1)" d="M0,0L0,-0.3L9,-0.3L10,-2.9L11,-2.9L12,-1.1L13,-1.1L14,-1.5L15,-2.1L16,-5.2L17,-1.7L18,-2L19,-2L20,-1.9L21,-1.9L22,-2.8L23,-2.8L24,-3.2L25,-3.2L26,-1.8L27,-1.8L28,-2.9L29,-2.9L30,-2L31,-2L32,-2.7L32,0Z" fill="#18a048"/>
<line x1="557.40" y1="1056.52" x2="582.00" y2="1056.52" stroke="#18a048" stroke-width="0.9" stroke-opacity="0.28"/>
<text x="87.60" y="900.57" font-size="5.50" text-anchor="end" fill="#333" >0-183</text>
<text x="94.10" y="900.57" font-size="5.50" fill="#333" >0-54</text>
<text x="180.00" y="900.57" font-size="5.50" fill="#333" >0-18</text>
<text x="242.50" y="900.57" font-size="5.50" fill="#333" >0-59</text>
<text x="338.70" y="900.57" font-size="5.50" fill="#333" >0-78</text>
<text x="402.50" y="900.57" font-size="5.50" fill="#333" >0-484</text>
<text x="465.80" y="900.57" font-size="5.50" fill="#333" >0-31</text>
<text x="558.20" y="900.57" font-size="5.50" fill="#333" >0-25</text>
<text x="87.60" y="944.07" font-size="5.50" text-anchor="end" fill="#333" >0-46</text>
<text x="94.10" y="944.07" font-size="5.50" fill="#333" >0-19</text>
<text x="180.00" y="944.07" font-size="5.50" fill="#333" >0-24</text>
<text x="242.50" y="944.07" font-size="5.50" fill="#333" >0-21</text>
<text x="338.70" y="944.07" font-size="5.50" fill="#333" >0-8.45</text>
<text x="402.50" y="944.07" font-size="5.50" fill="#333" >0-1450</text>
<text x="465.80" y="944.07" font-size="5.50" fill="#333" >0-3.62</text>
<text x="558.20" y="944.07" font-size="5.50" fill="#333" >0-5.3</text>
<text x="87.60" y="974.77" font-size="5.50" text-anchor="end" fill="#333" >0-9.38</text>
<text x="94.10" y="974.77" font-size="5.50" fill="#333" >0-5.59</text>
<text x="180.00" y="974.77" font-size="5.50" fill="#333" >0-2.14</text>
<text x="242.50" y="974.77" font-size="5.50" fill="#333" >0-1.90</text>
<text x="338.70" y="974.77" font-size="5.50" fill="#333" >0-1.49</text>
<text x="402.50" y="974.77" font-size="5.50" fill="#333" >0-234</text>
<text x="465.80" y="974.77" font-size="5.50" fill="#333" >0.3.22</text>
<text x="558.20" y="974.77" font-size="5.50" fill="#333" >0-1.6</text>
<text x="87.60" y="1018.87" font-size="5.50" text-anchor="end" fill="#333" >0-.63</text>
<text x="94.10" y="1018.87" font-size="5.50" fill="#333" >0-3</text>
<text x="180.00" y="1018.87" font-size="5.50" fill="#333" >0-.85</text>
<text x="242.50" y="1018.87" font-size="5.50" fill="#333" >0-1.15</text>
<text x="338.70" y="1018.87" font-size="5.50" fill="#333" >0-2.17</text>
<text x="402.50" y="1018.87" font-size="5.50" fill="#333" >0-23</text>
<text x="465.80" y="1018.87" font-size="5.50" fill="#333" >0-.41</text>
<text x="558.20" y="1018.87" font-size="5.50" fill="#333" >0-4.1</text>
<line x1="38.60" y1="905.60" x2="38.60" y2="938.30" stroke="#e8202a" stroke-width="1.1" />
<text x="0" y="2.94" font-size="8.20" text-anchor="middle" fill="#222" transform="translate(31.50 919.40) rotate(-90)">ATAC</text>
<line x1="38.60" y1="940.20" x2="38.60" y2="971.00" stroke="#d8862a" stroke-width="1.1" />
<text x="0" y="2.94" font-size="8.20" text-anchor="middle" fill="#222" transform="translate(31.50 954.60) rotate(-90)">H3K4me3</text>
<line x1="38.60" y1="972.20" x2="38.60" y2="1015.00" stroke="#3a88c8" stroke-width="1.1" />
<text x="0" y="2.94" font-size="8.20" text-anchor="middle" fill="#222" transform="translate(31.50 993.60) rotate(-90)">H3K27ac</text>
<line x1="38.60" y1="1016.20" x2="38.60" y2="1058.50" stroke="#3a9a50" stroke-width="1.1" />
<text x="0" y="2.94" font-size="8.20" text-anchor="middle" fill="#222" transform="translate(31.50 1036.40) rotate(-90)">H3k27me3</text>
<text x="588.60" y="905.80" font-size="8.10" fill="#222" >Sensitive</text>
<text x="588.60" y="916.59" font-size="8.10" fill="#222" >IR-Resistant</text>
<text x="588.60" y="927.38" font-size="8.10" fill="#222" >IR-Resistant + IDH305</text>
<text x="588.60" y="938.17" font-size="8.10" fill="#222" >IR-Resistant + GSK321</text>
<text x="588.60" y="948.96" font-size="8.10" fill="#222" >Sensitive</text>
<text x="588.60" y="959.75" font-size="8.10" fill="#222" >IR-Resistant</text>
<text x="588.60" y="970.54" font-size="8.10" fill="#222" >IR-Resistant + IDH305</text>
<text x="588.60" y="981.33" font-size="8.10" fill="#222" >Sensitive</text>
<text x="588.60" y="992.12" font-size="8.10" fill="#222" >IR-Resistant</text>
<text x="588.60" y="1002.91" font-size="8.10" fill="#222" >IR-Resistant + IDH305</text>
<text x="588.60" y="1013.70" font-size="8.10" fill="#222" >IR-Resistant + GSK321</text>
<text x="588.60" y="1024.49" font-size="8.10" fill="#222" >Sensitive</text>
<text x="588.60" y="1035.28" font-size="8.10" fill="#222" >IR-Resistant</text>
<text x="588.60" y="1046.07" font-size="8.10" fill="#222" >IR-Resistant + IDH305</text>
<text x="588.60" y="1056.86" font-size="8.10" fill="#222" >IR-Resistant + GSK321</text>
<text x="0.00" y="11.70" font-size="17.50" >A</text>
<text x="124.70" y="11.70" font-size="17.50" >B</text>
<text x="0.00" y="188.60" font-size="17.50" >C</text>
<text x="402.40" y="188.80" font-size="17.50" >D</text>
<text x="-0.60" y="505.10" font-size="17.50" >E</text>
<text x="236.60" y="504.80" font-size="17.50" >F</text>
<text x="445.90" y="508.00" font-size="17.50" >G</text>
<text x="-0.50" y="686.00" font-size="17.50" >H</text>
<text x="237.40" y="685.50" font-size="17.50" >I</text>
<text x="451.50" y="686.00" font-size="17.50" >J</text>
<text x="-0.50" y="864.90" font-size="17.50" >K</text>
</svg>
</body></html>
